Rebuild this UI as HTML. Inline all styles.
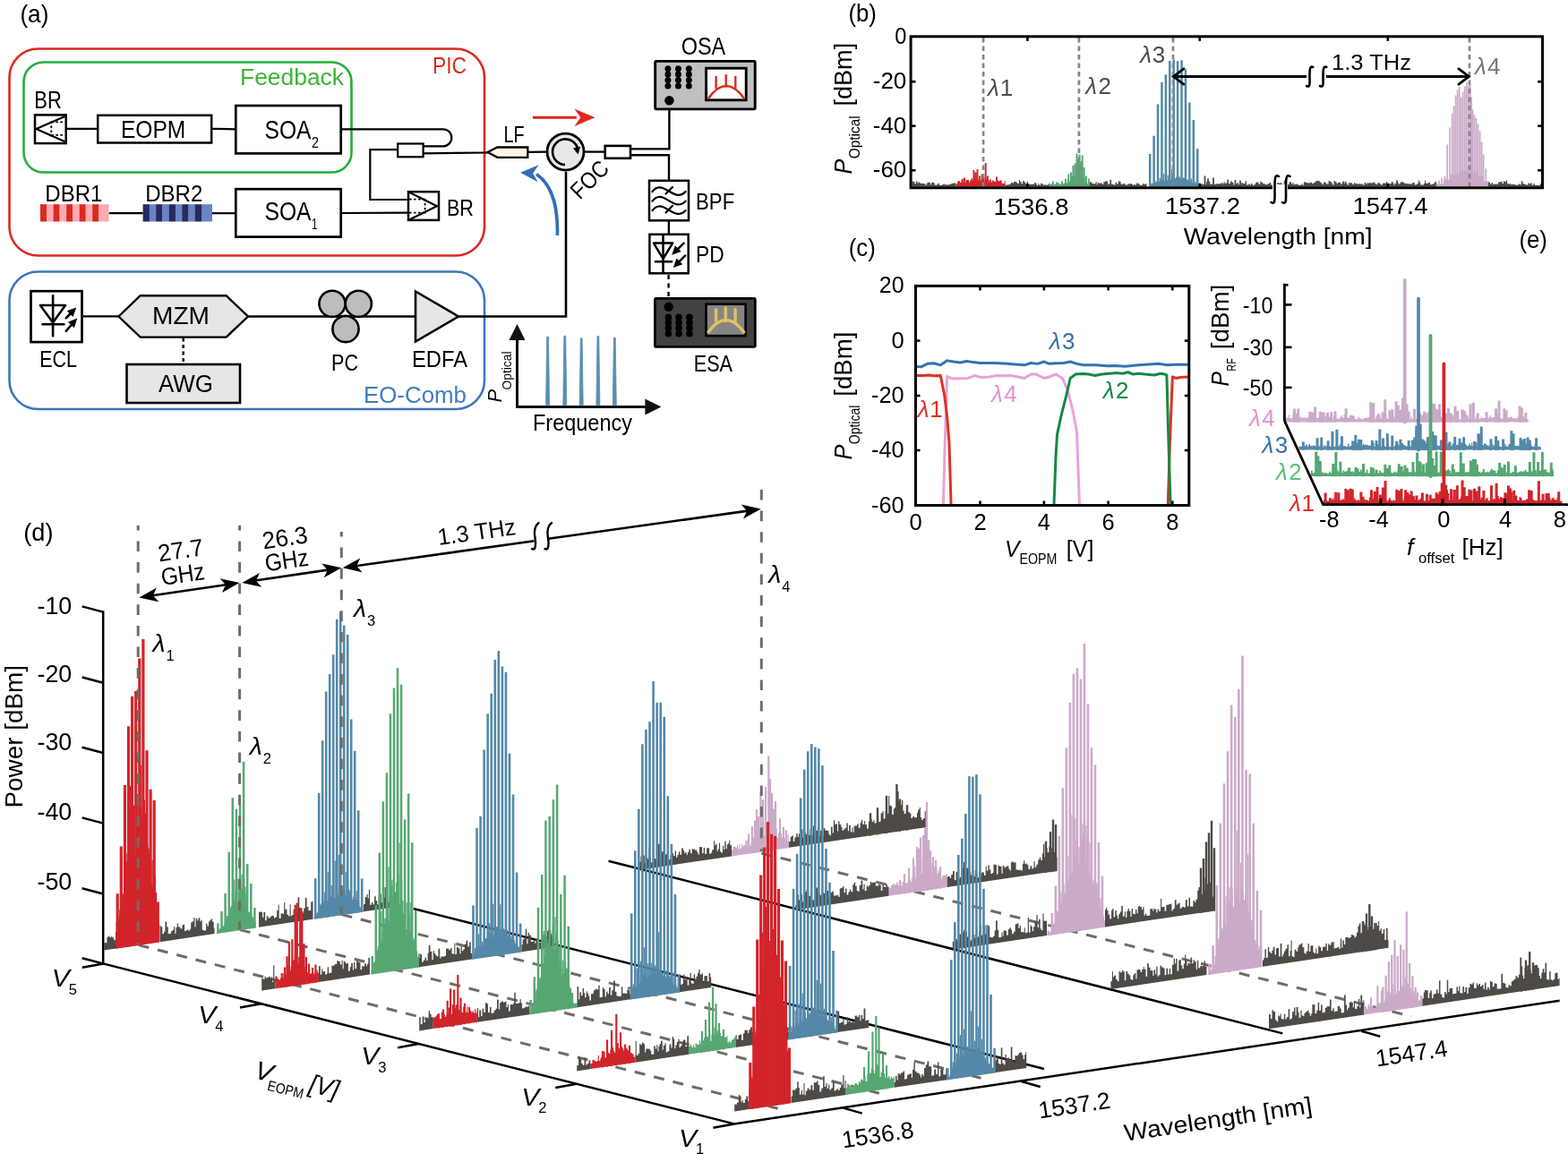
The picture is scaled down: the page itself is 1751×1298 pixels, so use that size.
<!DOCTYPE html>
<html><head><meta charset="utf-8"><title>Figure</title>
<style>
html,body{margin:0;padding:0;background:#fff;overflow:hidden;width:1751px;height:1298px;}
svg{display:block;}
text{font-family:'Liberation Sans',Arial,sans-serif;}
</style></head><body>
<svg width="1751" height="1298" viewBox="0 0 1751 1298">
<rect width="1751" height="1298" fill="#fff"/>
<g id="pd">
<line x1="115.2" y1="1076.4" x2="819.8" y2="1255.4" stroke="#000" stroke-width="2.5" />
<line x1="819.8" y1="1255.4" x2="1741.6" y2="1117.7" stroke="#000" stroke-width="2.5" />
<line x1="461.7" y1="1015" x2="1166" y2="1194" stroke="#000" stroke-width="2.5" />
<line x1="679.5" y1="961.7" x2="1432.3" y2="1154.4" stroke="#000" stroke-width="2.5" />
<line x1="154.6" y1="1055.6" x2="868.6" y2="1238.2" stroke="#6e6d65" stroke-width="3" stroke-dasharray="12,10" stroke-dashoffset="0"/>
<line x1="267.8" y1="1038.6" x2="981.8" y2="1221.2" stroke="#6e6d65" stroke-width="3" stroke-dasharray="12,10" stroke-dashoffset="0"/>
<line x1="381.5" y1="1021.6" x2="1095.5" y2="1204.2" stroke="#6e6d65" stroke-width="3" stroke-dasharray="12,10" stroke-dashoffset="0"/>
<line x1="850.3" y1="953" x2="1576" y2="1135.3" stroke="#6e6d65" stroke-width="3" stroke-dasharray="12,10" stroke-dashoffset="0"/>
<line x1="115.2" y1="682.2" x2="115.2" y2="1077.6" stroke="#000" stroke-width="2.5" />
<line x1="115.2" y1="683.6" x2="91.6" y2="677.4" stroke="#000" stroke-width="2.5" />
<line x1="115.2" y1="762.7" x2="91.6" y2="756.5" stroke="#000" stroke-width="2.5" />
<line x1="115.2" y1="841" x2="91.6" y2="834.8" stroke="#000" stroke-width="2.5" />
<line x1="115.2" y1="919.6" x2="91.6" y2="913.4" stroke="#000" stroke-width="2.5" />
<line x1="115.2" y1="998.5" x2="91.6" y2="992.3" stroke="#000" stroke-width="2.5" />
<line x1="115.2" y1="1076.4" x2="91.6" y2="1070.2" stroke="#000" stroke-width="2.5" />
<line x1="115.2" y1="1076.4" x2="91.8" y2="1080.8" stroke="#000" stroke-width="2.5" />
<line x1="291.35" y1="1121.15" x2="267.95" y2="1125.55" stroke="#000" stroke-width="2.5" />
<line x1="467.5" y1="1165.9" x2="444.1" y2="1170.3" stroke="#000" stroke-width="2.5" />
<line x1="643.65" y1="1210.65" x2="620.25" y2="1215.05" stroke="#000" stroke-width="2.5" />
<line x1="819.8" y1="1255.4" x2="796.4" y2="1259.8" stroke="#000" stroke-width="2.5" />
<line x1="941.7" y1="1237.6" x2="962.7" y2="1243.6" stroke="#000" stroke-width="2.5" />
<line x1="1140.7" y1="1208" x2="1161.7" y2="1214" stroke="#000" stroke-width="2.5" />
<line x1="1520.2" y1="1151.7" x2="1541.2" y2="1157.7" stroke="#000" stroke-width="2.5" />
<path d="M712.6,971.9 L712.6,961.98 L714.17,961.75 L714.17,963.03 L715.48,962.84 L715.48,956.47 L716.66,956.3 L716.66,954.81 L718.23,954.58 L718.23,955.83 L719.8,955.59 L719.8,964.27 L721.28,964.05 L721.28,957.97 L723.22,957.68 L723.22,959.41 L724.29,959.25 L724.29,945.94 L725.46,945.77 L725.46,956.6 L726.91,956.38 L726.91,963.51 L728.74,963.24 L728.74,958.86 L730.65,958.58 L730.65,959.16 L732.14,958.94 L732.14,960.08 L733.52,959.87 L733.52,962.35 L735.03,962.12 L735.03,942.77 L736.79,942.51 L736.79,959.9 L738.2,959.69 L738.2,952.29 L739.43,952.1 L739.43,951.09 L740.57,950.93 L740.57,950.97 L741.76,950.8 L741.76,954.6 L743.57,954.33 L743.57,954.4 L744.71,954.23 L744.71,952.7 L745.79,952.54 L745.79,956.75 L746.86,956.59 L746.86,960.21 L748.54,959.97 L748.54,955.39 L750.07,955.17 L750.07,953.21 L752,952.92 L752,955.91 L753.72,955.65 L753.72,950.45 L755.02,950.26 L755.02,957.76 L756.47,957.54 L756.47,955.07 L757.85,954.86 L757.85,951.39 L759.46,951.15 L759.46,954.87 L761.1,954.63 L761.1,947.54 L762.85,947.27 L762.85,950.01 L764.2,949.81 L764.2,953.26 L765.61,953.05 L765.61,951.82 L766.78,951.64 L766.78,955.01 L767.96,954.83 L767.96,951.96 L769.32,951.76 L769.32,949.02 L770.96,948.78 L770.96,953.26 L772.79,952.98 L772.79,948.22 L774.06,948.03 L774.06,948.73 L775.93,948.45 L775.93,949.64 L777.36,949.42 L777.36,949.65 L778.43,949.49 L778.43,952.2 L779.63,952.02 L779.63,954.81 L780.97,954.61 L780.97,946.29 L782.53,946.06 L782.53,946.25 L784.08,946.02 L784.08,953.32 L785.68,953.08 L785.68,946.9 L787.21,946.68 L787.21,954.03 L789.05,953.75 L789.05,947.61 L790.86,947.35 L790.86,947.37 L792.13,947.18 L792.13,953.83 L793.98,953.55 L793.98,952.6 L795.16,952.43 L795.16,949.4 L797.07,949.12 L797.07,939.27 L798.26,939.09 L798.26,944.19 L799.6,943.99 L799.6,942.65 L800.67,942.49 L800.67,950.94 L801.78,950.78 L801.78,948.45 L802.92,948.28 L802.92,941.56 L804.09,941.39 L804.09,951.31 L805.37,951.12 L805.37,952.68 L807.05,952.43 L807.05,944.78 L808.16,944.62 L808.16,949.08 L809.29,948.92 L809.29,939.79 L810.65,939.59 L810.65,948.15 L811.81,947.98 L811.81,943.47 L812.91,943.3 L812.91,942.27 L814.22,942.07 L814.22,938.79 L815.28,938.63 L815.28,944.24 L817,943.98 L817,956.38 Z" fill="#4e4a45" />
<path d="M817,956.38 L817,949.52 L818.34,949.32 L818.34,946.2 L819.65,946.01 L819.65,945.91 L821.46,945.64 L821.46,946.92 L823.03,946.68 L823.03,944.33 L824.3,944.14 L824.3,948.79 L825.34,948.63 L825.34,943.09 L826.46,942.93 L826.46,947.99 L828.17,947.74 L828.17,943.07 L829.36,942.89 L829.36,945.71 L830.47,945.54 L830.47,944.29 L832.26,944.02 L832.26,939.21 L833.44,939.03 L833.44,939.07 L834.72,938.88 L834.72,946.09 L836.1,945.89 L836.1,941.78 L837.5,941.57 L837.5,944.81 L838.56,944.65 L838.56,941.85 L839.56,941.71 L839.56,941.18 L841.03,940.97 L841.03,935.24 L842.56,935.01 L842.56,930.79 L843.87,930.6 L843.87,930.98 L844.97,930.81 L844.97,929.23 L845.99,929.08 L845.99,924.21 L847.5,923.99 L847.5,923.52 L848.6,923.36 L848.6,927.75 L850.28,927.5 L850.28,918.73 L851.75,918.51 L851.75,918.63 L853.31,918.39 L853.31,933.93 L854.4,933.76 L854.4,931.19 L856.08,930.94 L856.08,919.81 L857.59,919.58 L857.59,921.32 L858.57,921.18 L858.57,916.09 L859.97,915.88 L859.97,920.43 L861.01,920.28 L861.01,926.01 L862.05,925.85 L862.05,923.14 L863.21,922.97 L863.21,917.11 L864.6,916.9 L864.6,928.07 L866.15,927.84 L866.15,924.94 L867.67,924.71 L867.67,936.34 L868.87,936.16 L868.87,930.4 L870.32,930.19 L870.32,938.74 L871.53,938.56 L871.53,930.48 L873.08,930.25 L873.08,935.47 L874.45,935.26 L874.45,936.09 L876.18,935.83 L876.18,936.52 L877.95,936.26 L877.95,939.63 L879.61,939.39 L879.61,932.28 L880.82,932.1 L880.82,938.03 L881,938 L881,946.87 Z" fill="#cbaac9" />
<path d="M857.2,950.71 L857.2,844.25 L859.4,844.25 L859.4,950.38 Z M848.4,952.02 L848.4,885.55 L850.6,885.55 L850.6,951.69 Z M853.9,951.2 L853.9,878.74 L856.1,878.74 L856.1,950.87 Z M860.9,950.16 L860.9,885.7 L863.1,885.7 L863.1,949.83 Z M843.9,952.69 L843.9,904.22 L846.1,904.22 L846.1,952.36 Z M864.9,949.57 L864.9,895.1 L867.1,895.1 L867.1,949.24 Z M838.9,953.43 L838.9,922.97 L841.1,922.97 L841.1,953.1 Z M869.9,948.82 L869.9,914.36 L872.1,914.36 L872.1,948.5 Z M850.9,951.65 L850.9,893.18 L853.1,893.18 L853.1,951.32 Z M834.9,954.02 L834.9,931.56 L837.1,931.56 L837.1,953.7 Z M873.9,948.23 L873.9,923.76 L876.1,923.76 L876.1,947.9 Z M845.9,952.39 L845.9,911.93 L848.1,911.93 L848.1,952.06 Z M858.9,950.46 L858.9,869.99 L861.1,869.99 L861.1,950.13 Z M862.9,949.86 L862.9,903.4 L865.1,903.4 L865.1,949.54 Z M841.9,952.98 L841.9,916.52 L844.1,916.52 L844.1,952.66 Z M876.9,947.78 L876.9,927.32 L879.1,927.32 L879.1,947.46 Z" fill="#cbaac9"/>
<path d="M881,946.87 L881,940.23 L882.73,939.98 L882.73,935.08 L883.89,934.91 L883.89,933.81 L885.82,933.52 L885.82,939.93 L887.37,939.7 L887.37,935.54 L889.24,935.26 L889.24,931.1 L890.69,930.89 L890.69,935.09 L891.82,934.92 L891.82,931.48 L893.55,931.23 L893.55,930.5 L894.9,930.3 L894.9,926.57 L896.41,926.35 L896.41,935.86 L897.7,935.67 L897.7,929.35 L899.51,929.08 L899.51,931.73 L901.37,931.45 L901.37,931.28 L903.25,931 L903.25,933.25 L904.53,933.06 L904.53,926.22 L906.43,925.94 L906.43,932.9 L907.89,932.68 L907.89,922.58 L909.77,922.3 L909.77,927.19 L911.39,926.94 L911.39,927.98 L912.96,927.74 L912.96,923.51 L914.43,923.29 L914.43,933.39 L915.9,933.17 L915.9,927.75 L917.23,927.55 L917.23,929.04 L918.51,928.85 L918.51,933.74 L919.59,933.58 L919.59,925.34 L921.36,925.08 L921.36,927.79 L922.69,927.6 L922.69,927.79 L924.01,927.59 L924.01,928.25 L925.43,928.03 L925.43,932.3 L926.84,932.1 L926.84,933.64 L927.93,933.48 L927.93,923.74 L929.64,923.49 L929.64,930.61 L930.86,930.43 L930.86,916.49 L932.25,916.28 L932.25,920.9 L933.62,920.7 L933.62,920.56 L934.99,920.35 L934.99,928.59 L936.08,928.43 L936.08,917.5 L937.46,917.3 L937.46,921.09 L939.2,920.83 L939.2,924.05 L940.48,923.86 L940.48,927.64 L941.78,927.45 L941.78,926.69 L943.47,926.44 L943.47,924.98 L945.35,924.7 L945.35,919.5 L946.82,919.29 L946.82,928.54 L948.1,928.35 L948.1,922.05 L949.87,921.79 L949.87,929.45 L951.47,929.21 L951.47,924.4 L952.59,924.23 L952.59,929.84 L953.7,929.67 L953.7,922.65 L955.54,922.38 L955.54,922.79 L957.04,922.57 L957.04,920.48 L958.7,920.23 L958.7,924.99 L960.51,924.72 L960.51,919.36 L961.78,919.17 L961.78,916.03 L963.18,915.83 L963.18,920.9 L965.13,920.61 L965.13,917.1 L966.21,916.94 L966.21,921.25 L968.1,920.97 L968.1,925.65 L969.85,925.39 L969.85,917.39 L971.23,917.19 L971.23,917.69 L972.46,917.5 L972.46,915.11 L973.7,914.93 L973.7,918.18 L975.24,917.95 L975.24,916.28 L976.55,916.08 L976.55,919.66 L977.92,919.45 L977.92,919.19 L979.15,919.01 L979.15,913.79 L980.93,913.53 L980.93,918.32 L982,918.17 L982,917.76 L983.61,917.52 L983.61,908.45 L985.49,908.17 L985.49,906.28 L986.66,906.11 L986.66,914.83 L988.54,914.55 L988.54,906.02 L989.73,905.84 L989.73,899.47 L990.95,899.29 L990.95,908.84 L992.22,908.65 L992.22,889.26 L993.3,889.1 L993.3,899.75 L994.63,899.55 L994.63,900.49 L996.07,900.27 L996.07,909.9 L997.81,909.64 L997.81,903.56 L998.98,903.39 L998.98,902.09 L1000.6,901.85 L1000.6,904.05 L1001.7,903.89 L1001.7,884.19 L1003.65,883.9 L1003.65,895.08 L1005.14,894.86 L1005.14,899.16 L1007.03,898.88 L1007.03,894.04 L1008.32,893.84 L1008.32,905.41 L1009.61,905.22 L1009.61,909.35 L1011.5,909.07 L1011.5,906.49 L1012.66,906.32 L1012.66,907.09 L1014.21,906.86 L1014.21,907.3 L1015.82,907.06 L1015.82,908.71 L1017.39,908.47 L1017.39,913.95 L1019.11,913.69 L1019.11,912.13 L1021.05,911.84 L1021.05,913.14 L1022.13,912.98 L1022.13,913.36 L1023.98,913.08 L1023.98,908 L1025.13,907.83 L1025.13,904.55 L1026.74,904.31 L1026.74,902.16 L1027.88,901.99 L1027.88,913.25 L1029.16,913.06 L1029.16,916.01 L1030.8,915.77 L1030.8,914.27 L1032.66,914 L1032.66,906.25 L1033.8,906.08 L1033.8,924.17 Z" fill="#4e4a45" />
<path d="M1000.2,929.46 L1000.2,875.98 L1002.6,875.98 L1002.6,929.1 Z M988.8,931.15 L988.8,888.68 L991.2,888.68 L991.2,930.8 Z M1003.8,928.92 L1003.8,892.45 L1006.2,892.45 L1006.2,928.57 Z M978.8,932.64 L978.8,902.16 L981.2,902.16 L981.2,932.28 Z M1011.8,927.74 L1011.8,899.26 L1014.2,899.26 L1014.2,927.38 Z M970.8,933.83 L970.8,908.35 L973.2,908.35 L973.2,933.47 Z" fill="#4e4a45"/>
<path d="M116.2,1061.4 L116.2,1053.27 L117.89,1053.01 L117.89,1053.36 L119.36,1053.14 L119.36,1047.16 L120.62,1046.97 L120.62,1045.66 L122.43,1045.39 L122.43,1047.33 L124.19,1047.07 L124.19,1045.83 L125.44,1045.64 L125.44,1047.42 L127.16,1047.17 L127.16,1050.15 L129,1049.87 L129,1041.27 L130.67,1041.02 L130.67,1050.14 L131,1050.09 L131,1059.2 Z" fill="#4e4a45" />
<path d="M129.6,1059.41 L129.6,1029.55 L130.8,1029.37 L130.8,1027.42 L132,1027.24 L132,1027.93 L133.2,1027.75 L133.2,1016.13 L134.4,1015.95 L134.4,1011.55 L135.6,1011.37 L135.6,1009.96 L136.8,1009.79 L136.8,1004.24 L138,1004.06 L138,983.29 L139.2,983.11 L139.2,993.03 L140.4,992.85 L140.4,953.05 L141.6,952.87 L141.6,975.83 L142.8,975.65 L142.8,973.97 L144,973.79 L144,964.43 L145.2,964.25 L145.2,917.96 L146.4,917.78 L146.4,944.07 L147.6,943.89 L147.6,951.17 L148.8,950.99 L148.8,956.78 L150,956.6 L150,955.35 L151.2,955.18 L151.2,917.76 L152.4,917.58 L152.4,917.69 L153.6,917.51 L153.6,908.69 L154.8,908.51 L154.8,900.88 L156,900.7 L156,938.9 L157.2,938.73 L157.2,902.16 L158.4,901.98 L158.4,914.24 L159.6,914.06 L159.6,880.63 L160.8,880.45 L160.8,893.63 L162,893.45 L162,908.28 L163.2,908.1 L163.2,967.11 L164.4,966.93 L164.4,943.4 L165.6,943.22 L165.6,948.11 L166.8,947.93 L166.8,953.68 L168,953.5 L168,989.42 L169.2,989.24 L169.2,987.61 L170.4,987.43 L170.4,992.01 L171.6,991.83 L171.6,995.74 L172.8,995.57 L172.8,979.05 L174,978.87 L174,996.98 L175.2,996.81 L175.2,1016.59 L176.4,1016.41 L176.4,1029.28 L177.6,1029.1 L177.6,1030.84 L177.9,1030.8 L177.9,1052.23 Z" fill="#d2242b" />
<path d="M132.6,1059.26 L132.6,1023.11 L133.9,1023.11 L133.9,1059.07 Z M136.7,1058.65 L136.7,998.37 L138,998.37 L138,1058.46 Z M140.8,1058.04 L140.8,961.83 L142.1,961.83 L142.1,1057.85 Z M144.9,1057.44 L144.9,878.15 L146.2,878.15 L146.2,1057.24 Z M149,1056.83 L149,899.77 L150.3,899.77 L150.3,1056.63 Z M153.1,1056.22 L153.1,886.63 L154.4,886.63 L154.4,1056.02 Z M157.2,1055.61 L157.2,854.53 L158.5,854.53 L158.5,1055.41 Z M161.3,1055 L161.3,945.25 L162.6,945.25 L162.6,1054.8 Z M165.4,1054.39 L165.4,954.75 L166.7,954.75 L166.7,1054.2 Z M169.5,1053.78 L169.5,960.4 L170.8,960.4 L170.8,1053.59 Z M173.6,1053.17 L173.6,1020.61 L174.9,1020.61 L174.9,1052.98 Z" fill="#d2242b"/>
<path d="M129.6,1059.71 L129.6,998.17 L132.8,998.17 L132.8,1059.23 Z M133.7,1059.1 L133.7,945.56 L136.9,945.56 L136.9,1058.62 Z M137.8,1058.49 L137.8,876.95 L141,876.95 L141,1058.01 Z M141.9,1057.88 L141.9,811.34 L145.1,811.34 L145.1,1057.41 Z M146,1057.27 L146,777.73 L149.2,777.73 L149.2,1056.8 Z M150.1,1056.66 L150.1,772.12 L153.3,772.12 L153.3,1056.19 Z M154.2,1056.05 L154.2,735.52 L157.4,735.52 L157.4,1055.58 Z M158.3,1055.44 L158.3,713.91 L161.5,713.91 L161.5,1054.97 Z M162.4,1054.83 L162.4,838.3 L165.6,838.3 L165.6,1054.36 Z M166.5,1054.23 L166.5,881.69 L169.7,881.69 L169.7,1053.75 Z M170.6,1053.62 L170.6,894.08 L173.8,894.08 L173.8,1053.14 Z M174.7,1053.01 L174.7,1007.47 L177.9,1007.47 L177.9,1052.53 Z" fill="#d2242b"/>
<path d="M178.5,1052.14 L178.5,1034.31 L179.78,1034.12 L179.78,1035.42 L181.28,1035.2 L181.28,1043.33 L183.04,1043.06 L183.04,1040.73 L184.41,1040.53 L184.41,1029.73 L186.26,1029.45 L186.26,1035.58 L187.76,1035.35 L187.76,1042.92 L189.23,1042.7 L189.23,1043.31 L190.86,1043.06 L190.86,1040.56 L192.51,1040.32 L192.51,1038.91 L194.08,1038.68 L194.08,1035.15 L195.3,1034.96 L195.3,1043 L196.49,1042.82 L196.49,1036.28 L197.68,1036.1 L197.68,1031.32 L198.82,1031.16 L198.82,1035.21 L200.59,1034.94 L200.59,1036.38 L201.74,1036.21 L201.74,1037.42 L203.5,1037.16 L203.5,1033.45 L204.68,1033.27 L204.68,1032.68 L206.11,1032.47 L206.11,1040.26 L207.37,1040.08 L207.37,1039.48 L209.05,1039.23 L209.05,1038.51 L210.51,1038.29 L210.51,1039.89 L211.93,1039.68 L211.93,1037.83 L213.21,1037.64 L213.21,1030.51 L214.87,1030.27 L214.87,1029.27 L216.27,1029.06 L216.27,1025.01 L217.46,1024.83 L217.46,1035.39 L218.6,1035.22 L218.6,1026.02 L220.23,1025.77 L220.23,1028.51 L221.47,1028.32 L221.47,1025.52 L223.4,1025.24 L223.4,1029.71 L224.47,1029.56 L224.47,1027.95 L225.75,1027.76 L225.75,1038.84 L227.28,1038.62 L227.28,1039.62 L228.52,1039.44 L228.52,1039.42 L230.14,1039.18 L230.14,1031.87 L231.51,1031.66 L231.51,1034.71 L232.98,1034.49 L232.98,1029.62 L234.35,1029.41 L234.35,1027.98 L235.78,1027.77 L235.78,1026.45 L237.05,1026.26 L237.05,1029.67 L238.7,1029.42 L238.7,1036.83 L239.5,1036.72 L239.5,1043.08 Z" fill="#4e4a45" />
<path d="M242.15,1042.68 L242.15,1039.28 L243.35,1039.1 L243.35,1039 L244.55,1038.82 L244.55,1037.87 L245.75,1037.7 L245.75,1037.96 L246.95,1037.78 L246.95,1035.08 L248.15,1034.9 L248.15,1034.04 L249.35,1033.87 L249.35,1034.67 L250.55,1034.49 L250.55,1033.3 L251.75,1033.12 L251.75,1026.62 L252.95,1026.44 L252.95,1024.21 L254.15,1024.04 L254.15,1023.7 L255.35,1023.52 L255.35,1021.85 L256.55,1021.67 L256.55,1017.55 L257.75,1017.37 L257.75,1012.09 L258.95,1011.91 L258.95,998.85 L260.15,998.67 L260.15,1002.86 L261.35,1002.68 L261.35,1006.99 L262.55,1006.81 L262.55,995.06 L263.75,994.88 L263.75,997.94 L264.95,997.76 L264.95,1007.78 L266.15,1007.6 L266.15,995.26 L267.35,995.08 L267.35,999.37 L268.55,999.19 L268.55,994.14 L269.75,993.96 L269.75,991.97 L270.95,991.79 L270.95,983.09 L272.15,982.91 L272.15,981.55 L273.35,981.37 L273.35,990.68 L274.55,990.5 L274.55,1010.1 L275.75,1009.92 L275.75,1012.71 L276.95,1012.53 L276.95,1018.77 L278.15,1018.6 L278.15,1018.84 L279.35,1018.66 L279.35,1022.65 L280.55,1022.47 L280.55,1021.71 L281.75,1021.53 L281.75,1025.66 L282.95,1025.48 L282.95,1028.83 L284.15,1028.65 L284.15,1030.69 L285.35,1030.51 L285.35,1031.16 L285.65,1031.12 L285.65,1036.22 Z" fill="#56a772" />
<path d="M244.8,1042.59 L244.8,1037.55 L246.1,1037.55 L246.1,1042.4 Z M248.9,1041.98 L248.9,1035.09 L250.2,1035.09 L250.2,1041.79 Z M253,1041.37 L253,1022.99 L254.3,1022.99 L254.3,1041.18 Z M257.1,1040.76 L257.1,1013.68 L258.4,1013.68 L258.4,1040.57 Z M261.2,1040.15 L261.2,982.49 L262.5,982.49 L262.5,1039.96 Z M265.3,1039.54 L265.3,981.56 L266.6,981.56 L266.6,1039.35 Z M269.4,1038.93 L269.4,976.84 L270.7,976.84 L270.7,1038.74 Z M273.5,1038.33 L273.5,997.85 L274.8,997.85 L274.8,1038.13 Z M277.6,1037.72 L277.6,1024.7 L278.9,1024.7 L278.9,1037.52 Z M281.7,1037.11 L281.7,1024.46 L283,1024.46 L283,1036.91 Z" fill="#56a772"/>
<path d="M242.15,1042.98 L242.15,1031.5 L244.65,1031.5 L244.65,1042.61 Z M246.25,1042.37 L246.25,1017.89 L248.75,1017.89 L248.75,1042 Z M250.35,1041.77 L250.35,997.78 L252.85,997.78 L252.85,1041.39 Z M254.45,1041.16 L254.45,951.87 L256.95,951.87 L256.95,1040.78 Z M258.55,1040.55 L258.55,891.26 L261.05,891.26 L261.05,1040.18 Z M262.65,1039.94 L262.65,903.75 L265.15,903.75 L265.15,1039.57 Z M266.75,1039.33 L266.75,898.24 L269.25,898.24 L269.25,1038.96 Z M270.85,1038.72 L270.85,850.73 L273.35,850.73 L273.35,1038.35 Z M274.95,1038.11 L274.95,965.02 L277.45,965.02 L277.45,1037.74 Z M279.05,1037.5 L279.05,987.01 L281.55,987.01 L281.55,1037.13 Z M283.15,1036.89 L283.15,1013.91 L285.65,1013.91 L285.65,1036.52 Z" fill="#56a772"/>
<path d="M289,1035.72 L289,1018.92 L290.24,1018.74 L290.24,1018.47 L291.55,1018.27 L291.55,1018.93 L293.06,1018.7 L293.06,1024.86 L294.41,1024.66 L294.41,1019.09 L296.16,1018.82 L296.16,1028.37 L297.7,1028.14 L297.7,1023.44 L299.58,1023.16 L299.58,1025.68 L301.45,1025.4 L301.45,1024.19 L303.13,1023.94 L303.13,1023.07 L304.78,1022.82 L304.78,1023.33 L305.99,1023.15 L305.99,1025.39 L307.63,1025.15 L307.63,1024.46 L309.19,1024.23 L309.19,1017.01 L310.63,1016.8 L310.63,1010.7 L311.71,1010.54 L311.71,1025.93 L313.59,1025.65 L313.59,1020.38 L315.48,1020.09 L315.48,1020.94 L317.11,1020.7 L317.11,1008.34 L318.27,1008.17 L318.27,1016.16 L319.34,1016 L319.34,1015.45 L320.43,1015.29 L320.43,1021.75 L322.14,1021.5 L322.14,1023.4 L323.6,1023.18 L323.6,1010.26 L324.66,1010.11 L324.66,1023.41 L325.79,1023.25 L325.79,1022.36 L327.61,1022.09 L327.61,1015.86 L329.06,1015.65 L329.06,1013.43 L330.69,1013.19 L330.69,1016.36 L332.59,1016.08 L332.59,1002.56 L334.27,1002.31 L334.27,1014.08 L336.07,1013.81 L336.07,1014.55 L337.46,1014.34 L337.46,1019.8 L339.23,1019.54 L339.23,1014.62 L340.81,1014.39 L340.81,1003.02 L342.59,1002.76 L342.59,1013.13 L344.37,1012.87 L344.37,1017.24 L345.49,1017.07 L345.49,1017.23 L347.22,1016.97 L347.22,1007.58 L348.69,1007.37 L348.69,1006.84 L349.5,1006.72 L349.5,1026.73 Z" fill="#4e4a45" />
<path d="M350.9,1026.52 L350.9,1023.55 L352.1,1023.37 L352.1,1022.2 L353.3,1022.03 L353.3,1019.71 L354.5,1019.53 L354.5,1018.88 L355.7,1018.7 L355.7,1015.07 L356.9,1014.89 L356.9,1011.32 L358.1,1011.15 L358.1,1009.56 L359.3,1009.38 L359.3,1010.15 L360.5,1009.97 L360.5,1008.9 L361.7,1008.72 L361.7,1006.54 L362.9,1006.36 L362.9,1008.37 L364.1,1008.2 L364.1,1007.04 L365.3,1006.86 L365.3,1006.51 L366.5,1006.33 L366.5,1001.01 L367.7,1000.83 L367.7,1003.6 L368.9,1003.42 L368.9,1000.96 L370.1,1000.78 L370.1,1001.9 L371.3,1001.72 L371.3,1000.04 L372.5,999.87 L372.5,1003.15 L373.7,1002.97 L373.7,1003.33 L374.9,1003.15 L374.9,991.48 L376.1,991.3 L376.1,997.54 L377.3,997.37 L377.3,1000.34 L378.5,1000.16 L378.5,993.63 L379.7,993.46 L379.7,991.37 L380.9,991.19 L380.9,999 L382.1,998.82 L382.1,993.88 L383.3,993.71 L383.3,997.08 L384.5,996.9 L384.5,995.21 L385.7,995.03 L385.7,1001.03 L386.9,1000.85 L386.9,1000.91 L388.1,1000.73 L388.1,990.19 L389.3,990.01 L389.3,993.89 L390.5,993.72 L390.5,999.92 L391.7,999.74 L391.7,1001.37 L392.9,1001.19 L392.9,1005.02 L394.1,1004.85 L394.1,1001.9 L395.3,1001.72 L395.3,1005.11 L396.5,1004.93 L396.5,1002.66 L397.7,1002.49 L397.7,1005.44 L398.9,1005.27 L398.9,1006.83 L400.1,1006.66 L400.1,1007.91 L401.3,1007.73 L401.3,1012.34 L402.5,1012.16 L402.5,1014.37 L403.7,1014.19 L403.7,1015.4 L404.9,1015.22 L404.9,1015.93 L405.5,1015.84 L405.5,1018.41 Z" fill="#5488a8" />
<path d="M353.55,1026.43 L353.55,1023.14 L354.85,1023.14 L354.85,1026.24 Z M357.55,1025.84 L357.55,1017.23 L358.85,1017.23 L358.85,1025.64 Z M361.55,1025.24 L361.55,996.18 L362.85,996.18 L362.85,1025.05 Z M365.55,1024.65 L365.55,974.35 L366.85,974.35 L366.85,1024.45 Z M369.55,1024.05 L369.55,988.99 L370.85,988.99 L370.85,1023.86 Z M373.55,1023.46 L373.55,961.44 L374.85,961.44 L374.85,1023.26 Z M377.55,1022.86 L377.55,954.72 L378.85,954.72 L378.85,1022.67 Z M381.55,1022.27 L381.55,1002.2 L382.85,1002.2 L382.85,1022.08 Z M385.55,1021.67 L385.55,973.96 L386.85,973.96 L386.85,1021.48 Z M389.55,1021.08 L389.55,995.17 L390.85,995.17 L390.85,1020.89 Z M393.55,1020.49 L393.55,1007.35 L394.85,1007.35 L394.85,1020.29 Z M397.55,1019.89 L397.55,995.2 L398.85,995.2 L398.85,1019.7 Z M401.55,1019.3 L401.55,1015.43 L402.85,1015.43 L402.85,1019.1 Z" fill="#5488a8"/>
<path d="M350.9,1026.82 L350.9,981.33 L353.5,981.33 L353.5,1026.44 Z M354.9,1026.23 L354.9,885.74 L357.5,885.74 L357.5,1025.84 Z M358.9,1025.63 L358.9,827.14 L361.5,827.14 L361.5,1025.25 Z M362.9,1025.04 L362.9,772.55 L365.5,772.55 L365.5,1024.65 Z M366.9,1024.45 L366.9,752.95 L369.5,752.95 L369.5,1024.06 Z M370.9,1023.85 L370.9,731.36 L373.5,731.36 L373.5,1023.47 Z M374.9,1023.26 L374.9,691.76 L377.5,691.76 L377.5,1022.87 Z M378.9,1022.66 L378.9,683.17 L381.5,683.17 L381.5,1022.28 Z M382.9,1022.07 L382.9,698.58 L385.5,698.58 L385.5,1021.68 Z M386.9,1021.47 L386.9,708.98 L389.5,708.98 L389.5,1021.09 Z M390.9,1020.88 L390.9,803.39 L393.5,803.39 L393.5,1020.49 Z M394.9,1020.29 L394.9,838.79 L397.5,838.79 L397.5,1019.9 Z M398.9,1019.69 L398.9,905.2 L401.5,905.2 L401.5,1019.3 Z M402.9,1019.1 L402.9,981.6 L405.5,981.6 L405.5,1018.71 Z" fill="#5488a8"/>
<path d="M406,1018.34 L406,1010.14 L407.63,1009.9 L407.63,1002.14 L409.53,1001.86 L409.53,999.05 L410.67,998.88 L410.67,1003.63 L411.87,1003.45 L411.87,993.86 L413.1,993.67 L413.1,1010.87 L414.99,1010.59 L414.99,1008.06 L416.44,1007.85 L416.44,1010.57 L418.06,1010.33 L418.06,1001.37 L419.67,1001.13 L419.67,1006.31 L421.22,1006.08 L421.22,1010.39 L422.64,1010.18 L422.64,1000.6 L423.84,1000.42 L423.84,998.68 L425.77,998.39 L425.77,1008.16 L427.01,1007.98 L427.01,999.27 L428.39,999.06 L428.39,1002.59 L429.53,1002.42 L429.53,991.12 L430.84,990.93 L430.84,993.79 L432.02,993.61 L432.02,1007.79 L433.24,1007.61 L433.24,1007.46 L434.8,1007.23 L434.8,1001.26 L436.03,1001.08 L436.03,1001.51 L437.33,1001.31 L437.33,1007.72 L439.11,1007.46 L439.11,1002.37 L440.52,1002.16 L440.52,997.11 L442.2,996.87 L442.2,1012.96 Z" fill="#4e4a45" />
<line x1="154.2" y1="587" x2="154.2" y2="1055" stroke="#6e6d65" stroke-width="3" stroke-dasharray="11.6,12" stroke-dashoffset="6.1"/>
<line x1="267.6" y1="587" x2="267.6" y2="1038.2" stroke="#6e6d65" stroke-width="3" stroke-dasharray="11.6,12" stroke-dashoffset="6.1"/>
<line x1="381.3" y1="594" x2="381.3" y2="1021.3" stroke="#6e6d65" stroke-width="3" stroke-dasharray="11.6,12" stroke-dashoffset="6.1"/>
<path d="M888.2,1016.3 L888.2,1011.27 L889.27,1011.11 L889.27,1004.78 L890.41,1004.61 L890.41,999.49 L891.9,999.27 L891.9,1005.48 L893.08,1005.31 L893.08,1008.17 L894.64,1007.94 L894.64,998.97 L896.04,998.76 L896.04,1007.39 L897.45,1007.19 L897.45,1005.27 L898.71,1005.08 L898.71,996.49 L900.59,996.21 L900.59,993.25 L902.5,992.96 L902.5,1000.82 L903.88,1000.62 L903.88,1000.89 L904.94,1000.74 L904.94,1007.74 L906.84,1007.46 L906.84,1005.51 L908.68,1005.24 L908.68,1006.1 L910.34,1005.85 L910.34,991.41 L911.62,991.22 L911.62,991.63 L912.94,991.43 L912.94,995.98 L914.46,995.76 L914.46,998.36 L915.62,998.19 L915.62,1000.1 L916.89,999.91 L916.89,997.55 L918.45,997.32 L918.45,996.98 L919.99,996.75 L919.99,997.96 L921.24,997.78 L921.24,992.16 L923.07,991.88 L923.07,995.18 L925.01,994.89 L925.01,1003.17 L926.12,1003.01 L926.12,998.34 L927.56,998.13 L927.56,996.97 L929.28,996.71 L929.28,995.82 L930.88,995.58 L930.88,1000.41 L932.6,1000.16 L932.6,1000.54 L934.35,1000.27 L934.35,1000.03 L936.19,999.76 L936.19,1001.99 L937.69,1001.76 L937.69,992.48 L939.52,992.21 L939.52,991.68 L941.22,991.43 L941.22,990.21 L942.56,990.01 L942.56,997.3 L944.01,997.08 L944.01,992.71 L945.59,992.47 L945.59,999.64 L947.39,999.37 L947.39,996.47 L948.83,996.25 L948.83,993.51 L950.33,993.29 L950.33,996.21 L952.27,995.92 L952.27,988.2 L953.65,987.99 L953.65,985.79 L955.17,985.56 L955.17,989.79 L956.74,989.56 L956.74,995.22 L958.18,995 L958.18,995.86 L959.71,995.63 L959.71,988.98 L961.5,988.72 L961.5,983.67 L963.29,983.4 L963.29,993.5 L964.48,993.32 L964.48,987.63 L965.7,987.45 L965.7,995.33 L967.64,995.04 L967.64,989.45 L968.97,989.25 L968.97,990.38 L970.54,990.14 L970.54,988.83 L971.83,988.64 L971.83,985.05 L973.25,984.84 L973.25,986.42 L974.39,986.25 L974.39,985.71 L976.17,985.45 L976.17,985.75 L977.86,985.5 L977.86,989.65 L979.73,989.37 L979.73,989.71 L980.83,989.55 L980.83,987.65 L982.43,987.41 L982.43,988.74 L983.77,988.54 L983.77,994.99 L985.36,994.76 L985.36,987.93 L986.76,987.73 L986.76,990.8 L988.25,990.58 L988.25,990.96 L989.46,990.78 L989.46,988.25 L990.99,988.02 L990.99,990.71 L992.7,990.46 L992.7,1000.77 Z" fill="#4e4a45" />
<path d="M992.7,1000.77 L992.7,991.95 L993.84,991.78 L993.84,992.32 L994.85,992.17 L994.85,989.12 L995.96,988.95 L995.96,988.62 L997.17,988.44 L997.17,987.39 L998.52,987.19 L998.52,987.11 L999.63,986.95 L999.63,990.78 L1000.93,990.59 L1000.93,985.76 L1002.71,985.49 L1002.71,989.03 L1004.07,988.83 L1004.07,991.52 L1005.27,991.34 L1005.27,985.06 L1006.56,984.87 L1006.56,989.82 L1007.72,989.65 L1007.72,984.87 L1009.13,984.66 L1009.13,986.8 L1010.76,986.56 L1010.76,986.46 L1012.21,986.25 L1012.21,986.74 L1013.26,986.59 L1013.26,985.39 L1014.51,985.21 L1014.51,983.45 L1015.97,983.24 L1015.97,982.61 L1017.2,982.43 L1017.2,984.91 L1018.37,984.73 L1018.37,979.86 L1019.58,979.68 L1019.58,973.86 L1021.21,973.62 L1021.21,967.49 L1022.3,967.33 L1022.3,981.21 L1023.86,980.98 L1023.86,972 L1025.18,971.8 L1025.18,964.71 L1026.37,964.53 L1026.37,967.72 L1027.88,967.49 L1027.88,976.22 L1029.63,975.96 L1029.63,958.65 L1030.64,958.5 L1030.64,975.04 L1031.79,974.87 L1031.79,968.04 L1032.8,967.89 L1032.8,962.49 L1033.93,962.33 L1033.93,959.87 L1035.51,959.63 L1035.51,967.91 L1037.07,967.68 L1037.07,976.13 L1038.75,975.88 L1038.75,968.56 L1039.76,968.41 L1039.76,963.74 L1040.78,963.59 L1040.78,976.94 L1042.43,976.7 L1042.43,968.45 L1044.04,968.21 L1044.04,974.29 L1045.35,974.1 L1045.35,969.52 L1046.56,969.34 L1046.56,975.53 L1047.9,975.33 L1047.9,972.06 L1049.5,971.82 L1049.5,974.57 L1050.86,974.36 L1050.86,981.44 L1052.2,981.24 L1052.2,977.93 L1053.29,977.77 L1053.29,978.49 L1054.86,978.25 L1054.86,977.91 L1056.3,977.7 L1056.3,976.31 L1057.73,976.1 L1057.73,982.68 L1057.8,982.67 L1057.8,991.09 Z" fill="#cbaac9" />
<path d="M1033.9,994.95 L1033.9,895.98 L1036.1,895.98 L1036.1,994.62 Z M1029.9,995.54 L1029.9,933.08 L1032.1,933.08 L1032.1,995.21 Z M1026.9,995.99 L1026.9,935.52 L1029.1,935.52 L1029.1,995.66 Z M1022.9,996.58 L1022.9,946.12 L1025.1,946.12 L1025.1,996.25 Z M1037.9,994.35 L1037.9,949.89 L1040.1,949.89 L1040.1,994.02 Z M1018.9,997.18 L1018.9,958.71 L1021.1,958.71 L1021.1,996.85 Z M1043.9,993.46 L1043.9,961 L1046.1,961 L1046.1,993.13 Z M1013.9,997.92 L1013.9,969.45 L1016.1,969.45 L1016.1,997.59 Z M1048.9,992.72 L1048.9,968.25 L1051.1,968.25 L1051.1,992.39 Z M1008.9,998.66 L1008.9,976.2 L1011.1,976.2 L1011.1,998.33 Z M1031.9,995.24 L1031.9,924.78 L1034.1,924.78 L1034.1,994.92 Z M1024.9,996.28 L1024.9,947.82 L1027.1,947.82 L1027.1,995.96 Z M1035.9,994.65 L1035.9,938.19 L1038.1,938.19 L1038.1,994.32 Z M1040.9,993.91 L1040.9,957.44 L1043.1,957.44 L1043.1,993.58 Z M1003.9,999.4 L1003.9,982.94 L1006.1,982.94 L1006.1,999.08 Z" fill="#cbaac9"/>
<path d="M1057.8,991.09 L1057.8,979.57 L1059.24,979.36 L1059.24,978.94 L1060.87,978.7 L1060.87,981.06 L1062.15,980.87 L1062.15,977.21 L1063.95,976.94 L1063.95,973.17 L1065.84,972.89 L1065.84,983.2 L1067.55,982.94 L1067.55,974.25 L1068.94,974.05 L1068.94,974.38 L1070.02,974.22 L1070.02,981.87 L1071.71,981.62 L1071.71,979.92 L1073.21,979.7 L1073.21,972.99 L1074.88,972.75 L1074.88,969.6 L1075.96,969.44 L1075.96,963.31 L1077.78,963.04 L1077.78,972.19 L1079.3,971.97 L1079.3,969.71 L1081.09,969.44 L1081.09,970.73 L1082.65,970.5 L1082.65,973.68 L1084.11,973.46 L1084.11,977.49 L1086.04,977.21 L1086.04,978.14 L1087.14,977.98 L1087.14,978.91 L1088.71,978.67 L1088.71,972.34 L1090.07,972.14 L1090.07,975.2 L1091.52,974.99 L1091.52,980.5 L1093.09,980.26 L1093.09,973.14 L1094.24,972.97 L1094.24,979.99 L1095.39,979.81 L1095.39,975.48 L1096.67,975.29 L1096.67,974.26 L1097.82,974.09 L1097.82,974.63 L1098.94,974.46 L1098.94,977.94 L1100.63,977.69 L1100.63,967.77 L1101.77,967.6 L1101.77,972.78 L1103.33,972.55 L1103.33,966.49 L1104.72,966.28 L1104.72,971.48 L1106.4,971.23 L1106.4,975.98 L1108.24,975.71 L1108.24,974.98 L1109.44,974.8 L1109.44,965.83 L1111.23,965.57 L1111.23,966.28 L1112.93,966.02 L1112.93,976.72 L1114.48,976.49 L1114.48,966.7 L1115.75,966.51 L1115.75,967.74 L1116.91,967.57 L1116.91,968.09 L1118.46,967.86 L1118.46,975.82 L1119.64,975.64 L1119.64,967.28 L1121.54,967 L1121.54,969.19 L1123.37,968.92 L1123.37,967.79 L1125.04,967.55 L1125.04,967.51 L1126.44,967.3 L1126.44,970.63 L1127.79,970.43 L1127.79,972.72 L1128.88,972.55 L1128.88,963.58 L1130.28,963.37 L1130.28,962.19 L1131.34,962.03 L1131.34,963.42 L1133,963.17 L1133,963.39 L1134.56,963.16 L1134.56,971.47 L1135.64,971.31 L1135.64,971.79 L1137.39,971.53 L1137.39,972.13 L1138.69,971.93 L1138.69,971.77 L1140.35,971.53 L1140.35,972.73 L1141.86,972.51 L1141.86,965.13 L1142.97,964.96 L1142.97,961.6 L1144.35,961.39 L1144.35,965.12 L1145.4,964.96 L1145.4,964.59 L1146.73,964.4 L1146.73,966.1 L1148.43,965.85 L1148.43,971.12 L1150.31,970.84 L1150.31,967.43 L1152.25,967.14 L1152.25,970.56 L1153.36,970.4 L1153.36,969.91 L1154.43,969.75 L1154.43,962.32 L1155.66,962.14 L1155.66,968.74 L1157.37,968.48 L1157.37,965.76 L1159.21,965.48 L1159.21,960.55 L1160.83,960.31 L1160.83,958.01 L1162.25,957.8 L1162.25,960.89 L1163.86,960.65 L1163.86,953.49 L1164.92,953.33 L1164.92,942.96 L1166.27,942.76 L1166.27,957.57 L1168.05,957.31 L1168.05,947.07 L1169.64,946.83 L1169.64,952.17 L1171.38,951.91 L1171.38,945.56 L1172.68,945.37 L1172.68,959.27 L1174.16,959.05 L1174.16,946.89 L1175.42,946.7 L1175.42,956.48 L1176.92,956.26 L1176.92,951.95 L1178.13,951.77 L1178.13,961.27 L1179.88,961.01 L1179.88,957.72 L1180.5,957.63 L1180.5,972.86 Z" fill="#4e4a45" />
<path d="M1174.8,974.01 L1174.8,915.53 L1177.2,915.53 L1177.2,973.65 Z M1171.8,974.45 L1171.8,928.98 L1174.2,928.98 L1174.2,974.1 Z M1177.8,973.56 L1177.8,921.08 L1180.2,921.08 L1180.2,973.21 Z M1166.8,975.2 L1166.8,939.72 L1169.2,939.72 L1169.2,974.84 Z" fill="#4e4a45"/>
<path d="M292.2,1106.4 L292.2,1093.16 L294.1,1092.88 L294.1,1094.06 L295.54,1093.85 L295.54,1091.06 L296.86,1090.87 L296.86,1092.45 L298.69,1092.18 L298.69,1091.71 L299.99,1091.52 L299.99,1091.04 L301.66,1090.79 L301.66,1092.6 L302.89,1092.42 L302.89,1091.37 L304.11,1091.19 L304.11,1097.26 L305.18,1097.11 L305.18,1078.53 L306.37,1078.36 L306.37,1094.4 L307.5,1094.23 L307.5,1098.3 L307.5,1098.3 L307.5,1104.13 Z" fill="#4e4a45" />
<path d="M307.5,1104.13 L307.5,1090.14 L308.68,1089.97 L308.68,1091.12 L309.69,1090.97 L309.69,1093.34 L311.03,1093.14 L311.03,1096.31 L312.84,1096.04 L312.84,1092.75 L313.92,1092.59 L313.92,1092.01 L315.26,1091.81 L315.26,1092.25 L316.37,1092.09 L316.37,1087.33 L317.44,1087.17 L317.44,1089.35 L319.19,1089.09 L319.19,1089.11 L320.99,1088.85 L320.99,1078.73 L322.2,1078.55 L322.2,1086.94 L323.23,1086.79 L323.23,1084.09 L324.56,1083.89 L324.56,1080.01 L325.55,1079.86 L325.55,1073.76 L326.98,1073.54 L326.98,1072.47 L328.79,1072.2 L328.79,1067.74 L330.1,1067.54 L330.1,1076.62 L331.9,1076.35 L331.9,1076.58 L333.22,1076.38 L333.22,1069.12 L334.21,1068.98 L334.21,1067.52 L335.4,1067.34 L335.4,1076.74 L336.59,1076.56 L336.59,1084.37 L338.27,1084.12 L338.27,1072.35 L339.3,1072.2 L339.3,1080.19 L340.82,1079.96 L340.82,1082.75 L342.61,1082.48 L342.61,1086.17 L344.31,1085.92 L344.31,1084.39 L346.13,1084.12 L346.13,1087.66 L347.73,1087.42 L347.73,1087.09 L349.04,1086.9 L349.04,1086.45 L350.59,1086.22 L350.59,1088.33 L352.03,1088.11 L352.03,1089.22 L353.23,1089.04 L353.23,1083.77 L354.82,1083.53 L354.82,1086.76 L355.98,1086.58 L355.98,1089.63 L356,1089.63 L356,1096.92 Z" fill="#d2242b" />
<path d="M321.8,1102.3 L321.8,1051.84 L324,1051.84 L324,1101.97 Z M325.2,1101.8 L325.2,1049.33 L327.4,1049.33 L327.4,1101.47 Z M328.6,1101.29 L328.6,1010.83 L330.8,1010.83 L330.8,1100.96 Z M330.7,1100.98 L330.7,1008.52 L332.9,1008.52 L332.9,1100.65 Z M334.1,1100.47 L334.1,1014.01 L336.3,1014.01 L336.3,1100.15 Z M336.2,1100.16 L336.2,1017.7 L338.4,1017.7 L338.4,1099.83 Z M338.4,1099.83 L338.4,1054.37 L340.6,1054.37 L340.6,1099.51 Z M340.9,1099.46 L340.9,1069 L343.1,1069 L343.1,1099.14 Z M343.9,1099.02 L343.9,1076.55 L346.1,1076.55 L346.1,1098.69 Z M347.9,1098.42 L347.9,1080.96 L350.1,1080.96 L350.1,1098.1 Z M351.3,1097.92 L351.3,1077.45 L353.5,1077.45 L353.5,1097.59 Z M313.6,1103.52 L313.6,1087.06 L315.8,1087.06 L315.8,1103.19 Z M316.9,1103.03 L316.9,1080.57 L319.1,1080.57 L319.1,1102.7 Z M319.4,1102.66 L319.4,1068.19 L321.6,1068.19 L321.6,1102.33 Z" fill="#d2242b"/>
<path d="M356,1096.92 L356,1079.24 L357.73,1078.98 L357.73,1088.74 L359.25,1088.52 L359.25,1082.37 L360.32,1082.21 L360.32,1085.44 L362.01,1085.19 L362.01,1085.01 L363.15,1084.84 L363.15,1088.63 L364.58,1088.42 L364.58,1087.67 L365.67,1087.51 L365.67,1080.52 L367.08,1080.31 L367.08,1087.11 L368.48,1086.91 L368.48,1086.86 L370.4,1086.58 L370.4,1078.66 L371.52,1078.49 L371.52,1079.11 L373.38,1078.83 L373.38,1077.25 L374.85,1077.03 L374.85,1077.03 L376.29,1076.82 L376.29,1073.3 L378.01,1073.04 L378.01,1074.1 L379.75,1073.84 L379.75,1077.61 L381.54,1077.34 L381.54,1072.77 L382.64,1072.61 L382.64,1082.35 L383.73,1082.19 L383.73,1073.75 L385.52,1073.48 L385.52,1075.56 L386.58,1075.4 L386.58,1076.49 L387.85,1076.3 L387.85,1075.97 L388.95,1075.81 L388.95,1084.75 L390.77,1084.48 L390.77,1080.32 L392.16,1080.12 L392.16,1075.96 L393.93,1075.7 L393.93,1083.71 L395.03,1083.55 L395.03,1074.97 L396.37,1074.78 L396.37,1082.37 L398.06,1082.12 L398.06,1073.09 L399.51,1072.87 L399.51,1074.42 L400.6,1074.26 L400.6,1075.04 L402.48,1074.76 L402.48,1083.18 L404.14,1082.94 L404.14,1079.14 L405.32,1078.96 L405.32,1079.7 L407.07,1079.44 L407.07,1076.51 L408.94,1076.23 L408.94,1079.14 L410.03,1078.98 L410.03,1076.81 L411.36,1076.61 L411.36,1069.89 L413,1069.64 L413,1088.45 Z" fill="#4e4a45" />
<path d="M414.49,1088.23 L414.49,1083.66 L415.69,1083.48 L415.69,1081.93 L416.89,1081.75 L416.89,1076.05 L418.09,1075.87 L418.09,1074.11 L419.29,1073.93 L419.29,1072.61 L420.49,1072.43 L420.49,1065.19 L421.69,1065.01 L421.69,1057.37 L422.89,1057.19 L422.89,1058.33 L424.09,1058.15 L424.09,1048.76 L425.29,1048.58 L425.29,1052.36 L426.49,1052.18 L426.49,1040.82 L427.69,1040.64 L427.69,1030.2 L428.89,1030.02 L428.89,1034.04 L430.09,1033.87 L430.09,1025.18 L431.29,1025.01 L431.29,1037.02 L432.49,1036.84 L432.49,1013.75 L433.69,1013.57 L433.69,1028.88 L434.89,1028.7 L434.89,998.29 L436.09,998.11 L436.09,989.8 L437.29,989.62 L437.29,988.91 L438.49,988.73 L438.49,1001.19 L439.69,1001.01 L439.69,1007.61 L440.89,1007.44 L440.89,1003.55 L442.09,1003.37 L442.09,985.94 L443.29,985.76 L443.29,993.99 L444.49,993.81 L444.49,975.92 L445.69,975.74 L445.69,1010.67 L446.89,1010.5 L446.89,996.52 L448.09,996.34 L448.09,983.68 L449.29,983.5 L449.29,1006.3 L450.49,1006.12 L450.49,1020.34 L451.69,1020.16 L451.69,1042.43 L452.89,1042.25 L452.89,1043.35 L454.09,1043.17 L454.09,1038.4 L455.29,1038.22 L455.29,1022.02 L456.49,1021.84 L456.49,1022.56 L457.69,1022.38 L457.69,1040.43 L458.89,1040.26 L458.89,1030.93 L460.09,1030.75 L460.09,1051.18 L461.29,1051 L461.29,1047.62 L462.49,1047.44 L462.49,1049.53 L463.69,1049.36 L463.69,1062.27 L464.89,1062.09 L464.89,1062.62 L466.09,1062.44 L466.09,1068.6 L467.29,1068.42 L467.29,1074.59 L468.49,1074.41 L468.49,1076.45 L469.51,1076.3 L469.51,1080.05 Z" fill="#56a772" />
<path d="M417.11,1088.14 L417.11,1079.59 L418.41,1079.59 L418.41,1087.95 Z M421.15,1087.54 L421.15,1061.39 L422.45,1061.39 L422.45,1087.34 Z M425.19,1086.94 L425.19,1018.07 L426.49,1018.07 L426.49,1086.74 Z M429.23,1086.34 L429.23,1026.27 L430.53,1026.27 L430.53,1086.14 Z M433.27,1085.74 L433.27,968.37 L434.57,968.37 L434.57,1085.54 Z M437.31,1085.14 L437.31,982.71 L438.61,982.71 L438.61,1084.94 Z M441.35,1084.54 L441.35,997.49 L442.65,997.49 L442.65,1084.34 Z M445.39,1083.94 L445.39,941.58 L446.69,941.58 L446.69,1083.74 Z M449.43,1083.34 L449.43,1035.54 L450.73,1035.54 L450.73,1083.14 Z M453.47,1082.74 L453.47,1008.26 L454.77,1008.26 L454.77,1082.54 Z M457.51,1082.13 L457.51,1007.97 L458.81,1007.97 L458.81,1081.94 Z M461.55,1081.53 L461.55,1051.7 L462.85,1051.7 L462.85,1081.34 Z M465.59,1080.93 L465.59,1074.37 L466.89,1074.37 L466.89,1080.74 Z" fill="#56a772"/>
<path d="M414.49,1088.53 L414.49,1068.04 L416.99,1068.04 L416.99,1088.16 Z M418.53,1087.93 L418.53,1010.94 L421.03,1010.94 L421.03,1087.56 Z M422.57,1087.33 L422.57,952.54 L425.07,952.54 L425.07,1086.96 Z M426.61,1086.73 L426.61,895.34 L429.11,895.34 L429.11,1086.36 Z M430.65,1086.13 L430.65,863.14 L433.15,863.14 L433.15,1085.75 Z M434.69,1085.53 L434.69,797.14 L437.19,797.14 L437.19,1085.15 Z M438.73,1084.93 L438.73,768.54 L441.23,768.54 L441.23,1084.55 Z M442.77,1084.33 L442.77,746.24 L445.27,746.24 L445.27,1083.95 Z M446.81,1083.72 L446.81,764.74 L449.31,764.74 L449.31,1083.35 Z M450.85,1083.12 L450.85,915.44 L453.35,915.44 L453.35,1082.75 Z M454.89,1082.52 L454.89,886.44 L457.39,886.44 L457.39,1082.15 Z M458.93,1081.92 L458.93,941.14 L461.43,941.14 L461.43,1081.55 Z M462.97,1081.32 L462.97,1016.64 L465.47,1016.64 L465.47,1080.95 Z M467.01,1080.72 L467.01,1065.24 L469.51,1065.24 L469.51,1080.35 Z" fill="#56a772"/>
<path d="M468,1080.28 L468,1070.07 L469.23,1069.89 L469.23,1066.18 L471.08,1065.9 L471.08,1074.72 L472.85,1074.46 L472.85,1072.87 L474.57,1072.61 L474.57,1069.79 L476.09,1069.56 L476.09,1073.1 L477.66,1072.87 L477.66,1064.7 L478.76,1064.54 L478.76,1056.26 L480.44,1056.01 L480.44,1062.92 L482.32,1062.64 L482.32,1072.18 L483.73,1071.97 L483.73,1062.15 L484.92,1061.97 L484.92,1064.96 L486.27,1064.76 L486.27,1067.34 L487.75,1067.12 L487.75,1068.46 L489.47,1068.2 L489.47,1059.88 L491.23,1059.62 L491.23,1070.5 L492.43,1070.32 L492.43,1068.31 L493.6,1068.13 L493.6,1068.8 L495.32,1068.55 L495.32,1068.43 L496.76,1068.22 L496.76,1068.06 L498.08,1067.87 L498.08,1059.83 L500,1059.54 L500,1059.73 L501.23,1059.55 L501.23,1061.57 L502.9,1061.32 L502.9,1059.28 L504.56,1059.04 L504.56,1065.34 L505.69,1065.17 L505.69,1065.66 L507.28,1065.42 L507.28,1053.57 L508.34,1053.41 L508.34,1066.31 L509.94,1066.07 L509.94,1058.07 L511.75,1057.8 L511.75,1059.49 L513.43,1059.24 L513.43,1065.4 L514.58,1065.22 L514.58,1057.41 L515.88,1057.21 L515.88,1062.18 L517.48,1061.94 L517.48,1060.13 L518.98,1059.9 L518.98,1054.85 L520.51,1054.62 L520.51,1050.65 L522.29,1050.38 L522.29,1057.53 L524.11,1057.25 L524.11,1052.54 L525.76,1052.3 L525.76,1064.98 L527,1064.79 L527,1071.51 Z" fill="#4e4a45" />
<path d="M527.17,1071.48 L527.17,1066.94 L528.38,1066.76 L528.38,1066.11 L529.58,1065.94 L529.58,1063.99 L530.78,1063.81 L530.78,1062.62 L531.98,1062.45 L531.98,1059.78 L533.18,1059.61 L533.18,1057.66 L534.38,1057.49 L534.38,1055.91 L535.58,1055.73 L535.58,1057.67 L536.78,1057.49 L536.78,1057.73 L537.98,1057.56 L537.98,1051.84 L539.18,1051.66 L539.18,1056.32 L540.38,1056.15 L540.38,1048.36 L541.58,1048.18 L541.58,1048.2 L542.78,1048.02 L542.78,1048.14 L543.98,1047.96 L543.98,1048.03 L545.18,1047.85 L545.18,1044.1 L546.38,1043.92 L546.38,1041.93 L547.58,1041.75 L547.58,1042.81 L548.78,1042.63 L548.78,1041.82 L549.98,1041.64 L549.98,1048.5 L551.18,1048.32 L551.18,1044.31 L552.38,1044.13 L552.38,1045.52 L553.58,1045.34 L553.58,1035.2 L554.78,1035.02 L554.78,1035.49 L555.98,1035.31 L555.98,1044.14 L557.18,1043.96 L557.18,1038.53 L558.38,1038.35 L558.38,1038.93 L559.58,1038.76 L559.58,1045.46 L560.78,1045.28 L560.78,1041.62 L561.98,1041.44 L561.98,1037.53 L563.18,1037.35 L563.18,1038.75 L564.38,1038.57 L564.38,1042.86 L565.58,1042.68 L565.58,1038.61 L566.78,1038.44 L566.78,1045.53 L567.98,1045.35 L567.98,1045.1 L569.18,1044.92 L569.18,1047.96 L570.38,1047.78 L570.38,1044.69 L571.58,1044.51 L571.58,1048.15 L572.78,1047.98 L572.78,1048.15 L573.98,1047.97 L573.98,1050.84 L575.18,1050.67 L575.18,1054.33 L576.38,1054.15 L576.38,1053.94 L577.58,1053.76 L577.58,1056.69 L578.78,1056.51 L578.78,1058.07 L579.98,1057.89 L579.98,1060.11 L581.18,1059.93 L581.18,1061.26 L582.38,1061.08 L582.38,1060.61 L582.42,1060.6 L582.42,1063.27 Z" fill="#5488a8" />
<path d="M529.85,1071.39 L529.85,1059.6 L531.15,1059.6 L531.15,1071.19 Z M533.9,1070.78 L533.9,1043.39 L535.2,1043.39 L535.2,1070.59 Z M537.95,1070.18 L537.95,1052.53 L539.25,1052.53 L539.25,1069.99 Z M542,1069.58 L542,1052.07 L543.3,1052.07 L543.3,1069.39 Z M546.05,1068.98 L546.05,1031.16 L547.35,1031.16 L547.35,1068.78 Z M550.1,1068.38 L550.1,1009.53 L551.4,1009.53 L551.4,1068.18 Z M554.15,1067.77 L554.15,1041.73 L555.45,1041.73 L555.45,1067.58 Z M558.2,1067.17 L558.2,1010.26 L559.5,1010.26 L559.5,1066.98 Z M562.25,1066.57 L562.25,1041.28 L563.55,1041.28 L563.55,1066.38 Z M566.3,1065.97 L566.3,1042.55 L567.6,1042.55 L567.6,1065.78 Z M570.35,1065.37 L570.35,1054.5 L571.65,1054.5 L571.65,1065.17 Z M574.4,1064.77 L574.4,1055.35 L575.7,1055.35 L575.7,1064.57 Z M578.45,1064.16 L578.45,1060.09 L579.75,1060.09 L579.75,1063.97 Z" fill="#5488a8"/>
<path d="M527.17,1071.78 L527.17,1011.49 L529.77,1011.49 L529.77,1071.4 Z M531.23,1071.18 L531.23,924.69 L533.82,924.69 L533.82,1070.79 Z M535.27,1070.58 L535.27,911.79 L537.87,911.79 L537.87,1070.19 Z M539.33,1069.98 L539.33,837.48 L541.92,837.48 L541.92,1069.59 Z M543.38,1069.38 L543.38,797.18 L545.97,797.18 L545.97,1068.99 Z M547.42,1068.77 L547.42,774.78 L550.02,774.78 L550.02,1068.39 Z M551.48,1068.17 L551.48,736.98 L554.07,736.98 L554.07,1067.79 Z M555.52,1067.57 L555.52,726.88 L558.12,726.88 L558.12,1067.18 Z M559.58,1066.97 L559.58,744.47 L562.17,744.47 L562.17,1066.58 Z M563.62,1066.37 L563.62,750.87 L566.22,750.87 L566.22,1065.98 Z M567.67,1065.76 L567.67,841.87 L570.27,841.87 L570.27,1065.38 Z M571.73,1065.16 L571.73,887.47 L574.32,887.47 L574.32,1064.78 Z M575.77,1064.56 L575.77,974.47 L578.37,974.47 L578.37,1064.17 Z M579.83,1063.96 L579.83,1031.57 L582.42,1031.57 L582.42,1063.57 Z" fill="#5488a8"/>
<path d="M582.5,1063.26 L582.5,1055.16 L583.69,1054.98 L583.69,1049.51 L585.41,1049.25 L585.41,1047.76 L586.72,1047.56 L586.72,1037.71 L588.28,1037.48 L588.28,1054.24 L589.55,1054.05 L589.55,1041.96 L590.97,1041.75 L590.97,1044.68 L592.89,1044.4 L592.89,1051.98 L594.3,1051.77 L594.3,1051.93 L595.7,1051.72 L595.7,1049.52 L597.23,1049.3 L597.23,1053.72 L598.4,1053.55 L598.4,1048.33 L600.22,1048.06 L600.22,1048.84 L601.52,1048.64 L601.52,1053.02 L602.7,1052.84 L602.7,1053.28 L604.56,1053.01 L604.56,1051.73 L606.19,1051.49 L606.19,1044.32 L607.79,1044.08 L607.79,1044.35 L609.09,1044.16 L609.09,1046.8 L611.02,1046.52 L611.02,1039.76 L612.82,1039.49 L612.82,1038.5 L614.12,1038.31 L614.12,1039.34 L615.21,1039.18 L615.21,1043.34 L616.56,1043.13 L616.56,1045.27 L617.8,1045.08 L617.8,1049.9 L618.2,1049.84 L618.2,1057.96 Z" fill="#4e4a45" />
<path d="M1063.8,1060.7 L1063.8,1052.07 L1065.5,1051.81 L1065.5,1035.08 L1067.2,1034.83 L1067.2,1049.19 L1068.82,1048.95 L1068.82,1050.67 L1070.19,1050.46 L1070.19,1051.69 L1071.33,1051.52 L1071.33,1043.76 L1073.27,1043.47 L1073.27,1049.05 L1075.06,1048.79 L1075.06,1041.36 L1076.3,1041.17 L1076.3,1038.64 L1078.2,1038.36 L1078.2,1040.75 L1079.98,1040.49 L1079.98,1046.62 L1081.56,1046.38 L1081.56,1041.36 L1083.03,1041.15 L1083.03,1051.56 L1084.14,1051.39 L1084.14,1050.32 L1085.63,1050.09 L1085.63,1043.96 L1087.02,1043.75 L1087.02,1044.2 L1088.48,1043.98 L1088.48,1048.09 L1089.93,1047.87 L1089.93,1036.17 L1091.34,1035.96 L1091.34,1046.63 L1092.97,1046.38 L1092.97,1041.17 L1094.56,1040.93 L1094.56,1033.63 L1095.96,1033.42 L1095.96,1044.84 L1097.68,1044.59 L1097.68,1033.5 L1098.77,1033.34 L1098.77,1033.84 L1100.42,1033.59 L1100.42,1043.81 L1101.71,1043.62 L1101.71,1035.08 L1103.63,1034.79 L1103.63,1034.52 L1105.14,1034.29 L1105.14,1046.88 L1107.02,1046.6 L1107.02,1047.51 L1108.81,1047.24 L1108.81,1046.03 L1110.58,1045.77 L1110.58,1039.47 L1111.98,1039.26 L1111.98,1028.58 L1113.76,1028.32 L1113.76,1038.82 L1115.2,1038.61 L1115.2,1047.2 L1116.57,1047 L1116.57,1047.27 L1118.38,1047 L1118.38,1041.7 L1119.56,1041.53 L1119.56,1045.81 L1120.62,1045.65 L1120.62,1039.57 L1122.14,1039.34 L1122.14,1039.69 L1124.01,1039.41 L1124.01,1044.67 L1125.82,1044.4 L1125.82,1038.33 L1127.25,1038.12 L1127.25,1036.56 L1128.94,1036.31 L1128.94,1038.65 L1130.08,1038.48 L1130.08,1043.23 L1131.96,1042.95 L1131.96,1040.78 L1133.69,1040.52 L1133.69,1032.54 L1135.54,1032.27 L1135.54,1031.61 L1137.39,1031.34 L1137.39,1036.93 L1138.72,1036.73 L1138.72,1034.07 L1139.92,1033.89 L1139.92,1041.23 L1141.81,1040.94 L1141.81,1041.51 L1143.73,1041.22 L1143.73,1036.47 L1144.8,1036.31 L1144.8,1042.33 L1146,1042.15 L1146,1041.83 L1147.73,1041.57 L1147.73,1024.93 L1148.96,1024.75 L1148.96,1041.79 L1150.55,1041.55 L1150.55,1033.37 L1151.65,1033.2 L1151.65,1035.1 L1152.8,1034.93 L1152.8,1040.23 L1154.1,1040.04 L1154.1,1035.53 L1155.52,1035.32 L1155.52,1029.39 L1157.41,1029.11 L1157.41,1021.84 L1158.66,1021.66 L1158.66,1036.03 L1159.96,1035.84 L1159.96,1026.89 L1161.6,1026.65 L1161.6,1037.49 L1162.78,1037.32 L1162.78,1039.31 L1164.42,1039.07 L1164.42,1020.51 L1165.59,1020.34 L1165.59,1028.72 L1167.35,1028.46 L1167.35,1028.72 L1168.62,1028.53 L1168.62,1029.1 L1169,1029.04 L1169,1045.06 Z" fill="#4e4a45" />
<path d="M1169.52,1044.99 L1169.52,1043.7 L1170.72,1043.53 L1170.72,1043.51 L1171.92,1043.33 L1171.92,1041.73 L1173.12,1041.55 L1173.12,1039.97 L1174.32,1039.79 L1174.32,1037.38 L1175.52,1037.2 L1175.52,1035.47 L1176.72,1035.29 L1176.72,1030.67 L1177.92,1030.5 L1177.92,1032.52 L1179.12,1032.35 L1179.12,1025.13 L1180.32,1024.95 L1180.32,1017.98 L1181.52,1017.8 L1181.52,1019.37 L1182.72,1019.19 L1182.72,1017.77 L1183.92,1017.6 L1183.92,1007.2 L1185.12,1007.02 L1185.12,1008.37 L1186.32,1008.2 L1186.32,997.25 L1187.52,997.07 L1187.52,987.24 L1188.72,987.06 L1188.72,997.65 L1189.92,997.47 L1189.92,993.61 L1191.12,993.43 L1191.12,980.06 L1192.32,979.88 L1192.32,984.55 L1193.52,984.37 L1193.52,978.78 L1194.72,978.6 L1194.72,967.66 L1195.92,967.48 L1195.92,975.82 L1197.12,975.64 L1197.12,975.17 L1198.32,974.99 L1198.32,961.79 L1199.52,961.62 L1199.52,956 L1200.72,955.82 L1200.72,937.36 L1201.92,937.18 L1201.92,951.25 L1203.12,951.07 L1203.12,969.52 L1204.32,969.34 L1204.32,964.5 L1205.52,964.32 L1205.52,945.66 L1206.72,945.48 L1206.72,953.49 L1207.92,953.31 L1207.92,938.7 L1209.12,938.52 L1209.12,930.82 L1210.32,930.64 L1210.32,930.8 L1211.52,930.63 L1211.52,962.7 L1212.72,962.53 L1212.72,935.69 L1213.92,935.51 L1213.92,957.63 L1215.12,957.45 L1215.12,972.69 L1216.32,972.51 L1216.32,978.53 L1217.52,978.35 L1217.52,961.94 L1218.72,961.76 L1218.72,984.52 L1219.92,984.34 L1219.92,989.68 L1221.12,989.5 L1221.12,986.33 L1222.32,986.15 L1222.32,971.58 L1223.52,971.41 L1223.52,987.29 L1224.72,987.11 L1224.72,989.58 L1225.92,989.41 L1225.92,1008.19 L1227.12,1008.01 L1227.12,1009.13 L1228.32,1008.95 L1228.32,1013.76 L1229.52,1013.58 L1229.52,1017.76 L1230.72,1017.58 L1230.72,1016.95 L1231.92,1016.77 L1231.92,1023.24 L1233.12,1023.06 L1233.12,1028.34 L1234.32,1028.16 L1234.32,1030.46 L1235.52,1030.28 L1235.52,1033.71 L1236.28,1033.59 L1236.28,1035.07 Z" fill="#cbaac9" />
<path d="M1172.18,1044.89 L1172.18,1042.93 L1173.48,1042.93 L1173.48,1044.7 Z M1176.18,1044.3 L1176.18,1037.73 L1177.49,1037.73 L1177.49,1044.1 Z M1180.2,1043.7 L1180.2,1017.46 L1181.5,1017.46 L1181.5,1043.51 Z M1184.2,1043.11 L1184.2,995.7 L1185.51,995.7 L1185.51,1042.91 Z M1188.22,1042.51 L1188.22,1000.17 L1189.52,1000.17 L1189.52,1042.32 Z M1192.22,1041.91 L1192.22,955.86 L1193.53,955.86 L1193.53,1041.72 Z M1196.24,1041.32 L1196.24,910.32 L1197.54,910.32 L1197.54,1041.12 Z M1200.24,1040.72 L1200.24,914.36 L1201.55,914.36 L1201.55,1040.53 Z M1204.26,1040.13 L1204.26,946.46 L1205.56,946.46 L1205.56,1039.93 Z M1208.26,1039.53 L1208.26,919.81 L1209.57,919.81 L1209.57,1039.34 Z M1212.28,1038.93 L1212.28,922.27 L1213.58,922.27 L1213.58,1038.74 Z M1216.28,1038.34 L1216.28,941.17 L1217.59,941.17 L1217.59,1038.14 Z M1220.3,1037.74 L1220.3,982.43 L1221.6,982.43 L1221.6,1037.55 Z M1224.3,1037.15 L1224.3,986.07 L1225.61,986.07 L1225.61,1036.95 Z M1228.32,1036.55 L1228.32,1002.98 L1229.62,1002.98 L1229.62,1036.36 Z M1232.32,1035.95 L1232.32,1033.01 L1233.62,1033.01 L1233.62,1035.76 Z" fill="#cbaac9"/>
<path d="M1169.52,1045.29 L1169.52,1039.79 L1172.12,1039.79 L1172.12,1044.9 Z M1173.53,1044.69 L1173.53,1019.9 L1176.13,1019.9 L1176.13,1044.3 Z M1177.54,1044.1 L1177.54,989.6 L1180.14,989.6 L1180.14,1043.71 Z M1181.55,1043.5 L1181.55,933.71 L1184.15,933.71 L1184.15,1043.11 Z M1185.56,1042.9 L1185.56,880.21 L1188.16,880.21 L1188.16,1042.52 Z M1189.57,1042.31 L1189.57,835.21 L1192.17,835.21 L1192.17,1041.92 Z M1193.58,1041.71 L1193.58,784.72 L1196.18,784.72 L1196.18,1041.33 Z M1197.59,1041.12 L1197.59,753.02 L1200.19,753.02 L1200.19,1040.73 Z M1201.6,1040.52 L1201.6,746.23 L1204.2,746.23 L1204.2,1040.13 Z M1205.61,1039.92 L1205.61,758.43 L1208.21,758.43 L1208.21,1039.54 Z M1209.62,1039.33 L1209.62,718.94 L1212.22,718.94 L1212.22,1038.94 Z M1213.63,1038.73 L1213.63,786.44 L1216.23,786.44 L1216.23,1038.35 Z M1217.64,1038.14 L1217.64,835.14 L1220.24,835.14 L1220.24,1037.75 Z M1221.65,1037.54 L1221.65,854.45 L1224.25,854.45 L1224.25,1037.15 Z M1225.66,1036.94 L1225.66,941.05 L1228.26,941.05 L1228.26,1036.56 Z M1229.67,1036.35 L1229.67,978.76 L1232.27,978.76 L1232.27,1035.96 Z M1233.68,1035.75 L1233.68,1030.26 L1236.28,1030.26 L1236.28,1035.37 Z" fill="#cbaac9"/>
<path d="M1234,1035.41 L1234,1016.21 L1235.17,1016.04 L1235.17,1013.84 L1236.35,1013.67 L1236.35,1017.24 L1237.55,1017.07 L1237.55,1021.64 L1239.19,1021.39 L1239.19,1026.53 L1241.09,1026.25 L1241.09,1017.12 L1242.16,1016.96 L1242.16,1015.09 L1243.59,1014.88 L1243.59,1024.5 L1245.22,1024.26 L1245.22,1017.35 L1246.8,1017.12 L1246.8,1022.67 L1248.02,1022.49 L1248.02,1026.44 L1249.24,1026.26 L1249.24,1021.27 L1250.76,1021.04 L1250.76,1018.48 L1252.23,1018.26 L1252.23,1011.99 L1253.89,1011.75 L1253.89,1023.82 L1255.81,1023.54 L1255.81,1018.35 L1257.04,1018.17 L1257.04,1025.01 L1258.3,1024.82 L1258.3,1018.03 L1259.47,1017.85 L1259.47,1014.99 L1260.88,1014.78 L1260.88,1017.76 L1262.45,1017.53 L1262.45,1024.09 L1263.66,1023.91 L1263.66,1014.99 L1265.04,1014.79 L1265.04,1020.76 L1266.67,1020.51 L1266.67,1021.45 L1267.9,1021.27 L1267.9,1016.25 L1269.49,1016.02 L1269.49,1020.46 L1270.72,1020.28 L1270.72,1013.03 L1271.83,1012.87 L1271.83,1012.02 L1273.12,1011.83 L1273.12,1013.22 L1275.01,1012.94 L1275.01,1015.95 L1276.35,1015.75 L1276.35,1013.11 L1277.54,1012.93 L1277.54,1022.8 L1278.83,1022.61 L1278.83,1020.85 L1280.32,1020.63 L1280.32,1022.9 L1281.42,1022.73 L1281.42,1023.09 L1283.11,1022.84 L1283.11,1022.79 L1284.25,1022.63 L1284.25,1015.57 L1286.01,1015.31 L1286.01,1015.09 L1287.19,1014.91 L1287.19,1017.62 L1288.45,1017.43 L1288.45,1014.66 L1289.53,1014.5 L1289.53,1015.63 L1291.2,1015.38 L1291.2,1019.56 L1292.53,1019.36 L1292.53,1015.63 L1294.28,1015.38 L1294.28,1017.91 L1296.04,1017.65 L1296.04,1003.88 L1297.17,1003.71 L1297.17,1013.21 L1299.01,1012.94 L1299.01,1013.08 L1300.53,1012.85 L1300.53,1017.74 L1302.28,1017.48 L1302.28,1010.76 L1303.56,1010.57 L1303.56,1011.09 L1305.25,1010.84 L1305.25,1009.97 L1307.14,1009.69 L1307.14,1009.63 L1308.44,1009.44 L1308.44,1017.73 L1309.6,1017.56 L1309.6,1015.96 L1310.72,1015.8 L1310.72,1014.67 L1311.84,1014.5 L1311.84,1005.38 L1313.58,1005.12 L1313.58,1010.63 L1315.11,1010.41 L1315.11,1009.52 L1316.55,1009.31 L1316.55,1008.66 L1317.7,1008.48 L1317.7,1014.8 L1319.57,1014.52 L1319.57,1013.2 L1320.87,1013 L1320.87,1012.9 L1322.04,1012.72 L1322.04,1013.75 L1323.82,1013.49 L1323.82,1005.19 L1325.77,1004.9 L1325.77,1012.56 L1327.49,1012.31 L1327.49,1002.86 L1329.05,1002.63 L1329.05,1012.76 L1330.96,1012.48 L1330.96,1012.64 L1332.34,1012.44 L1332.34,1006.36 L1334.21,1006.08 L1334.21,1008.03 L1335.48,1007.84 L1335.48,1004.67 L1337.21,1004.41 L1337.21,994.82 L1338.38,994.64 L1338.38,991.19 L1340.19,990.93 L1340.19,988.37 L1341.83,988.13 L1341.83,999 L1343.18,998.8 L1343.18,998.59 L1344.54,998.39 L1344.54,980.83 L1345.65,980.66 L1345.65,994.01 L1347.06,993.81 L1347.06,987.45 L1348.92,987.17 L1348.92,994.71 L1350.76,994.44 L1350.76,985.63 L1352.24,985.41 L1352.24,999.09 L1353.62,998.89 L1353.62,1001.79 L1355.49,1001.52 L1355.49,994.15 L1356.62,993.99 L1356.62,1001.08 L1357,1001.02 L1357,1017.13 Z" fill="#4e4a45" />
<path d="M1351.8,1018.2 L1351.8,916.72 L1354.2,916.72 L1354.2,1017.84 Z M1348.8,1018.65 L1348.8,930.17 L1351.2,930.17 L1351.2,1018.29 Z M1345.8,1019.09 L1345.8,940.61 L1348.2,940.61 L1348.2,1018.74 Z M1342.8,1019.54 L1342.8,959.06 L1345.2,959.06 L1345.2,1019.18 Z M1339.8,1019.98 L1339.8,969.51 L1342.2,969.51 L1342.2,1019.63 Z M1354.8,1017.75 L1354.8,947.28 L1357.2,947.28 L1357.2,1017.4 Z" fill="#4e4a45"/>
<path d="M468.2,1151.4 L468.2,1136.34 L469.74,1136.11 L469.74,1144.2 L471.65,1143.92 L471.65,1135.65 L473.52,1135.37 L473.52,1142.28 L474.9,1142.07 L474.9,1137.36 L476.76,1137.08 L476.76,1138.39 L478.65,1138.1 L478.65,1129.24 L480.08,1129.02 L480.08,1132.86 L481.59,1132.63 L481.59,1136.29 L483.28,1136.04 L483.28,1135.81 L483.7,1135.75 L483.7,1149.1 Z" fill="#4e4a45" />
<path d="M483.7,1149.1 L483.7,1136.69 L484.85,1136.52 L484.85,1136.57 L486.46,1136.33 L486.46,1135.04 L487.67,1134.86 L487.67,1133.36 L488.69,1133.21 L488.69,1132.63 L489.74,1132.48 L489.74,1138.68 L491.29,1138.45 L491.29,1137.93 L492.81,1137.7 L492.81,1130.65 L494.43,1130.41 L494.43,1136.31 L495.55,1136.15 L495.55,1132.93 L496.78,1132.75 L496.78,1135.79 L497.84,1135.64 L497.84,1134.56 L499.24,1134.35 L499.24,1132.98 L500.59,1132.78 L500.59,1125.81 L502.36,1125.54 L502.36,1130.79 L503.84,1130.57 L503.84,1133.04 L504.88,1132.88 L504.88,1122.16 L506.2,1121.96 L506.2,1128.64 L507.48,1128.45 L507.48,1125.91 L508.58,1125.75 L508.58,1122.92 L509.57,1122.77 L509.57,1121.75 L510.85,1121.56 L510.85,1122.11 L512.16,1121.92 L512.16,1128.55 L513.61,1128.34 L513.61,1123.91 L515.39,1123.64 L515.39,1130.95 L517.08,1130.7 L517.08,1125.04 L518.63,1124.8 L518.63,1127.62 L520.07,1127.4 L520.07,1130.84 L521.15,1130.68 L521.15,1124.97 L522.15,1124.82 L522.15,1130.92 L523.55,1130.71 L523.55,1129.94 L524.82,1129.75 L524.82,1128.95 L526.34,1128.73 L526.34,1130.71 L527.64,1130.51 L527.64,1129.2 L528.84,1129.02 L528.84,1131.62 L530.13,1131.42 L530.13,1127.18 L531.34,1127 L531.34,1131.66 L532.45,1131.5 L532.45,1129.12 L532.9,1129.06 L532.9,1141.79 Z" fill="#d2242b" />
<path d="M510.2,1145.46 L510.2,1089 L512.4,1089 L512.4,1145.13 Z M506.1,1146.07 L506.1,1105.6 L508.3,1105.6 L508.3,1145.74 Z M502,1146.68 L502,1104.21 L504.2,1104.21 L504.2,1146.35 Z M498.6,1147.18 L498.6,1117.72 L500.8,1117.72 L500.8,1146.86 Z M517.8,1144.33 L517.8,1120.87 L520,1120.87 L520,1144 Z M513.4,1144.98 L513.4,1114.52 L515.6,1114.52 L515.6,1144.66 Z M493.9,1147.88 L493.9,1127.42 L496.1,1127.42 L496.1,1147.55 Z M522.9,1143.57 L522.9,1125.11 L525.1,1125.11 L525.1,1143.24 Z M488.9,1148.62 L488.9,1132.16 L491.1,1132.16 L491.1,1148.3 Z" fill="#d2242b"/>
<path d="M532.9,1141.79 L532.9,1126.11 L534.06,1125.94 L534.06,1136.36 L535.21,1136.19 L535.21,1128.54 L537.14,1128.25 L537.14,1135.08 L538.54,1134.88 L538.54,1126.69 L540.22,1126.44 L540.22,1131 L541.94,1130.75 L541.94,1120.17 L543.7,1119.91 L543.7,1121.5 L545.05,1121.3 L545.05,1131.14 L546.92,1130.86 L546.92,1124.91 L548.6,1124.66 L548.6,1131.89 L550.11,1131.67 L550.11,1131.48 L551.76,1131.23 L551.76,1128.65 L553.68,1128.36 L553.68,1126.67 L555.01,1126.47 L555.01,1116.76 L556.77,1116.49 L556.77,1127.5 L558.11,1127.3 L558.11,1120.34 L559.93,1120.07 L559.93,1118.6 L561.82,1118.32 L561.82,1119.89 L563.68,1119.62 L563.68,1118.98 L565.43,1118.72 L565.43,1125.32 L566.88,1125.1 L566.88,1122.15 L568.02,1121.98 L568.02,1129.85 L569.66,1129.61 L569.66,1122.15 L571.6,1121.86 L571.6,1122.35 L573.06,1122.13 L573.06,1120.72 L574.22,1120.55 L574.22,1108.79 L575.76,1108.56 L575.76,1120.73 L577.03,1120.54 L577.03,1121.03 L578.85,1120.76 L578.85,1120.48 L580.55,1120.23 L580.55,1116.28 L581.72,1116.11 L581.72,1120.62 L583.07,1120.42 L583.07,1126.42 L584.83,1126.16 L584.83,1125.77 L586.69,1125.49 L586.69,1124.44 L588.31,1124.2 L588.31,1124.97 L589.45,1124.81 L589.45,1123.81 L591,1123.58 L591,1133.15 Z" fill="#4e4a45" />
<path d="M591.33,1133.1 L591.33,1128.28 L592.53,1128.1 L592.53,1127.54 L593.73,1127.36 L593.73,1123.82 L594.93,1123.65 L594.93,1120.23 L596.13,1120.06 L596.13,1117.34 L597.33,1117.16 L597.33,1117.5 L598.53,1117.32 L598.53,1105.19 L599.73,1105.01 L599.73,1098.77 L600.93,1098.59 L600.93,1093.56 L602.13,1093.38 L602.13,1094.34 L603.33,1094.16 L603.33,1091.82 L604.53,1091.64 L604.53,1081.21 L605.73,1081.03 L605.73,1076.08 L606.93,1075.9 L606.93,1076.18 L608.13,1076 L608.13,1067.81 L609.33,1067.63 L609.33,1056.13 L610.53,1055.95 L610.53,1048.16 L611.73,1047.98 L611.73,1053.21 L612.93,1053.03 L612.93,1066.74 L614.13,1066.56 L614.13,1041.6 L615.33,1041.42 L615.33,1057.1 L616.53,1056.92 L616.53,1034.56 L617.73,1034.38 L617.73,1031.49 L618.93,1031.31 L618.93,1060.07 L620.13,1059.89 L620.13,1042.16 L621.33,1041.98 L621.33,1025.82 L622.53,1025.64 L622.53,1050.56 L623.73,1050.39 L623.73,1056.67 L624.93,1056.49 L624.93,1074.75 L626.13,1074.57 L626.13,1091.4 L627.33,1091.22 L627.33,1088 L628.53,1087.82 L628.53,1087.8 L629.73,1087.62 L629.73,1082.42 L630.93,1082.24 L630.93,1074.97 L632.13,1074.79 L632.13,1082 L633.33,1081.82 L633.33,1081.03 L634.53,1080.85 L634.53,1091.36 L635.73,1091.19 L635.73,1102.39 L636.93,1102.21 L636.93,1104.26 L638.13,1104.08 L638.13,1114.39 L639.33,1114.21 L639.33,1120.37 L640.53,1120.19 L640.53,1120.77 L641.73,1120.59 L641.73,1122.22 L642.93,1122.04 L642.93,1123.57 L644.13,1123.39 L644.13,1123.47 L644.47,1123.42 L644.47,1125.21 Z" fill="#56a772" />
<path d="M594.04,1133 L594.04,1126.92 L595.34,1126.92 L595.34,1132.81 Z M598.26,1132.37 L598.26,1107.82 L599.56,1107.82 L599.56,1132.18 Z M602.48,1131.75 L602.48,1091.76 L603.78,1091.76 L603.78,1131.55 Z M606.7,1131.12 L606.7,1039.78 L608,1039.78 L608,1130.93 Z M610.92,1130.49 L610.92,1071.77 L612.22,1071.77 L612.22,1130.3 Z M615.14,1129.86 L615.14,1074.22 L616.44,1074.22 L616.44,1129.67 Z M619.36,1129.24 L619.36,1024.15 L620.66,1024.15 L620.66,1129.04 Z M623.58,1128.61 L623.58,1086.67 L624.88,1086.67 L624.88,1128.42 Z M627.8,1127.98 L627.8,1072.42 L629.1,1072.42 L629.1,1127.79 Z M632.02,1127.36 L632.02,1100.15 L633.32,1100.15 L633.32,1127.16 Z M636.24,1126.73 L636.24,1117.1 L637.54,1117.1 L637.54,1126.54 Z M640.46,1126.1 L640.46,1123.28 L641.76,1123.28 L641.76,1125.91 Z" fill="#56a772"/>
<path d="M591.33,1133.4 L591.33,1116.92 L593.83,1116.92 L593.83,1133.03 Z M595.55,1132.78 L595.55,1091.29 L598.05,1091.29 L598.05,1132.4 Z M599.77,1132.15 L599.77,1013.66 L602.27,1013.66 L602.27,1131.78 Z M603.99,1131.52 L603.99,977.04 L606.49,977.04 L606.49,1131.15 Z M608.21,1130.89 L608.21,916.41 L610.71,916.41 L610.71,1130.52 Z M612.43,1130.27 L612.43,911.78 L614.93,911.78 L614.93,1129.9 Z M616.65,1129.64 L616.65,893.15 L619.15,893.15 L619.15,1129.27 Z M620.87,1129.01 L620.87,876.53 L623.37,876.53 L623.37,1128.64 Z M625.09,1128.39 L625.09,998.9 L627.59,998.9 L627.59,1128.01 Z M629.31,1127.76 L629.31,977.77 L631.81,977.77 L631.81,1127.39 Z M633.53,1127.13 L633.53,1034.65 L636.03,1034.65 L636.03,1126.76 Z M637.75,1126.5 L637.75,1109.02 L640.25,1109.02 L640.25,1126.13 Z M641.97,1125.88 L641.97,1120.39 L644.47,1120.39 L644.47,1125.51 Z" fill="#56a772"/>
<path d="M644.5,1125.2 L644.5,1102.29 L646.18,1102.04 L646.18,1116.47 L647.33,1116.3 L647.33,1108.51 L648.97,1108.27 L648.97,1112.27 L650.58,1112.03 L650.58,1104.01 L651.96,1103.8 L651.96,1109.29 L653.14,1109.12 L653.14,1114.25 L654.64,1114.03 L654.64,1107.32 L655.71,1107.16 L655.71,1109.57 L656.98,1109.38 L656.98,1112.51 L658.37,1112.3 L658.37,1117.39 L660.03,1117.14 L660.03,1110.25 L661.62,1110.02 L661.62,1110.23 L662.75,1110.07 L662.75,1106.59 L664.64,1106.31 L664.64,1104.7 L666.51,1104.42 L666.51,1105.46 L668.33,1105.19 L668.33,1100.58 L669.68,1100.38 L669.68,1114.34 L671.19,1114.11 L671.19,1114 L672.83,1113.75 L672.83,1103.32 L674.24,1103.11 L674.24,1104.96 L675.59,1104.76 L675.59,1113.48 L677,1113.27 L677,1107.82 L678.54,1107.6 L678.54,1110.17 L680.04,1109.95 L680.04,1103.02 L681.82,1102.76 L681.82,1111.82 L683.3,1111.6 L683.3,1106.21 L684.97,1105.96 L684.97,1095.6 L686.75,1095.34 L686.75,1108.05 L688.45,1107.8 L688.45,1112.51 L690.14,1112.26 L690.14,1112.92 L691.19,1112.77 L691.19,1113.3 L692.81,1113.06 L692.81,1112.69 L693.97,1112.52 L693.97,1102.34 L695.34,1102.14 L695.34,1109.83 L697.2,1109.55 L697.2,1109.8 L699.13,1109.52 L699.13,1110.03 L700.35,1109.85 L700.35,1105.62 L701.86,1105.4 L701.86,1105.89 L703.37,1105.66 L703.37,1110.26 L704,1110.16 L704,1116.36 Z" fill="#4e4a45" />
<path d="M703.91,1116.37 L703.91,1109.37 L705.11,1109.19 L705.11,1107.49 L706.31,1107.31 L706.31,1105.88 L707.51,1105.7 L707.51,1103.51 L708.71,1103.34 L708.71,1102.95 L709.91,1102.77 L709.91,1103.06 L711.11,1102.89 L711.11,1097.37 L712.31,1097.2 L712.31,1098.87 L713.51,1098.69 L713.51,1098.54 L714.71,1098.36 L714.71,1097.46 L715.91,1097.28 L715.91,1094.69 L717.11,1094.51 L717.11,1089.8 L718.31,1089.62 L718.31,1087.73 L719.51,1087.55 L719.51,1090.64 L720.71,1090.46 L720.71,1087.43 L721.91,1087.25 L721.91,1092.51 L723.11,1092.33 L723.11,1089.56 L724.31,1089.39 L724.31,1090.24 L725.51,1090.06 L725.51,1090.45 L726.71,1090.27 L726.71,1088.68 L727.91,1088.51 L727.91,1082.76 L729.11,1082.58 L729.11,1081.66 L730.31,1081.48 L730.31,1087.99 L731.51,1087.81 L731.51,1087.99 L732.71,1087.82 L732.71,1081.73 L733.91,1081.55 L733.91,1083.59 L735.11,1083.41 L735.11,1083.17 L736.31,1082.99 L736.31,1083.49 L737.51,1083.31 L737.51,1082.64 L738.71,1082.46 L738.71,1087.72 L739.91,1087.54 L739.91,1090.32 L741.11,1090.14 L741.11,1087.09 L742.31,1086.91 L742.31,1091.56 L743.51,1091.39 L743.51,1083.99 L744.71,1083.81 L744.71,1090.24 L745.91,1090.06 L745.91,1090.99 L747.11,1090.82 L747.11,1090.04 L748.31,1089.87 L748.31,1092.53 L749.51,1092.35 L749.51,1097.38 L750.71,1097.2 L750.71,1097.78 L751.91,1097.6 L751.91,1100 L753.11,1099.82 L753.11,1097.93 L754.31,1097.76 L754.31,1099.79 L755.51,1099.61 L755.51,1102.67 L756.71,1102.49 L756.71,1104.84 L757.91,1104.66 L757.91,1106.77 L759.11,1106.59 L759.11,1106.56 L759.29,1106.53 L759.29,1108.14 Z" fill="#5488a8" />
<path d="M706.59,1116.28 L706.59,1099.46 L707.89,1099.46 L707.89,1116.08 Z M710.65,1115.67 L710.65,1081.85 L711.95,1081.85 L711.95,1115.48 Z M714.71,1115.07 L714.71,1073.62 L716.01,1073.62 L716.01,1114.88 Z M718.77,1114.47 L718.77,1058.18 L720.07,1058.18 L720.07,1114.27 Z M722.83,1113.86 L722.83,1076.19 L724.13,1076.19 L724.13,1113.67 Z M726.89,1113.26 L726.89,1075.55 L728.19,1075.55 L728.19,1113.07 Z M730.95,1112.66 L730.95,1078.42 L732.25,1078.42 L732.25,1112.46 Z M735.01,1112.05 L735.01,1041.21 L736.31,1041.21 L736.31,1111.86 Z M739.07,1111.45 L739.07,1085.89 L740.37,1085.89 L740.37,1111.26 Z M743.13,1110.85 L743.13,1093.47 L744.43,1093.47 L744.43,1110.65 Z M747.19,1110.24 L747.19,1093.56 L748.49,1093.56 L748.49,1110.05 Z M751.25,1109.64 L751.25,1086.5 L752.55,1086.5 L752.55,1109.45 Z M755.31,1109.04 L755.31,1104.74 L756.61,1104.74 L756.61,1108.84 Z" fill="#5488a8"/>
<path d="M703.91,1116.67 L703.91,1020.18 L706.51,1020.18 L706.51,1116.29 Z M707.97,1116.07 L707.97,950.28 L710.57,950.28 L710.57,1115.68 Z M712.03,1115.47 L712.03,903.67 L714.63,903.67 L714.63,1115.08 Z M716.09,1114.86 L716.09,831.37 L718.69,831.37 L718.69,1114.48 Z M720.15,1114.26 L720.15,814.77 L722.75,814.77 L722.75,1113.87 Z M724.21,1113.66 L724.21,806.36 L726.81,806.36 L726.81,1113.27 Z M728.27,1113.05 L728.27,761.06 L730.87,761.06 L730.87,1112.67 Z M732.33,1112.45 L732.33,784.66 L734.93,784.66 L734.93,1112.06 Z M736.39,1111.85 L736.39,784.65 L738.99,784.65 L738.99,1111.46 Z M740.45,1111.24 L740.45,800.75 L743.05,800.75 L743.05,1110.86 Z M744.51,1110.64 L744.51,889.15 L747.11,889.15 L747.11,1110.25 Z M748.57,1110.04 L748.57,942.94 L751.17,942.94 L751.17,1109.65 Z M752.63,1109.43 L752.63,998.94 L755.23,998.94 L755.23,1109.05 Z M756.69,1108.83 L756.69,1088.34 L759.29,1088.34 L759.29,1108.44 Z" fill="#5488a8"/>
<path d="M759,1108.19 L759,1089.01 L760.22,1088.83 L760.22,1100.15 L761.53,1099.95 L761.53,1099.11 L762.79,1098.92 L762.79,1088.72 L764.42,1088.48 L764.42,1094.6 L765.75,1094.4 L765.75,1090.92 L767.69,1090.63 L767.69,1100.83 L769.27,1100.59 L769.27,1092 L770.56,1091.81 L770.56,1086.91 L771.82,1086.72 L771.82,1098.57 L773.36,1098.34 L773.36,1098.88 L774.65,1098.69 L774.65,1088.44 L776.11,1088.23 L776.11,1093.77 L777.49,1093.56 L777.49,1090.67 L779.01,1090.45 L779.01,1086.85 L780.39,1086.64 L780.39,1083.18 L781.74,1082.98 L781.74,1088.84 L783.65,1088.56 L783.65,1087.55 L785,1087.35 L785,1096.97 L786.42,1096.76 L786.42,1090.36 L788.07,1090.12 L788.07,1090.32 L789.83,1090.06 L789.83,1096.35 L791.54,1096.09 L791.54,1087.17 L793.2,1086.92 L793.2,1091.74 L794.2,1091.59 L794.2,1102.96 Z" fill="#4e4a45" />
<path d="M1240.4,1104.95 L1240.4,1096.3 L1241.93,1096.08 L1241.93,1085.34 L1243,1085.18 L1243,1091.49 L1244.16,1091.32 L1244.16,1089.82 L1246.03,1089.54 L1246.03,1094.13 L1247.79,1093.87 L1247.79,1096.27 L1249.5,1096.01 L1249.5,1085.23 L1251.1,1084.99 L1251.1,1086.49 L1252.86,1086.23 L1252.86,1084.2 L1254.58,1083.95 L1254.58,1085.73 L1255.83,1085.54 L1255.83,1095.26 L1257.34,1095.03 L1257.34,1085.25 L1259.18,1084.98 L1259.18,1088.08 L1260.82,1087.84 L1260.82,1089.43 L1262.3,1089.21 L1262.3,1094.08 L1264,1093.83 L1264,1094.85 L1265.29,1094.66 L1265.29,1089.52 L1266.54,1089.34 L1266.54,1087.2 L1268.34,1086.93 L1268.34,1093.47 L1269.5,1093.3 L1269.5,1083.46 L1271.16,1083.21 L1271.16,1082.63 L1272.38,1082.45 L1272.38,1083.34 L1273.63,1083.15 L1273.63,1086 L1275.2,1085.77 L1275.2,1082.94 L1276.7,1082.71 L1276.7,1079.92 L1277.79,1079.76 L1277.79,1082.81 L1279.54,1082.55 L1279.54,1091.11 L1281.11,1090.87 L1281.11,1076.18 L1282.78,1075.93 L1282.78,1080.85 L1284.58,1080.58 L1284.58,1084.29 L1285.86,1084.1 L1285.86,1084.13 L1287.33,1083.91 L1287.33,1089.92 L1288.48,1089.75 L1288.48,1083.45 L1290.16,1083.2 L1290.16,1088.47 L1291.24,1088.31 L1291.24,1079.61 L1292.57,1079.41 L1292.57,1090.68 L1294.02,1090.47 L1294.02,1089.14 L1295.5,1088.92 L1295.5,1078.78 L1297.14,1078.53 L1297.14,1080.44 L1298.69,1080.21 L1298.69,1081.47 L1300.62,1081.19 L1300.62,1089.26 L1302.43,1088.99 L1302.43,1081.72 L1304.14,1081.46 L1304.14,1088.47 L1305.78,1088.23 L1305.78,1081.99 L1307.13,1081.79 L1307.13,1088.62 L1308.89,1088.36 L1308.89,1078.12 L1310.6,1077.87 L1310.6,1070.83 L1311.98,1070.62 L1311.98,1076.31 L1313.14,1076.14 L1313.14,1071.06 L1314.59,1070.85 L1314.59,1084.79 L1316.22,1084.55 L1316.22,1072.72 L1317.37,1072.55 L1317.37,1072.12 L1318.81,1071.9 L1318.81,1078.57 L1320.25,1078.36 L1320.25,1082.26 L1321.8,1082.03 L1321.8,1076.7 L1323.12,1076.5 L1323.12,1066.57 L1324.27,1066.4 L1324.27,1072.98 L1325.43,1072.81 L1325.43,1078.65 L1326.56,1078.49 L1326.56,1075.79 L1328.35,1075.53 L1328.35,1076.72 L1329.44,1076.56 L1329.44,1069.72 L1331.03,1069.48 L1331.03,1076.35 L1332.61,1076.12 L1332.61,1072.52 L1334.05,1072.3 L1334.05,1074.33 L1335.68,1074.08 L1335.68,1082.84 L1336.93,1082.66 L1336.93,1072.97 L1338.32,1072.77 L1338.32,1081.43 L1340.25,1081.14 L1340.25,1079.27 L1341.53,1079.08 L1341.53,1079.24 L1343.48,1078.95 L1343.48,1079.32 L1344.6,1079.16 L1344.6,1073.3 L1345.83,1073.12 L1345.83,1079.65 L1347.4,1079.41 L1347.4,1089.05 Z" fill="#4e4a45" />
<path d="M1349.25,1088.77 L1349.25,1086.1 L1350.45,1085.92 L1350.45,1085.39 L1351.65,1085.21 L1351.65,1083.45 L1352.85,1083.27 L1352.85,1081.51 L1354.05,1081.33 L1354.05,1081.88 L1355.25,1081.7 L1355.25,1078.24 L1356.45,1078.07 L1356.45,1067.89 L1357.65,1067.71 L1357.65,1066.85 L1358.85,1066.67 L1358.85,1061.23 L1360.05,1061.05 L1360.05,1056.51 L1361.25,1056.33 L1361.25,1045.77 L1362.45,1045.6 L1362.45,1038.82 L1363.65,1038.64 L1363.65,1035.99 L1364.85,1035.81 L1364.85,1037.74 L1366.05,1037.56 L1366.05,1030.22 L1367.25,1030.04 L1367.25,1028.04 L1368.45,1027.86 L1368.45,1033.85 L1369.65,1033.67 L1369.65,1009.86 L1370.85,1009.68 L1370.85,1005.88 L1372.05,1005.71 L1372.05,1006.9 L1373.25,1006.72 L1373.25,995.11 L1374.45,994.93 L1374.45,1008.26 L1375.65,1008.08 L1375.65,992.96 L1376.85,992.78 L1376.85,1015.02 L1378.05,1014.84 L1378.05,998.53 L1379.25,998.35 L1379.25,1000.55 L1380.45,1000.37 L1380.45,989.87 L1381.65,989.69 L1381.65,990.59 L1382.85,990.42 L1382.85,985.92 L1384.05,985.74 L1384.05,1006.09 L1385.25,1005.91 L1385.25,982.68 L1386.45,982.5 L1386.45,992.03 L1387.65,991.85 L1387.65,997.86 L1388.85,997.68 L1388.85,1004.88 L1390.05,1004.7 L1390.05,1000.29 L1391.25,1000.11 L1391.25,1010.33 L1392.45,1010.16 L1392.45,1013.36 L1393.65,1013.18 L1393.65,1018.26 L1394.85,1018.08 L1394.85,1031.61 L1396.05,1031.43 L1396.05,1033.29 L1397.25,1033.11 L1397.25,1027.2 L1398.45,1027.02 L1398.45,1039.26 L1399.65,1039.08 L1399.65,1040.53 L1400.85,1040.35 L1400.85,1049.72 L1402.05,1049.55 L1402.05,1053.7 L1403.25,1053.53 L1403.25,1052.02 L1404.45,1051.84 L1404.45,1060.99 L1405.65,1060.81 L1405.65,1056.7 L1406.85,1056.52 L1406.85,1062.92 L1408.05,1062.74 L1408.05,1060.33 L1409.25,1060.15 L1409.25,1079.86 Z" fill="#cbaac9" />
<path d="M1351.95,1088.67 L1351.95,1084 L1353.25,1084 L1353.25,1088.48 Z M1356.05,1088.06 L1356.05,1076.81 L1357.35,1076.81 L1357.35,1087.87 Z M1360.15,1087.45 L1360.15,1048.86 L1361.45,1048.86 L1361.45,1087.26 Z M1364.25,1086.84 L1364.25,1043.92 L1365.55,1043.92 L1365.55,1086.65 Z M1368.35,1086.24 L1368.35,1000.92 L1369.65,1000.92 L1369.65,1086.04 Z M1372.45,1085.63 L1372.45,990.9 L1373.75,990.9 L1373.75,1085.43 Z M1376.55,1085.02 L1376.55,1012.57 L1377.85,1012.57 L1377.85,1084.82 Z M1380.65,1084.41 L1380.65,927.82 L1381.95,927.82 L1381.95,1084.21 Z M1384.75,1083.8 L1384.75,963.71 L1386.05,963.71 L1386.05,1083.61 Z M1388.85,1083.19 L1388.85,1027.08 L1390.15,1027.08 L1390.15,1083 Z M1392.95,1082.58 L1392.95,954.58 L1394.25,954.58 L1394.25,1082.39 Z M1397.05,1081.97 L1397.05,1028.32 L1398.35,1028.32 L1398.35,1081.78 Z M1401.15,1081.36 L1401.15,1051.85 L1402.45,1051.85 L1402.45,1081.17 Z M1405.25,1080.75 L1405.25,1064.02 L1406.55,1064.02 L1406.55,1080.56 Z" fill="#cbaac9"/>
<path d="M1349.25,1089.07 L1349.25,1076.58 L1351.85,1076.58 L1351.85,1088.69 Z M1353.35,1088.46 L1353.35,1056.37 L1355.95,1056.37 L1355.95,1088.08 Z M1357.45,1087.85 L1357.45,988.96 L1360.05,988.96 L1360.05,1087.47 Z M1361.55,1087.25 L1361.55,919.45 L1364.15,919.45 L1364.15,1086.86 Z M1365.65,1086.64 L1365.65,875.14 L1368.25,875.14 L1368.25,1086.25 Z M1369.75,1086.03 L1369.75,839.23 L1372.35,839.23 L1372.35,1085.64 Z M1373.85,1085.42 L1373.85,787.42 L1376.45,787.42 L1376.45,1085.03 Z M1377.95,1084.81 L1377.95,801.12 L1380.55,801.12 L1380.55,1084.42 Z M1382.05,1084.2 L1382.05,769.81 L1384.65,769.81 L1384.65,1083.81 Z M1386.15,1083.59 L1386.15,732.6 L1388.75,732.6 L1388.75,1083.2 Z M1390.25,1082.98 L1390.25,859.79 L1392.85,859.79 L1392.85,1082.59 Z M1394.35,1082.37 L1394.35,864.18 L1396.95,864.18 L1396.95,1081.99 Z M1398.45,1081.76 L1398.45,919.87 L1401.05,919.87 L1401.05,1081.38 Z M1402.55,1081.15 L1402.55,994.66 L1405.15,994.66 L1405.15,1080.77 Z M1406.65,1080.54 L1406.65,1016.85 L1409.25,1016.85 L1409.25,1080.16 Z" fill="#cbaac9"/>
<path d="M1410,1079.75 L1410,1072.79 L1411.27,1072.6 L1411.27,1070.29 L1412.45,1070.12 L1412.45,1060.28 L1413.9,1060.06 L1413.9,1070 L1415.82,1069.71 L1415.82,1058.11 L1417.24,1057.9 L1417.24,1063.27 L1418.82,1063.04 L1418.82,1065.04 L1420.45,1064.8 L1420.45,1061.8 L1421.68,1061.61 L1421.68,1057.94 L1423.49,1057.67 L1423.49,1066.5 L1425.06,1066.27 L1425.06,1059.27 L1426.67,1059.03 L1426.67,1059.04 L1428.09,1058.83 L1428.09,1068.4 L1429.67,1068.16 L1429.67,1054.12 L1431.41,1053.86 L1431.41,1068.62 L1432.71,1068.42 L1432.71,1065.65 L1433.98,1065.46 L1433.98,1062.38 L1435.58,1062.14 L1435.58,1059.96 L1437.46,1059.68 L1437.46,1055.15 L1439,1054.92 L1439,1068.32 L1440.48,1068.1 L1440.48,1062.21 L1441.55,1062.05 L1441.55,1050.57 L1442.62,1050.41 L1442.62,1068.28 L1444.02,1068.07 L1444.02,1069.29 L1445.61,1069.05 L1445.61,1060.86 L1447.52,1060.58 L1447.52,1062.9 L1449.29,1062.64 L1449.29,1058.28 L1450.36,1058.12 L1450.36,1055.4 L1452.16,1055.13 L1452.16,1054.53 L1453.35,1054.35 L1453.35,1053.78 L1454.51,1053.6 L1454.51,1058.26 L1456.3,1058 L1456.3,1064.71 L1457.56,1064.52 L1457.56,1065.61 L1458.7,1065.44 L1458.7,1062.78 L1460.5,1062.51 L1460.5,1054.09 L1461.83,1053.89 L1461.83,1062.98 L1463.39,1062.74 L1463.39,1056.49 L1465.21,1056.22 L1465.21,1056.31 L1466.37,1056.14 L1466.37,1063.38 L1467.51,1063.21 L1467.51,1065 L1469.29,1064.73 L1469.29,1059.44 L1470.49,1059.26 L1470.49,1065.28 L1472.14,1065.03 L1472.14,1056.8 L1473.56,1056.59 L1473.56,1058.22 L1475.32,1057.95 L1475.32,1062.23 L1477,1061.98 L1477,1057.82 L1478.71,1057.57 L1478.71,1057.84 L1480.34,1057.6 L1480.34,1054.05 L1481.79,1053.83 L1481.79,1062.06 L1483.08,1061.87 L1483.08,1054.39 L1484.51,1054.17 L1484.51,1055.81 L1486.37,1055.53 L1486.37,1052.7 L1488.25,1052.42 L1488.25,1052.31 L1489.7,1052.09 L1489.7,1059.46 L1491.58,1059.18 L1491.58,1059.1 L1493.46,1058.82 L1493.46,1058.13 L1495.4,1057.84 L1495.4,1060.07 L1496.79,1059.86 L1496.79,1048.59 L1498.21,1048.38 L1498.21,1058.92 L1499.34,1058.75 L1499.34,1050.56 L1500.91,1050.33 L1500.91,1055.13 L1502.29,1054.92 L1502.29,1047.24 L1504.22,1046.96 L1504.22,1046.88 L1505.81,1046.65 L1505.81,1048.3 L1507.26,1048.08 L1507.26,1047.37 L1509.01,1047.11 L1509.01,1044.01 L1510.54,1043.78 L1510.54,1045.06 L1512.42,1044.78 L1512.42,1047.52 L1513.67,1047.34 L1513.67,1046.24 L1514.97,1046.04 L1514.97,1041.7 L1516.43,1041.48 L1516.43,1034.52 L1517.83,1034.31 L1517.83,1031.51 L1519.46,1031.27 L1519.46,1042.23 L1520.91,1042.01 L1520.91,1043.68 L1522.17,1043.49 L1522.17,1031.35 L1523.73,1031.11 L1523.73,1033.42 L1524.79,1033.26 L1524.79,1030.16 L1526.12,1029.96 L1526.12,1035.42 L1527.62,1035.2 L1527.62,1039.08 L1528.67,1038.92 L1528.67,1034.99 L1530.11,1034.78 L1530.11,1034.85 L1531.7,1034.62 L1531.7,1036.73 L1533.07,1036.53 L1533.07,1038.08 L1534.79,1037.83 L1534.79,1036.55 L1536.64,1036.28 L1536.64,1031.2 L1537.92,1031.01 L1537.92,1034.17 L1539.15,1033.98 L1539.15,1029.13 L1540.21,1028.97 L1540.21,1039.8 L1541.37,1039.63 L1541.37,1037.52 L1542.89,1037.29 L1542.89,1042.98 L1544.65,1042.72 L1544.65,1038.15 L1546.25,1037.92 L1546.25,1049.91 L1547.93,1049.66 L1547.93,1037.03 L1549.58,1036.78 L1549.58,1049.78 L1550.5,1049.64 L1550.5,1058.87 Z" fill="#4e4a45" />
<path d="M1528.1,1062.5 L1528.1,1010.02 L1530.5,1010.02 L1530.5,1062.14 Z M1524.8,1062.99 L1524.8,1020.51 L1527.2,1020.51 L1527.2,1062.63 Z M1530.8,1062.1 L1530.8,1023.62 L1533.2,1023.62 L1533.2,1061.74 Z M1520.8,1063.58 L1520.8,1029.1 L1523.2,1029.1 L1523.2,1063.22 Z M1534.3,1061.58 L1534.3,1031.1 L1536.7,1031.1 L1536.7,1061.22 Z" fill="#4e4a45"/>
<path d="M644.2,1196.4 L644.2,1190.24 L646.09,1189.96 L646.09,1181.08 L648.01,1180.8 L648.01,1183.25 L649.16,1183.08 L649.16,1188.01 L650.75,1187.77 L650.75,1189.88 L652.51,1189.62 L652.51,1181.59 L654.24,1181.34 L654.24,1189.49 L656.01,1189.23 L656.01,1188.06 L657.55,1187.83 L657.55,1184.58 L659.21,1184.34 L659.21,1187.91 L659.8,1187.82 L659.8,1194.08 Z" fill="#4e4a45" />
<path d="M659.8,1194.08 L659.8,1188.33 L661.39,1188.1 L661.39,1183.93 L663.15,1183.67 L663.15,1184.83 L664.81,1184.59 L664.81,1185.94 L666.57,1185.68 L666.57,1185.59 L667.66,1185.43 L667.66,1178.97 L668.82,1178.8 L668.82,1185.09 L670.36,1184.86 L670.36,1181.9 L671.68,1181.7 L671.68,1178.74 L673.02,1178.54 L673.02,1182.77 L674.08,1182.61 L674.08,1175.09 L675.68,1174.86 L675.68,1181.47 L677.07,1181.26 L677.07,1179.33 L678.48,1179.12 L678.48,1176.06 L680.2,1175.8 L680.2,1177.07 L681.38,1176.9 L681.38,1172.81 L682.84,1172.59 L682.84,1169.28 L684.25,1169.07 L684.25,1170.43 L685.24,1170.28 L685.24,1174.23 L686.33,1174.07 L686.33,1176.05 L688.08,1175.79 L688.08,1165.84 L689.65,1165.61 L689.65,1165.12 L690.88,1164.93 L690.88,1171.18 L692.33,1170.96 L692.33,1166.79 L693.45,1166.62 L693.45,1168.96 L695.1,1168.71 L695.1,1170.9 L696.26,1170.73 L696.26,1173.71 L697.87,1173.47 L697.87,1170.24 L699.28,1170.03 L699.28,1171.29 L700.8,1171.06 L700.8,1173.18 L702.2,1172.97 L702.2,1173.15 L703.29,1172.98 L703.29,1176.68 L704.63,1176.48 L704.63,1176.1 L705.94,1175.91 L705.94,1177.41 L707.73,1177.14 L707.73,1180.68 L709.32,1180.45 L709.32,1177.88 L709.6,1177.84 L709.6,1186.68 Z" fill="#d2242b" />
<path d="M687.2,1190.31 L687.2,1132.85 L689.4,1132.85 L689.4,1189.98 Z M681.9,1191.1 L681.9,1150.63 L684.1,1150.63 L684.1,1190.77 Z M691.9,1189.61 L691.9,1153.15 L694.1,1153.15 L694.1,1189.28 Z M676.9,1191.84 L676.9,1161.38 L679.1,1161.38 L679.1,1191.51 Z M696.9,1188.87 L696.9,1166.41 L699.1,1166.41 L699.1,1188.54 Z M671.9,1192.58 L671.9,1174.12 L674.1,1174.12 L674.1,1192.26 Z M701.9,1188.13 L701.9,1167.66 L704.1,1167.66 L704.1,1187.8 Z" fill="#d2242b"/>
<path d="M709.6,1186.68 L709.6,1162.9 L710.71,1162.73 L710.71,1179.07 L712.56,1178.79 L712.56,1176.98 L714.14,1176.75 L714.14,1166.04 L715.3,1165.87 L715.3,1167.23 L716.75,1167.02 L716.75,1164.77 L718.65,1164.49 L718.65,1166.19 L720.07,1165.98 L720.07,1175.62 L721.15,1175.46 L721.15,1171.66 L722.76,1171.43 L722.76,1171.45 L724.05,1171.26 L724.05,1171.71 L725.92,1171.43 L725.92,1173.64 L727.27,1173.44 L727.27,1177.99 L728.75,1177.77 L728.75,1177.86 L730.18,1177.64 L730.18,1168.44 L731.84,1168.19 L731.84,1171.62 L733.22,1171.42 L733.22,1167.26 L734.43,1167.08 L734.43,1174.5 L735.48,1174.34 L735.48,1168.61 L736.72,1168.42 L736.72,1165.98 L738.03,1165.79 L738.03,1162.84 L739.71,1162.59 L739.71,1172.76 L740.8,1172.6 L740.8,1168.11 L742.38,1167.88 L742.38,1165.6 L743.73,1165.4 L743.73,1175.58 L745.55,1175.31 L745.55,1174.4 L747.4,1174.12 L747.4,1166.43 L749.33,1166.15 L749.33,1170.62 L750.62,1170.42 L750.62,1158.24 L751.99,1158.03 L751.99,1160.6 L753.19,1160.42 L753.19,1171.37 L754.4,1171.19 L754.4,1167.53 L755.91,1167.3 L755.91,1163.96 L757.38,1163.74 L757.38,1160.77 L758.56,1160.59 L758.56,1170.24 L759.88,1170.04 L759.88,1168.4 L761.54,1168.15 L761.54,1163.99 L762.88,1163.79 L762.88,1161.7 L764.28,1161.49 L764.28,1161.38 L765.41,1161.21 L765.41,1169.36 L767.29,1169.08 L767.29,1157.46 L768.44,1157.29 L768.44,1156.48 L769,1156.4 L769,1177.85 Z" fill="#4e4a45" />
<path d="M769,1177.85 L769,1169.06 L770.57,1168.83 L770.57,1166.95 L772.29,1166.7 L772.29,1170.05 L773.91,1169.81 L773.91,1167.04 L775.18,1166.85 L775.18,1170.32 L776.55,1170.12 L776.55,1165.52 L777.8,1165.34 L777.8,1166.83 L779.52,1166.58 L779.52,1167.1 L780.84,1166.91 L780.84,1162.56 L782.28,1162.34 L782.28,1166.21 L784.01,1165.95 L784.01,1161.88 L785.06,1161.72 L785.06,1162.21 L786.07,1162.06 L786.07,1158.93 L787.52,1158.72 L787.52,1160.1 L788.97,1159.89 L788.97,1157.68 L790.03,1157.52 L790.03,1158.11 L791.55,1157.88 L791.55,1151.6 L793.31,1151.33 L793.31,1163.09 L794.49,1162.91 L794.49,1155.92 L795.92,1155.71 L795.92,1155.59 L797.34,1155.38 L797.34,1147.58 L798.65,1147.38 L798.65,1156.26 L800.44,1156 L800.44,1150.56 L801.68,1150.38 L801.68,1153.67 L803.33,1153.43 L803.33,1154.31 L804.88,1154.08 L804.88,1157.48 L806.54,1157.24 L806.54,1156.21 L807.53,1156.07 L807.53,1155.69 L808.92,1155.48 L808.92,1158.86 L810.18,1158.67 L810.18,1158.44 L811.47,1158.24 L811.47,1157.46 L812.49,1157.31 L812.49,1164.7 L813.95,1164.49 L813.95,1163.18 L815.31,1162.98 L815.31,1164.51 L816.99,1164.26 L816.99,1161.45 L818.23,1161.27 L818.23,1161.11 L820.03,1160.84 L820.03,1158.42 L821.5,1158.2 L821.5,1170.05 Z" fill="#56a772" />
<path d="M794.9,1174.31 L794.9,1102.84 L797.1,1102.84 L797.1,1173.98 Z M790.9,1174.9 L790.9,1119.44 L793.1,1119.44 L793.1,1174.57 Z M798.4,1173.79 L798.4,1121.32 L800.6,1121.32 L800.6,1173.46 Z M786.9,1175.49 L786.9,1139.03 L789.1,1139.03 L789.1,1175.17 Z M801.9,1173.27 L801.9,1142.8 L804.1,1142.8 L804.1,1172.94 Z M782.9,1176.09 L782.9,1151.63 L785.1,1151.63 L785.1,1175.76 Z M806.9,1172.52 L806.9,1150.06 L809.1,1150.06 L809.1,1172.2 Z" fill="#56a772"/>
<path d="M821.5,1170.05 L821.5,1156.17 L822.72,1155.98 L822.72,1160.95 L824.5,1160.69 L824.5,1156.54 L826.44,1156.25 L826.44,1155.38 L828.03,1155.15 L828.03,1162.04 L829.89,1161.76 L829.89,1154.56 L831.47,1154.32 L831.47,1150.65 L833.41,1150.37 L833.41,1151.25 L834.94,1151.02 L834.94,1154.14 L836.23,1153.95 L836.23,1150.21 L838.13,1149.92 L838.13,1147.59 L840.03,1147.3 L840.03,1152.88 L841.72,1152.62 L841.72,1151.49 L843.39,1151.24 L843.39,1156.51 L845.16,1156.25 L845.16,1160.18 L847.05,1159.9 L847.05,1154.86 L848.76,1154.61 L848.76,1159.49 L850.31,1159.26 L850.31,1144.33 L851.88,1144.09 L851.88,1160.29 L853.09,1160.11 L853.09,1149.25 L854.78,1149 L854.78,1151.5 L856.63,1151.23 L856.63,1150.62 L858.01,1150.41 L858.01,1152.95 L859.94,1152.66 L859.94,1149.52 L861.19,1149.33 L861.19,1156.89 L862.52,1156.69 L862.52,1150.25 L863.87,1150.05 L863.87,1151.56 L865.32,1151.34 L865.32,1146.26 L866.71,1146.06 L866.71,1156.19 L868.18,1155.97 L868.18,1154.81 L869.61,1154.6 L869.61,1147.48 L871.56,1147.19 L871.56,1150.25 L873.27,1149.99 L873.27,1155.81 L874.67,1155.6 L874.67,1147.52 L875.91,1147.34 L875.91,1143.29 L877.39,1143.07 L877.39,1152.84 L879.04,1152.59 L879.04,1148.92 L880.11,1148.76 L880.11,1152.34 L880.8,1152.23 L880.8,1161.24 Z" fill="#4e4a45" />
<path d="M880.74,1161.25 L880.74,1154.86 L881.94,1154.68 L881.94,1153.07 L883.14,1152.89 L883.14,1152.9 L884.34,1152.72 L884.34,1149.56 L885.54,1149.38 L885.54,1147.65 L886.74,1147.47 L886.74,1147.75 L887.94,1147.57 L887.94,1143.3 L889.14,1143.12 L889.14,1147.58 L890.34,1147.4 L890.34,1144.75 L891.54,1144.57 L891.54,1142.67 L892.74,1142.49 L892.74,1136.16 L893.94,1135.98 L893.94,1137.87 L895.14,1137.69 L895.14,1141.4 L896.34,1141.22 L896.34,1137.93 L897.54,1137.75 L897.54,1133.78 L898.74,1133.6 L898.74,1130.77 L899.94,1130.59 L899.94,1137.81 L901.14,1137.63 L901.14,1129.68 L902.34,1129.5 L902.34,1133.46 L903.54,1133.28 L903.54,1131.56 L904.74,1131.38 L904.74,1132.4 L905.94,1132.22 L905.94,1131.84 L907.14,1131.66 L907.14,1125.21 L908.34,1125.03 L908.34,1125.98 L909.54,1125.8 L909.54,1125.93 L910.74,1125.75 L910.74,1127.96 L911.94,1127.79 L911.94,1128.26 L913.14,1128.08 L913.14,1134.6 L914.34,1134.42 L914.34,1135.69 L915.54,1135.51 L915.54,1126.87 L916.74,1126.7 L916.74,1128.98 L917.94,1128.81 L917.94,1129.77 L919.14,1129.59 L919.14,1134.5 L920.34,1134.32 L920.34,1136.8 L921.54,1136.62 L921.54,1133.28 L922.74,1133.1 L922.74,1138.24 L923.94,1138.06 L923.94,1142.55 L925.14,1142.37 L925.14,1141.01 L926.34,1140.83 L926.34,1141.63 L927.54,1141.46 L927.54,1144.58 L928.74,1144.4 L928.74,1141.78 L929.94,1141.6 L929.94,1144.12 L931.14,1143.94 L931.14,1146.24 L932.34,1146.06 L932.34,1149.7 L933.54,1149.52 L933.54,1150.17 L934.74,1149.99 L934.74,1151.59 L935.86,1151.42 L935.86,1153.06 Z" fill="#5488a8" />
<path d="M883.41,1161.15 L883.41,1146.54 L884.71,1146.54 L884.71,1160.96 Z M887.45,1160.55 L887.45,1128.7 L888.75,1128.7 L888.75,1160.36 Z M891.49,1159.95 L891.49,1121.61 L892.79,1121.61 L892.79,1159.76 Z M895.53,1159.35 L895.53,1109.54 L896.83,1109.54 L896.83,1159.16 Z M899.57,1158.75 L899.57,1137.25 L900.87,1137.25 L900.87,1158.56 Z M903.61,1158.15 L903.61,1141.09 L904.91,1141.09 L904.91,1157.96 Z M907.65,1157.55 L907.65,1135.95 L908.95,1135.95 L908.95,1157.36 Z M911.69,1156.95 L911.69,1094.73 L912.99,1094.73 L912.99,1156.76 Z M915.73,1156.35 L915.73,1098.55 L917.03,1098.55 L917.03,1156.16 Z M919.77,1155.75 L919.77,1126.84 L921.07,1126.84 L921.07,1155.56 Z M923.81,1155.15 L923.81,1139.6 L925.11,1139.6 L925.11,1154.96 Z M927.85,1154.55 L927.85,1136.19 L929.15,1136.19 L929.15,1154.36 Z M931.89,1153.95 L931.89,1151.83 L933.19,1151.83 L933.19,1153.76 Z" fill="#5488a8"/>
<path d="M880.74,1161.55 L880.74,1079.06 L883.34,1079.06 L883.34,1161.16 Z M884.78,1160.95 L884.78,992.76 L887.38,992.76 L887.38,1160.56 Z M888.82,1160.35 L888.82,953.86 L891.42,953.86 L891.42,1159.96 Z M892.86,1159.75 L892.86,891.56 L895.46,891.56 L895.46,1159.36 Z M896.9,1159.15 L896.9,859.46 L899.5,859.46 L899.5,1158.76 Z M900.94,1158.55 L900.94,839.26 L903.54,839.26 L903.54,1158.16 Z M904.98,1157.95 L904.98,831.05 L907.58,831.05 L907.58,1157.56 Z M909.02,1157.35 L909.02,834.45 L911.62,834.45 L911.62,1156.96 Z M913.06,1156.75 L913.06,836.25 L915.66,836.25 L915.66,1156.36 Z M917.1,1156.15 L917.1,855.05 L919.7,855.05 L919.7,1155.76 Z M921.14,1155.55 L921.14,948.05 L923.74,948.05 L923.74,1155.16 Z M925.18,1154.95 L925.18,985.85 L927.78,985.85 L927.78,1154.56 Z M929.22,1154.35 L929.22,1062.05 L931.82,1062.05 L931.82,1153.96 Z M933.26,1153.75 L933.26,1128.85 L935.86,1128.85 L935.86,1153.36 Z" fill="#5488a8"/>
<path d="M935.5,1153.11 L935.5,1129.87 L937.18,1129.62 L937.18,1142.99 L938.6,1142.78 L938.6,1142.13 L939.93,1141.93 L939.93,1141.59 L941.35,1141.38 L941.35,1138.11 L942.51,1137.93 L942.51,1144.65 L944.11,1144.41 L944.11,1144.02 L945.72,1143.78 L945.72,1136.2 L946.91,1136.02 L946.91,1141.46 L948.11,1141.28 L948.11,1138.51 L949.65,1138.29 L949.65,1142.37 L951.27,1142.13 L951.27,1141.53 L952.32,1141.37 L952.32,1139.67 L953.47,1139.5 L953.47,1142.31 L954.54,1142.15 L954.54,1134.83 L955.77,1134.65 L955.77,1134.62 L957.2,1134.4 L957.2,1136.18 L958.91,1135.92 L958.91,1133.94 L960.37,1133.73 L960.37,1140.82 L961.53,1140.65 L961.53,1133.94 L963.14,1133.71 L963.14,1138.03 L964.53,1137.83 L964.53,1126.65 L966.39,1126.37 L966.39,1140.22 L967.76,1140.01 L967.76,1139.85 L969.56,1139.58 L969.56,1139.16 L970.2,1139.07 L970.2,1147.96 Z" fill="#4e4a45" />
<line x1="850.3" y1="547" x2="850.3" y2="951" stroke="#6e6d65" stroke-width="3" stroke-dasharray="11.6,12" stroke-dashoffset="0"/>
<path d="M1417,1149.2 L1417,1133.15 L1418.91,1132.86 L1418.91,1138.18 L1420.48,1137.94 L1420.48,1128.61 L1422.16,1128.36 L1422.16,1130.3 L1424.1,1130.02 L1424.1,1139.37 L1425.76,1139.13 L1425.76,1141.34 L1427.13,1141.13 L1427.13,1134.46 L1428.27,1134.29 L1428.27,1135.38 L1429.64,1135.18 L1429.64,1132.34 L1430.7,1132.18 L1430.7,1138.09 L1432.07,1137.89 L1432.07,1138.81 L1433.84,1138.55 L1433.84,1132.76 L1435.25,1132.55 L1435.25,1138.38 L1436.81,1138.15 L1436.81,1136.2 L1438.61,1135.94 L1438.61,1127.22 L1440.18,1126.98 L1440.18,1138.84 L1441.81,1138.6 L1441.81,1137.56 L1443.11,1137.37 L1443.11,1130.36 L1445.04,1130.08 L1445.04,1125.41 L1446.47,1125.2 L1446.47,1134.31 L1447.62,1134.14 L1447.62,1125.01 L1449.47,1124.74 L1449.47,1130.78 L1450.57,1130.61 L1450.57,1136.96 L1452.39,1136.69 L1452.39,1128.82 L1453.68,1128.63 L1453.68,1134.53 L1455.28,1134.29 L1455.28,1135.19 L1456.38,1135.02 L1456.38,1131.83 L1457.89,1131.6 L1457.89,1130.56 L1459.58,1130.31 L1459.58,1129 L1461.46,1128.72 L1461.46,1131.4 L1462.74,1131.21 L1462.74,1134.61 L1464.25,1134.38 L1464.25,1132.05 L1465.39,1131.88 L1465.39,1122.21 L1466.7,1122.02 L1466.7,1122.33 L1468.42,1122.08 L1468.42,1132.34 L1470.26,1132.07 L1470.26,1128.8 L1471.66,1128.59 L1471.66,1119.89 L1473.2,1119.66 L1473.2,1129.07 L1474.99,1128.81 L1474.99,1122.42 L1476.62,1122.18 L1476.62,1131.36 L1477.78,1131.19 L1477.78,1130.93 L1479.72,1130.64 L1479.72,1126.01 L1481.32,1125.77 L1481.32,1124.52 L1483.25,1124.24 L1483.25,1124.29 L1485.01,1124.03 L1485.01,1116.81 L1486.61,1116.58 L1486.61,1129.29 L1488.25,1129.05 L1488.25,1126.38 L1489.79,1126.15 L1489.79,1130.47 L1491.06,1130.28 L1491.06,1129.5 L1492.5,1129.29 L1492.5,1129.7 L1493.71,1129.52 L1493.71,1124.1 L1494.78,1123.94 L1494.78,1124.1 L1496.25,1123.88 L1496.25,1126.79 L1497.78,1126.56 L1497.78,1131.62 L1499.15,1131.42 L1499.15,1131.25 L1501.05,1130.97 L1501.05,1111.44 L1502.71,1111.19 L1502.71,1122.62 L1504.09,1122.42 L1504.09,1128.39 L1505.23,1128.22 L1505.23,1125.84 L1506.79,1125.6 L1506.79,1119.85 L1508.31,1119.63 L1508.31,1118.66 L1509.36,1118.51 L1509.36,1119.97 L1510.84,1119.75 L1510.84,1125.51 L1511.92,1125.35 L1511.92,1118.48 L1513,1118.32 L1513,1126.63 L1514.09,1126.47 L1514.09,1127.32 L1515.29,1127.14 L1515.29,1124.29 L1516.92,1124.05 L1516.92,1115.86 L1518.28,1115.66 L1518.28,1125.49 L1519.33,1125.34 L1519.33,1111.8 L1521.17,1111.53 L1521.17,1119.69 L1522.35,1119.52 L1522.35,1117.16 L1523.3,1117.02 L1523.3,1133.4 Z" fill="#4e4a45" />
<path d="M1523.3,1133.4 L1523.3,1123.76 L1525.01,1123.5 L1525.01,1124.75 L1526.4,1124.54 L1526.4,1127.29 L1527.53,1127.12 L1527.53,1121.68 L1529.27,1121.43 L1529.27,1124.34 L1530.8,1124.12 L1530.8,1122.68 L1532.01,1122.5 L1532.01,1124.03 L1533.19,1123.85 L1533.19,1125.42 L1534.72,1125.19 L1534.72,1125.72 L1536.52,1125.45 L1536.52,1123.53 L1537.75,1123.34 L1537.75,1124.5 L1539.46,1124.25 L1539.46,1120.45 L1541.03,1120.22 L1541.03,1120.07 L1542.57,1119.84 L1542.57,1120.74 L1544.14,1120.51 L1544.14,1122.17 L1545.83,1121.92 L1545.83,1118.12 L1547.41,1117.89 L1547.41,1118.3 L1548.85,1118.08 L1548.85,1120.6 L1549.86,1120.45 L1549.86,1111.58 L1551.39,1111.36 L1551.39,1115.95 L1552.61,1115.76 L1552.61,1112.55 L1554.1,1112.33 L1554.1,1114.62 L1555.78,1114.37 L1555.78,1112.05 L1557.47,1111.8 L1557.47,1115.57 L1558.75,1115.37 L1558.75,1113.1 L1560.31,1112.87 L1560.31,1112.65 L1562.02,1112.4 L1562.02,1116.31 L1563.58,1116.08 L1563.58,1112.53 L1564.78,1112.35 L1564.78,1113.33 L1566.04,1113.15 L1566.04,1107.78 L1567.84,1107.52 L1567.84,1114.39 L1568.91,1114.23 L1568.91,1116.42 L1570.31,1116.21 L1570.31,1109.57 L1571.59,1109.38 L1571.59,1113.29 L1572.62,1113.13 L1572.62,1110.54 L1573.66,1110.39 L1573.66,1111.02 L1574.96,1110.82 L1574.96,1114.61 L1576.39,1114.4 L1576.39,1111.46 L1577.64,1111.28 L1577.64,1117.24 L1579.16,1117.01 L1579.16,1115.05 L1580.21,1114.89 L1580.21,1113.09 L1581.58,1112.89 L1581.58,1112.94 L1583.1,1112.71 L1583.1,1117.98 L1584.7,1117.75 L1584.7,1117.27 L1586.49,1117.01 L1586.49,1113.27 L1588.27,1113 L1588.27,1113.99 L1588.4,1113.97 L1588.4,1123.73 Z" fill="#cbaac9" />
<path d="M1537.3,1131.62 L1537.3,1101.16 L1539.5,1101.16 L1539.5,1131.3 Z M1529.9,1132.72 L1529.9,1114.26 L1532.1,1114.26 L1532.1,1132.4 Z M1541.9,1130.94 L1541.9,1106.48 L1544.1,1106.48 L1544.1,1130.61 Z M1573.7,1126.21 L1573.7,1103.75 L1575.9,1103.75 L1575.9,1125.89 Z M1577.4,1125.66 L1577.4,1107.2 L1579.6,1107.2 L1579.6,1125.34 Z M1581.9,1125 L1581.9,1108.53 L1584.1,1108.53 L1584.1,1124.67 Z M1585.9,1124.4 L1585.9,1111.94 L1588.1,1111.94 L1588.1,1124.07 Z" fill="#cbaac9"/>
<path d="M1543.2,1130.45 L1543.2,1120.43 L1544.4,1120.25 L1544.4,1120.88 L1545.6,1120.7 L1545.6,1119.07 L1546.8,1118.89 L1546.8,1119.95 L1548,1119.77 L1548,1117.57 L1549.2,1117.4 L1549.2,1115.89 L1550.4,1115.71 L1550.4,1110.2 L1551.6,1110.02 L1551.6,1109.22 L1552.8,1109.04 L1552.8,1112.19 L1554,1112.01 L1554,1105.23 L1555.2,1105.05 L1555.2,1111.79 L1556.4,1111.62 L1556.4,1110.12 L1557.6,1109.94 L1557.6,1105.7 L1558.8,1105.52 L1558.8,1109.92 L1560,1109.74 L1560,1103.52 L1561.2,1103.34 L1561.2,1109.68 L1562.4,1109.5 L1562.4,1107.94 L1563.6,1107.77 L1563.6,1101.89 L1564.8,1101.71 L1564.8,1104.6 L1566,1104.42 L1566,1104.18 L1567.2,1104.01 L1567.2,1106.51 L1568.4,1106.33 L1568.4,1102.54 L1569.6,1102.36 L1569.6,1091.14 L1570.8,1090.96 L1570.8,1095.94 L1572,1095.76 L1572,1098.76 L1573.2,1098.58 L1573.2,1105.73 L1574.4,1105.55 L1574.4,1112.99 L1575.6,1112.82 L1575.6,1114.23 L1576.8,1114.05 L1576.8,1113.61 L1578,1113.43 L1578,1113.7 L1579.2,1113.52 L1579.2,1116.63 L1580.4,1116.45 L1580.4,1119.1 L1581.6,1118.92 L1581.6,1116.47 L1581.8,1116.44 L1581.8,1124.71 Z" fill="#cbaac9" />
<path d="M1545.35,1130.43 L1545.35,1121.68 L1546.65,1121.68 L1546.65,1130.23 Z M1548.65,1129.94 L1548.65,1107.16 L1549.95,1107.16 L1549.95,1129.74 Z M1551.95,1129.45 L1551.95,1114.43 L1553.25,1114.43 L1553.25,1129.25 Z M1555.25,1128.96 L1555.25,1098.96 L1556.55,1098.96 L1556.55,1128.76 Z M1558.55,1128.47 L1558.55,1110 L1559.85,1110 L1559.85,1128.27 Z M1561.85,1127.98 L1561.85,1107.11 L1563.15,1107.11 L1563.15,1127.78 Z M1565.15,1127.48 L1565.15,1100.85 L1566.45,1100.85 L1566.45,1127.29 Z M1568.45,1126.99 L1568.45,1092.65 L1569.75,1092.65 L1569.75,1126.8 Z M1571.75,1126.5 L1571.75,1105.99 L1573.05,1105.99 L1573.05,1126.31 Z M1575.05,1126.01 L1575.05,1111.74 L1576.35,1111.74 L1576.35,1125.82 Z M1578.35,1125.52 L1578.35,1116.53 L1579.65,1116.53 L1579.65,1125.33 Z" fill="#cbaac9"/>
<path d="M1543.2,1130.75 L1543.2,1102.28 L1545.5,1102.28 L1545.5,1130.4 Z M1546.5,1130.26 L1546.5,1089.79 L1548.8,1089.79 L1548.8,1129.91 Z M1549.8,1129.77 L1549.8,1074.3 L1552.1,1074.3 L1552.1,1129.42 Z M1553.1,1129.28 L1553.1,1066.8 L1555.4,1066.8 L1555.4,1128.93 Z M1556.4,1128.79 L1556.4,1050.31 L1558.7,1050.31 L1558.7,1128.44 Z M1559.7,1128.29 L1559.7,1067.82 L1562,1067.82 L1562,1127.95 Z M1563,1127.8 L1563,1055.33 L1565.3,1055.33 L1565.3,1127.46 Z M1566.3,1127.31 L1566.3,1060.84 L1568.6,1060.84 L1568.6,1126.97 Z M1569.6,1126.82 L1569.6,1018.35 L1571.9,1018.35 L1571.9,1126.48 Z M1572.9,1126.33 L1572.9,1075.86 L1575.2,1075.86 L1575.2,1125.99 Z M1576.2,1125.84 L1576.2,1090.37 L1578.5,1090.37 L1578.5,1125.5 Z M1579.5,1125.35 L1579.5,1102.88 L1581.8,1102.88 L1581.8,1125.01 Z" fill="#cbaac9"/>
<path d="M1588.4,1123.73 L1588.4,1115.38 L1589.79,1115.18 L1589.79,1108.77 L1590.95,1108.6 L1590.95,1106.09 L1592.79,1105.81 L1592.79,1106.52 L1594.72,1106.24 L1594.72,1114.95 L1596.16,1114.74 L1596.16,1109.18 L1597.32,1109.01 L1597.32,1106.49 L1598.89,1106.25 L1598.89,1115.37 L1600.52,1115.12 L1600.52,1110.73 L1602.04,1110.51 L1602.04,1110.31 L1603.81,1110.04 L1603.81,1105.45 L1605.5,1105.2 L1605.5,1109.65 L1606.9,1109.44 L1606.9,1095.39 L1608.48,1095.15 L1608.48,1110.79 L1610.28,1110.53 L1610.28,1114.11 L1611.51,1113.93 L1611.51,1114.63 L1613.07,1114.4 L1613.07,1108.35 L1614.67,1108.11 L1614.67,1110.62 L1615.73,1110.46 L1615.73,1094.65 L1617.21,1094.43 L1617.21,1108.19 L1618.46,1108.01 L1618.46,1104.16 L1620.15,1103.9 L1620.15,1104.12 L1622,1103.84 L1622,1110.39 L1623.29,1110.19 L1623.29,1109.95 L1624.64,1109.75 L1624.64,1110.01 L1626.42,1109.74 L1626.42,1102.55 L1627.95,1102.32 L1627.95,1107.22 L1629.09,1107.05 L1629.09,1101.53 L1630.26,1101.36 L1630.26,1109.32 L1631.85,1109.09 L1631.85,1109.77 L1633.38,1109.54 L1633.38,1102.33 L1635.06,1102.08 L1635.06,1108.23 L1636.42,1108.03 L1636.42,1102.91 L1638.25,1102.64 L1638.25,1109.96 L1639.74,1109.73 L1639.74,1103.16 L1641.44,1102.91 L1641.44,1099.07 L1642.87,1098.85 L1642.87,1099.74 L1644.51,1099.49 L1644.51,1097.85 L1646.05,1097.62 L1646.05,1103.8 L1647.24,1103.63 L1647.24,1103.96 L1648.75,1103.73 L1648.75,1098.5 L1650.01,1098.31 L1650.01,1100.9 L1651.14,1100.73 L1651.14,1099.35 L1653.01,1099.07 L1653.01,1102.05 L1654.79,1101.79 L1654.79,1100.32 L1656.62,1100.04 L1656.62,1104.91 L1657.92,1104.72 L1657.92,1097.8 L1659.57,1097.56 L1659.57,1105.78 L1660.91,1105.59 L1660.91,1102.95 L1662.81,1102.67 L1662.81,1105.58 L1663.89,1105.42 L1663.89,1096.02 L1665.27,1095.82 L1665.27,1097.02 L1666.76,1096.8 L1666.76,1102.18 L1668.64,1101.91 L1668.64,1098.43 L1669.97,1098.23 L1669.97,1098.92 L1671.72,1098.67 L1671.72,1104.78 L1673.53,1104.51 L1673.53,1104.54 L1675.2,1104.3 L1675.2,1104.48 L1676.38,1104.31 L1676.38,1087.88 L1678.07,1087.63 L1678.07,1097.9 L1679.58,1097.67 L1679.58,1098.66 L1681.44,1098.39 L1681.44,1102.91 L1682.99,1102.68 L1682.99,1103.49 L1684.5,1103.27 L1684.5,1100.19 L1686.11,1099.95 L1686.11,1101.48 L1687.8,1101.23 L1687.8,1096.54 L1689.08,1096.35 L1689.08,1095.42 L1690.85,1095.15 L1690.85,1093.82 L1692.5,1093.58 L1692.5,1090.23 L1694.31,1089.96 L1694.31,1092.29 L1695.88,1092.06 L1695.88,1088.69 L1697.35,1088.47 L1697.35,1069.81 L1699.18,1069.53 L1699.18,1089.9 L1701.09,1089.62 L1701.09,1093.18 L1702.38,1092.99 L1702.38,1080.92 L1704.04,1080.68 L1704.04,1084.57 L1705.15,1084.41 L1705.15,1078.82 L1706.51,1078.62 L1706.51,1077.92 L1707.78,1077.73 L1707.78,1083.65 L1709.63,1083.38 L1709.63,1087.51 L1711.17,1087.28 L1711.17,1077.52 L1712.45,1077.32 L1712.45,1078.7 L1714.29,1078.43 L1714.29,1077.99 L1716.11,1077.72 L1716.11,1078.13 L1717.21,1077.96 L1717.21,1081.19 L1718.75,1080.96 L1718.75,1090.24 L1719.96,1090.06 L1719.96,1093.16 L1721.34,1092.95 L1721.34,1086.64 L1722.66,1086.44 L1722.66,1082.13 L1724.33,1081.88 L1724.33,1086.61 L1725.47,1086.44 L1725.47,1075.74 L1727.1,1075.49 L1727.1,1094.25 L1729.01,1093.96 L1729.01,1094.67 L1730.15,1094.5 L1730.15,1085.18 L1731.63,1084.96 L1731.63,1094.58 L1733.24,1094.34 L1733.24,1095.33 L1734.82,1095.09 L1734.82,1093.86 L1736.33,1093.64 L1736.33,1087.07 L1738.03,1086.81 L1738.03,1086.74 L1739.49,1086.53 L1739.49,1093.64 L1741.01,1093.41 L1741.01,1092.51 L1741.6,1092.42 L1741.6,1100.96 Z" fill="#4e4a45" />
<path d="M1707,1106.41 L1707,1062.93 L1709.4,1062.93 L1709.4,1106.05 Z M1702.8,1107.03 L1702.8,1072.55 L1705.2,1072.55 L1705.2,1106.67 Z M1710.8,1105.84 L1710.8,1075.36 L1713.2,1075.36 L1713.2,1105.48 Z M1697.8,1107.77 L1697.8,1079.29 L1700.2,1079.29 L1700.2,1107.42 Z" fill="#4e4a45"/>
<path d="M820.2,1241.4 L820.2,1233.64 L821.54,1233.44 L821.54,1233.87 L822.9,1233.67 L822.9,1231.68 L824.78,1231.41 L824.78,1223.31 L826.13,1223.11 L826.13,1224.45 L827.55,1224.24 L827.55,1231.43 L828.63,1231.27 L828.63,1229.36 L829.94,1229.16 L829.94,1232.13 L831.86,1231.85 L831.86,1228.12 L833.29,1227.9 L833.29,1224.66 L835.22,1224.37 L835.22,1230.19 L836.3,1230.03 L836.3,1239.01 Z" fill="#4e4a45" />
<path d="M836.22,1239.02 L836.22,1216.37 L837.42,1216.19 L837.42,1218.49 L838.62,1218.31 L838.62,1206.16 L839.82,1205.98 L839.82,1205.06 L841.02,1204.88 L841.02,1194.93 L842.22,1194.75 L842.22,1186.53 L843.42,1186.35 L843.42,1153.07 L844.62,1152.89 L844.62,1144.41 L845.82,1144.23 L845.82,1152.66 L847.02,1152.48 L847.02,1110.98 L848.22,1110.81 L848.22,1139.45 L849.42,1139.27 L849.42,1131.26 L850.62,1131.09 L850.62,1111.92 L851.82,1111.74 L851.82,1081.65 L853.02,1081.47 L853.02,1120.59 L854.22,1120.41 L854.22,1072.17 L855.42,1071.99 L855.42,1083.57 L856.62,1083.39 L856.62,1061.75 L857.82,1061.57 L857.82,1090.26 L859.02,1090.08 L859.02,1112.34 L860.22,1112.16 L860.22,1110.03 L861.42,1109.85 L861.42,1069.88 L862.62,1069.7 L862.62,1084.78 L863.82,1084.61 L863.82,1067.94 L865.02,1067.76 L865.02,1105.63 L866.22,1105.45 L866.22,1104.86 L867.42,1104.68 L867.42,1116.83 L868.62,1116.65 L868.62,1088.71 L869.82,1088.53 L869.82,1106.49 L871.02,1106.31 L871.02,1142.17 L872.22,1141.99 L872.22,1124.07 L873.42,1123.89 L873.42,1161.21 L874.62,1161.03 L874.62,1147.41 L875.82,1147.24 L875.82,1158.52 L877.02,1158.34 L877.02,1143.45 L878.22,1143.27 L878.22,1156.93 L879.42,1156.75 L879.42,1173.67 L880.62,1173.49 L880.62,1197.96 L881.82,1197.78 L881.82,1207.91 L882.98,1207.73 L882.98,1232.07 Z" fill="#d2242b" />
<path d="M839.15,1238.88 L839.15,1202.71 L840.45,1202.71 L840.45,1238.69 Z M843.11,1238.3 L843.11,1157.43 L844.41,1157.43 L844.41,1238.1 Z M847.07,1237.71 L847.07,1142.69 L848.37,1142.69 L848.37,1237.51 Z M851.03,1237.12 L851.03,1041.78 L852.33,1041.78 L852.33,1236.93 Z M854.99,1236.53 L854.99,1013.06 L856.29,1013.06 L856.29,1236.34 Z M858.95,1235.94 L858.95,1050.96 L860.25,1050.96 L860.25,1235.75 Z M862.91,1235.35 L862.91,1037.72 L864.21,1037.72 L864.21,1235.16 Z M866.87,1234.76 L866.87,1066.8 L868.17,1066.8 L868.17,1234.57 Z M870.83,1234.18 L870.83,1091.38 L872.13,1091.38 L872.13,1233.98 Z M874.79,1233.59 L874.79,1122.43 L876.09,1122.43 L876.09,1233.39 Z M878.75,1233 L878.75,1192.21 L880.05,1192.21 L880.05,1232.81 Z" fill="#d2242b"/>
<path d="M836.22,1239.32 L836.22,1187.08 L839.42,1187.08 L839.42,1238.84 Z M840.18,1238.73 L840.18,1124.59 L843.38,1124.59 L843.38,1238.26 Z M844.14,1238.14 L844.14,1049.4 L847.34,1049.4 L847.34,1237.67 Z M848.1,1237.55 L848.1,977.62 L851.3,977.62 L851.3,1237.08 Z M852.06,1236.97 L852.06,946.43 L855.26,946.43 L855.26,1236.49 Z M856.02,1236.38 L856.02,918.04 L859.22,918.04 L859.22,1235.9 Z M859.98,1235.79 L859.98,931.85 L863.18,931.85 L863.18,1235.31 Z M863.94,1235.2 L863.94,933.86 L867.14,933.86 L867.14,1234.72 Z M867.9,1234.61 L867.9,993.07 L871.1,993.07 L871.1,1234.14 Z M871.86,1234.02 L871.86,1050.39 L875.06,1050.39 L875.06,1233.55 Z M875.82,1233.43 L875.82,1073.5 L879.02,1073.5 L879.02,1232.96 Z M879.78,1232.85 L879.78,1170.61 L882.98,1170.61 L882.98,1232.37 Z" fill="#d2242b"/>
<path d="M883.5,1231.99 L883.5,1224.82 L885.06,1224.59 L885.06,1217.55 L886.65,1217.31 L886.65,1217.88 L888.3,1217.63 L888.3,1215.97 L890.17,1215.7 L890.17,1208.5 L891.7,1208.27 L891.7,1215.12 L892.82,1214.95 L892.82,1222.77 L894.67,1222.5 L894.67,1217.85 L895.92,1217.67 L895.92,1222.67 L897.47,1222.44 L897.47,1209.89 L898.54,1209.73 L898.54,1223.36 L899.86,1223.16 L899.86,1218.71 L901.52,1218.47 L901.52,1215.76 L903.47,1215.47 L903.47,1217.38 L905.39,1217.09 L905.39,1212.29 L907.32,1212 L907.32,1218.02 L908.76,1217.8 L908.76,1209.21 L910.19,1208.99 L910.19,1209.47 L911.97,1209.2 L911.97,1207.57 L913.57,1207.33 L913.57,1211.99 L915.29,1211.74 L915.29,1219.48 L917.19,1219.2 L917.19,1215.86 L919.09,1215.57 L919.09,1202.33 L920.72,1202.09 L920.72,1213.98 L922.32,1213.75 L922.32,1209.88 L923.6,1209.69 L923.6,1216.02 L925.04,1215.8 L925.04,1211.78 L926.35,1211.59 L926.35,1217.55 L928.18,1217.28 L928.18,1215.62 L929.87,1215.37 L929.87,1208.38 L931.67,1208.12 L931.67,1218.79 L933.1,1218.58 L933.1,1217.69 L934.47,1217.48 L934.47,1216.35 L936.03,1216.12 L936.03,1218.06 L937.76,1217.8 L937.76,1214.98 L939.31,1214.75 L939.31,1211.7 L941.24,1211.41 L941.24,1201.13 L942.49,1200.94 L942.49,1215.56 L943.56,1215.4 L943.56,1207.08 L944.6,1206.92 L944.6,1222.91 Z" fill="#4e4a45" />
<path d="M944.6,1222.91 L944.6,1215.42 L945.86,1215.23 L945.86,1210.73 L947.55,1210.47 L947.55,1211.68 L948.95,1211.47 L948.95,1213.57 L950.02,1213.41 L950.02,1215.42 L951.42,1215.22 L951.42,1213.24 L953.18,1212.98 L953.18,1213.24 L954.25,1213.08 L954.25,1210.44 L955.37,1210.27 L955.37,1209.63 L956.51,1209.46 L956.51,1210.79 L957.61,1210.63 L957.61,1211.88 L958.87,1211.69 L958.87,1208.1 L960.05,1207.93 L960.05,1209.53 L961.11,1209.37 L961.11,1205.8 L962.91,1205.53 L962.91,1206.87 L964.3,1206.67 L964.3,1209.72 L965.48,1209.54 L965.48,1202.06 L966.57,1201.9 L966.57,1208.07 L968.33,1207.81 L968.33,1199.64 L970.12,1199.38 L970.12,1199.29 L971.31,1199.11 L971.31,1198.82 L972.79,1198.6 L972.79,1193.36 L974.22,1193.15 L974.22,1195.27 L975.99,1195 L975.99,1199.09 L977.09,1198.93 L977.09,1194.91 L978.78,1194.66 L978.78,1188.67 L980.24,1188.45 L980.24,1189.98 L981.9,1189.73 L981.9,1203.19 L983.65,1202.93 L983.65,1197.78 L985.41,1197.52 L985.41,1195.48 L986.9,1195.26 L986.9,1199.04 L988.07,1198.87 L988.07,1203.82 L989.43,1203.62 L989.43,1205.51 L990.63,1205.33 L990.63,1204.1 L992.13,1203.88 L992.13,1201.92 L993.48,1201.72 L993.48,1205.51 L994.76,1205.32 L994.76,1202.8 L995.99,1202.62 L995.99,1204.45 L996.98,1204.3 L996.98,1204.15 L998.23,1203.97 L998.23,1202.17 L998.8,1202.09 L998.8,1214.86 Z" fill="#56a772" />
<path d="M977.2,1218.37 L977.2,1134.91 L979.4,1134.91 L979.4,1218.04 Z M973.4,1218.93 L973.4,1152.47 L975.6,1152.47 L975.6,1218.61 Z M980.4,1217.89 L980.4,1147.43 L982.6,1147.43 L982.6,1217.57 Z M968.9,1219.6 L968.9,1174.14 L971.1,1174.14 L971.1,1219.28 Z M984.9,1217.23 L984.9,1176.76 L987.1,1176.76 L987.1,1216.9 Z M963.9,1220.35 L963.9,1191.88 L966.1,1191.88 L966.1,1220.02 Z M988.9,1216.63 L988.9,1190.17 L991.1,1190.17 L991.1,1216.3 Z" fill="#56a772"/>
<path d="M998.8,1214.86 L998.8,1209.18 L999.91,1209.01 L999.91,1201.98 L1001.54,1201.74 L1001.54,1206.6 L1002.69,1206.43 L1002.69,1199.37 L1004.61,1199.09 L1004.61,1200.67 L1005.72,1200.51 L1005.72,1198.8 L1007.31,1198.56 L1007.31,1198.11 L1008.69,1197.9 L1008.69,1196.45 L1010,1196.26 L1010,1205.64 L1011.93,1205.35 L1011.93,1205.08 L1013.01,1204.92 L1013.01,1201.08 L1014.59,1200.85 L1014.59,1199.93 L1016.22,1199.69 L1016.22,1199.43 L1017.89,1199.18 L1017.89,1204.01 L1019.01,1203.84 L1019.01,1194.97 L1020.38,1194.77 L1020.38,1186.75 L1021.83,1186.54 L1021.83,1196.87 L1023.51,1196.62 L1023.51,1198.32 L1024.81,1198.13 L1024.81,1198.74 L1026.74,1198.46 L1026.74,1200.87 L1028.05,1200.68 L1028.05,1203.66 L1029.12,1203.5 L1029.12,1199.82 L1030.5,1199.62 L1030.5,1201.77 L1031.93,1201.56 L1031.93,1193.36 L1033.78,1193.09 L1033.78,1189.45 L1035.51,1189.19 L1035.51,1185.56 L1037.28,1185.3 L1037.28,1191.29 L1038.89,1191.05 L1038.89,1191.44 L1040.26,1191.24 L1040.26,1201.75 L1041.71,1201.53 L1041.71,1201.36 L1043.18,1201.14 L1043.18,1194.65 L1045.11,1194.36 L1045.11,1200.08 L1046.99,1199.8 L1046.99,1186.38 L1048.36,1186.17 L1048.36,1202.62 L1050.24,1202.34 L1050.24,1194.55 L1051.9,1194.31 L1051.9,1194.06 L1053.38,1193.84 L1053.38,1200.56 L1054.86,1200.34 L1054.86,1200.53 L1056.21,1200.33 L1056.21,1193.59 L1057.3,1193.43 L1057.3,1206.17 Z" fill="#4e4a45" />
<path d="M1056.97,1206.22 L1056.97,1204.96 L1058.17,1204.78 L1058.17,1204.85 L1059.37,1204.68 L1059.37,1202.34 L1060.57,1202.16 L1060.57,1199.49 L1061.77,1199.31 L1061.77,1196.25 L1062.97,1196.07 L1062.97,1193.43 L1064.17,1193.25 L1064.17,1195.34 L1065.37,1195.16 L1065.37,1191.33 L1066.57,1191.15 L1066.57,1187.47 L1067.77,1187.29 L1067.77,1191.43 L1068.97,1191.25 L1068.97,1183.12 L1070.17,1182.95 L1070.17,1183.66 L1071.37,1183.48 L1071.37,1178.97 L1072.57,1178.79 L1072.57,1180.83 L1073.77,1180.65 L1073.77,1180.22 L1074.97,1180.05 L1074.97,1179.11 L1076.17,1178.94 L1076.17,1181.54 L1077.37,1181.36 L1077.37,1183.87 L1078.57,1183.69 L1078.57,1175.25 L1079.77,1175.07 L1079.77,1173.66 L1080.97,1173.49 L1080.97,1174.12 L1082.17,1173.94 L1082.17,1178.89 L1083.37,1178.71 L1083.37,1175.17 L1084.57,1174.99 L1084.57,1174.84 L1085.77,1174.66 L1085.77,1176.5 L1086.97,1176.32 L1086.97,1174.81 L1088.17,1174.63 L1088.17,1174.97 L1089.37,1174.79 L1089.37,1168.42 L1090.57,1168.25 L1090.57,1172.54 L1091.77,1172.36 L1091.77,1168.81 L1092.97,1168.63 L1092.97,1170.08 L1094.17,1169.9 L1094.17,1178.83 L1095.37,1178.65 L1095.37,1174.27 L1096.57,1174.09 L1096.57,1180.58 L1097.77,1180.4 L1097.77,1181.07 L1098.97,1180.89 L1098.97,1183.13 L1100.17,1182.95 L1100.17,1182.76 L1101.37,1182.59 L1101.37,1186.5 L1102.57,1186.32 L1102.57,1185.04 L1103.77,1184.86 L1103.77,1188.48 L1104.97,1188.3 L1104.97,1188.34 L1106.17,1188.16 L1106.17,1191.28 L1107.37,1191.1 L1107.37,1192.27 L1108.57,1192.09 L1108.57,1192.92 L1109.77,1192.74 L1109.77,1195.52 L1110.97,1195.34 L1110.97,1196.45 L1111.83,1196.32 L1111.83,1198.06 Z" fill="#5488a8" />
<path d="M1059.63,1206.12 L1059.63,1203.09 L1060.93,1203.09 L1060.93,1205.93 Z M1063.65,1205.52 L1063.65,1186.57 L1064.95,1186.57 L1064.95,1205.33 Z M1067.67,1204.93 L1067.67,1176.59 L1068.97,1176.59 L1068.97,1204.73 Z M1071.69,1204.33 L1071.69,1156.27 L1072.99,1156.27 L1072.99,1204.14 Z M1075.71,1203.73 L1075.71,1149.59 L1077.01,1149.59 L1077.01,1203.54 Z M1079.73,1203.13 L1079.73,1168.75 L1081.03,1168.75 L1081.03,1202.94 Z M1083.75,1202.54 L1083.75,1129.38 L1085.05,1129.38 L1085.05,1202.34 Z M1087.77,1201.94 L1087.77,1162.67 L1089.07,1162.67 L1089.07,1201.75 Z M1091.79,1201.34 L1091.79,1146.56 L1093.09,1146.56 L1093.09,1201.15 Z M1095.81,1200.74 L1095.81,1160.65 L1097.11,1160.65 L1097.11,1200.55 Z M1099.83,1200.15 L1099.83,1181.18 L1101.13,1181.18 L1101.13,1199.95 Z M1103.85,1199.55 L1103.85,1188.5 L1105.15,1188.5 L1105.15,1199.36 Z M1107.87,1198.95 L1107.87,1195.46 L1109.17,1195.46 L1109.17,1198.76 Z" fill="#5488a8"/>
<path d="M1056.97,1206.52 L1056.97,1193.02 L1059.57,1193.02 L1059.57,1206.13 Z M1060.99,1205.92 L1060.99,1072.13 L1063.59,1072.13 L1063.59,1205.53 Z M1065.01,1205.32 L1065.01,1030.03 L1067.61,1030.03 L1067.61,1204.93 Z M1069.03,1204.72 L1069.03,954.93 L1071.63,954.93 L1071.63,1204.34 Z M1073.05,1204.13 L1073.05,936.73 L1075.65,936.73 L1075.65,1203.74 Z M1077.07,1203.53 L1077.07,909.04 L1079.67,909.04 L1079.67,1203.14 Z M1081.09,1202.93 L1081.09,867.24 L1083.69,867.24 L1083.69,1202.55 Z M1085.11,1202.33 L1085.11,867.84 L1087.71,867.84 L1087.71,1201.95 Z M1089.13,1201.74 L1089.13,865.24 L1091.73,865.24 L1091.73,1201.35 Z M1093.15,1201.14 L1093.15,887.25 L1095.75,887.25 L1095.75,1200.75 Z M1097.17,1200.54 L1097.17,992.65 L1099.77,992.65 L1099.77,1200.16 Z M1101.19,1199.94 L1101.19,1033.15 L1103.79,1033.15 L1103.79,1199.56 Z M1105.21,1199.35 L1105.21,1111.05 L1107.81,1111.05 L1107.81,1198.96 Z M1109.23,1198.75 L1109.23,1170.66 L1111.83,1170.66 L1111.83,1198.36 Z" fill="#5488a8"/>
<path d="M1111.5,1198.11 L1111.5,1184.07 L1113.07,1183.84 L1113.07,1180.83 L1114.78,1180.57 L1114.78,1187.89 L1116.17,1187.69 L1116.17,1189.07 L1117.74,1188.84 L1117.74,1170.56 L1119.35,1170.32 L1119.35,1187.68 L1120.94,1187.44 L1120.94,1189.54 L1122.5,1189.31 L1122.5,1177.89 L1123.78,1177.7 L1123.78,1182.2 L1125.67,1181.92 L1125.67,1181.49 L1127.04,1181.29 L1127.04,1184.08 L1128.74,1183.83 L1128.74,1169.44 L1130.42,1169.19 L1130.42,1184.47 L1131.78,1184.27 L1131.78,1186.52 L1133.41,1186.28 L1133.41,1179.15 L1134.81,1178.94 L1134.81,1179.45 L1136.73,1179.16 L1136.73,1177.6 L1138.1,1177.39 L1138.1,1176.04 L1139.67,1175.81 L1139.67,1175.77 L1141.3,1175.53 L1141.3,1178.58 L1142.65,1178.38 L1142.65,1183.3 L1144.05,1183.09 L1144.05,1178.16 L1145.18,1178 L1145.18,1175.46 L1146.2,1175.3 L1146.2,1192.96 Z" fill="#4e4a45" />
<line x1="170" y1="665.3" x2="252" y2="653.2" stroke="#000" stroke-width="2.6" />
<polygon points="155.3,667.5 174.91,656.53 170.88,665.21 177.24,672.36" fill="#000" stroke="none" stroke-width="0" />
<polygon points="267.6,651 247.99,661.97 252.02,653.29 245.66,646.14" fill="#000" stroke="none" stroke-width="0" />
<line x1="285" y1="648.5" x2="366" y2="636.6" stroke="#000" stroke-width="2.6" />
<polygon points="270.3,651 289.91,640.03 285.88,648.71 292.24,655.86" fill="#000" stroke="none" stroke-width="0" />
<polygon points="381.3,634.3 361.73,645.35 365.73,636.65 359.34,629.53" fill="#000" stroke="none" stroke-width="0" />
<line x1="397" y1="632.3" x2="596.5" y2="604.2" stroke="#000" stroke-width="2.6" />
<line x1="612.5" y1="601.8" x2="835" y2="570.6" stroke="#000" stroke-width="2.6" />
<polygon points="382.6,634.3 402.28,623.45 398.2,632.11 404.51,639.3" fill="#000" stroke="none" stroke-width="0" />
<polygon points="849.7,568.6 830.02,579.45 834.1,570.79 827.79,563.6" fill="#000" stroke="none" stroke-width="0" />
<path d="M594,613 C598.5,616 598.5,606 597.5,601 S596.5,588 601.5,584" fill="none" stroke="#000" stroke-width="2.4" stroke-linecap="round"/>
<path d="M608.5,613 C613,616 613,606 612,601 S611,588 616,584" fill="none" stroke="#000" stroke-width="2.4" stroke-linecap="round"/>
<text x="26.3" y="604.1" font-size="27.5" textLength="33.3" lengthAdjust="spacingAndGlyphs">(d)</text>
<text x="203" y="623.8" font-size="27" text-anchor="middle" textLength="51" lengthAdjust="spacingAndGlyphs" transform="rotate(-8.3 203 623.8)">27.7</text>
<text x="205.5" y="650.5" font-size="27" text-anchor="middle" textLength="49" lengthAdjust="spacingAndGlyphs" transform="rotate(-8.3 205.5 650.5)">GHz</text>
<text x="319.5" y="609.8" font-size="27" text-anchor="middle" textLength="51" lengthAdjust="spacingAndGlyphs" transform="rotate(-8.3 319.5 609.8)">26.3</text>
<text x="321.5" y="635" font-size="27" text-anchor="middle" textLength="49" lengthAdjust="spacingAndGlyphs" transform="rotate(-8.3 321.5 635)">GHz</text>
<text x="533.5" y="603" font-size="26" text-anchor="middle" textLength="88" lengthAdjust="spacingAndGlyphs" transform="rotate(-8 533.5 603)">1.3 THz</text>
<text x="170.5" y="727.5" font-size="28.5" font-style="italic">λ</text>
<text x="185.5" y="738" font-size="16.5">1</text>
<text x="278.7" y="842.5" font-size="28.5" font-style="italic">λ</text>
<text x="293.7" y="853" font-size="16.5">2</text>
<text x="395" y="688.5" font-size="28.5" font-style="italic">λ</text>
<text x="410" y="699" font-size="16.5">3</text>
<text x="858.2" y="650.5" font-size="28.5" font-style="italic">λ</text>
<text x="873.2" y="661" font-size="16.5">4</text>
<text x="80.3" y="685.5" font-size="28" text-anchor="end" textLength="38.8" lengthAdjust="spacingAndGlyphs">-10</text>
<text x="80.3" y="761.6" font-size="28" text-anchor="end" textLength="38.8" lengthAdjust="spacingAndGlyphs">-20</text>
<text x="80.3" y="837.6" font-size="28" text-anchor="end" textLength="38.8" lengthAdjust="spacingAndGlyphs">-30</text>
<text x="80.3" y="915.7" font-size="28" text-anchor="end" textLength="38.8" lengthAdjust="spacingAndGlyphs">-40</text>
<text x="80.3" y="994.2" font-size="28" text-anchor="end" textLength="38.8" lengthAdjust="spacingAndGlyphs">-50</text>
<text x="24.7" y="902.5" font-size="28" textLength="159.5" lengthAdjust="spacingAndGlyphs" transform="rotate(-90 24.7 902.5)">Power [dBm]</text>
<text x="57.7" y="1102" font-size="28.5" font-style="italic" textLength="20" lengthAdjust="spacingAndGlyphs">V</text>
<text x="76.7" y="1110.5" font-size="16.5">5</text>
<text x="221.3" y="1143.4" font-size="28.5" font-style="italic" textLength="20" lengthAdjust="spacingAndGlyphs">V</text>
<text x="240.3" y="1151.9" font-size="16.5">4</text>
<text x="403.2" y="1189" font-size="28.5" font-style="italic" textLength="20" lengthAdjust="spacingAndGlyphs">V</text>
<text x="422.2" y="1197.5" font-size="16.5">3</text>
<text x="582.2" y="1234.8" font-size="28.5" font-style="italic" textLength="20" lengthAdjust="spacingAndGlyphs">V</text>
<text x="601.2" y="1243.3" font-size="16.5">2</text>
<text x="758.1" y="1280.5" font-size="28.5" font-style="italic" textLength="20" lengthAdjust="spacingAndGlyphs">V</text>
<text x="777.1" y="1289" font-size="16.5">1</text>
<g transform="rotate(14 287 1205)">
<text x="282.5" y="1205" font-size="28.5" font-style="italic" textLength="20" lengthAdjust="spacingAndGlyphs">V</text>
<text x="300.5" y="1214.5" font-size="16" textLength="41" lengthAdjust="spacingAndGlyphs">EOPM</text>
<text x="345.5" y="1205" font-size="28.5" font-style="italic" textLength="33" lengthAdjust="spacingAndGlyphs">[V]</text>
</g>
<text x="981.5" y="1276.5" font-size="26.3" text-anchor="middle" textLength="81" lengthAdjust="spacingAndGlyphs" transform="rotate(-8.6 981.5 1276.5)">1536.8</text>
<text x="1201" y="1243.5" font-size="26.3" text-anchor="middle" textLength="81" lengthAdjust="spacingAndGlyphs" transform="rotate(-8.6 1201 1243.5)">1537.2</text>
<text x="1577.5" y="1185.5" font-size="26.3" text-anchor="middle" textLength="81" lengthAdjust="spacingAndGlyphs" transform="rotate(-8.6 1577.5 1185.5)">1547.4</text>
<text x="1361.5" y="1259" font-size="26.5" text-anchor="middle" textLength="212" lengthAdjust="spacingAndGlyphs" transform="rotate(-8.6 1361.5 1259)">Wavelength [nm]</text>
</g>
<g id="pa">
<text x="22.4" y="25.2" font-size="27.5" textLength="32" lengthAdjust="spacingAndGlyphs">(a)</text>
<rect x="10.5" y="54.5" width="530.5" height="231" fill="none" stroke="#da2a1f" stroke-width="2.6" rx="32"/>
<text x="521" y="82" font-size="26.5" text-anchor="end" fill="#da2a1f" textLength="38" lengthAdjust="spacingAndGlyphs">PIC</text>
<rect x="26.5" y="69.5" width="366" height="123" fill="none" stroke="#21b03a" stroke-width="2.6" rx="22"/>
<text x="384" y="95" font-size="26.5" text-anchor="end" fill="#3fb337" textLength="116" lengthAdjust="spacingAndGlyphs">Feedback</text>
<text x="38.3" y="121.1" font-size="28" textLength="30.5" lengthAdjust="spacingAndGlyphs">BR</text>
<rect x="39" y="128.4" width="34.7" height="31.7" fill="none" stroke="#000" stroke-width="2.5" />
<polyline points="72.6,130 40.4,143.9 72.6,158.2" fill="none" stroke="#000" stroke-width="2.2" stroke-linejoin="miter"/>
<line x1="57.3" y1="135.5" x2="57.3" y2="152.5" stroke="#000" stroke-width="1.8" stroke-dasharray="2.6,2.4"/>
<line x1="57.3" y1="136.4" x2="72" y2="136.4" stroke="#000" stroke-width="1.8" stroke-dasharray="2.6,2.4"/>
<line x1="57.3" y1="150.9" x2="72" y2="150.9" stroke="#000" stroke-width="1.8" stroke-dasharray="2.6,2.4"/>
<line x1="73.7" y1="143.9" x2="108.2" y2="143.9" stroke="#000" stroke-width="2.2" />
<rect x="109.2" y="128.8" width="127" height="30.7" fill="none" stroke="#000" stroke-width="2.5" />
<text x="134.9" y="154.2" font-size="28" textLength="72.4" lengthAdjust="spacingAndGlyphs">EOPM</text>
<line x1="237.2" y1="143.9" x2="263" y2="144.3" stroke="#000" stroke-width="2.2" />
<rect x="263.3" y="118" width="117.4" height="53.4" fill="none" stroke="#000" stroke-width="2.7" />
<text x="295.5" y="154.6" font-size="28.6" textLength="52" lengthAdjust="spacingAndGlyphs">SOA</text>
<text x="348" y="164.7" font-size="16.5" textLength="8" lengthAdjust="spacingAndGlyphs">2</text>
<path d="M380.4,144.3 L494.8,144.3 A9.55,9.55 0 0 1 494.8,163.4 L472.9,163.4" fill="none" stroke="#000" stroke-width="2.2" />
<rect x="444.2" y="160.5" width="28.4" height="14.8" fill="none" stroke="#000" stroke-width="2.2" />
<line x1="472.6" y1="171.3" x2="545" y2="170.5" stroke="#000" stroke-width="2.2" />
<polyline points="444,167.2 413.3,167.2 413.3,223 455,223" fill="none" stroke="#000" stroke-width="2.2" stroke-linejoin="miter"/>
<rect x="45" y="228.2" width="7.2" height="19.3" fill="#d92b1d"/>
<rect x="52" y="228.2" width="7.6" height="19.3" fill="#fcaab3"/>
<rect x="59.55" y="228.2" width="7.2" height="19.3" fill="#d92b1d"/>
<rect x="66.55" y="228.2" width="7.6" height="19.3" fill="#fcaab3"/>
<rect x="74.1" y="228.2" width="7.2" height="19.3" fill="#d92b1d"/>
<rect x="81.1" y="228.2" width="7.6" height="19.3" fill="#fcaab3"/>
<rect x="88.65" y="228.2" width="7.2" height="19.3" fill="#d92b1d"/>
<rect x="95.65" y="228.2" width="7.6" height="19.3" fill="#fcaab3"/>
<rect x="103.2" y="228.2" width="7.2" height="19.3" fill="#d92b1d"/>
<rect x="110.2" y="228.2" width="11.3" height="19.3" fill="#fcaab3"/>
<text x="50.3" y="225.3" font-size="26" textLength="64.2" lengthAdjust="spacingAndGlyphs">DBR1</text>
<line x1="121.8" y1="238.2" x2="159.6" y2="238.2" stroke="#000" stroke-width="2.2" />
<rect x="159.6" y="228.2" width="7.4" height="19.3" fill="#262a5e"/>
<rect x="166.8" y="228.2" width="7.5" height="19.3" fill="#6983c5"/>
<rect x="174.15" y="228.2" width="7.4" height="19.3" fill="#262a5e"/>
<rect x="181.35" y="228.2" width="7.5" height="19.3" fill="#6983c5"/>
<rect x="188.7" y="228.2" width="7.4" height="19.3" fill="#262a5e"/>
<rect x="195.9" y="228.2" width="7.5" height="19.3" fill="#6983c5"/>
<rect x="203.25" y="228.2" width="7.4" height="19.3" fill="#262a5e"/>
<rect x="210.45" y="228.2" width="7.5" height="19.3" fill="#6983c5"/>
<rect x="217.8" y="228.2" width="7.4" height="19.3" fill="#262a5e"/>
<rect x="225" y="228.2" width="12" height="19.3" fill="#6983c5"/>
<text x="162.2" y="225.3" font-size="26" textLength="64.2" lengthAdjust="spacingAndGlyphs">DBR2</text>
<line x1="236.9" y1="238.2" x2="263" y2="238.2" stroke="#000" stroke-width="2.2" />
<rect x="263.3" y="211.2" width="117.4" height="53.4" fill="none" stroke="#000" stroke-width="2.7" />
<text x="295.5" y="245.7" font-size="28.6" textLength="52" lengthAdjust="spacingAndGlyphs">SOA</text>
<text x="348" y="255.8" font-size="16.5" textLength="6.5" lengthAdjust="spacingAndGlyphs">1</text>
<line x1="380.4" y1="238" x2="455" y2="237.7" stroke="#000" stroke-width="2.2" />
<rect x="456" y="214.2" width="34" height="31.7" fill="none" stroke="#000" stroke-width="2.5" />
<polyline points="456.9,214.8 488,230.2 456.9,245.4" fill="none" stroke="#000" stroke-width="2.2" stroke-linejoin="miter"/>
<line x1="474.6" y1="222" x2="474.6" y2="238.5" stroke="#000" stroke-width="1.8" stroke-dasharray="2.6,2.4"/>
<line x1="457" y1="222.7" x2="474.6" y2="222.7" stroke="#000" stroke-width="1.8" stroke-dasharray="2.6,2.4"/>
<line x1="457" y1="237.7" x2="474.6" y2="237.7" stroke="#000" stroke-width="1.8" stroke-dasharray="2.6,2.4"/>
<text x="498.9" y="241.2" font-size="26" textLength="30" lengthAdjust="spacingAndGlyphs">BR</text>
<rect x="10.5" y="303.5" width="530.5" height="153.5" fill="none" stroke="#3d76be" stroke-width="2.6" rx="32"/>
<text x="521" y="449.5" font-size="26.5" text-anchor="end" fill="#3f7ec3" textLength="115" lengthAdjust="spacingAndGlyphs">EO-Comb</text>
<rect x="34.5" y="325.2" width="57" height="56.9" fill="none" stroke="#000" stroke-width="2.7" />
<line x1="59.1" y1="330.4" x2="59.1" y2="375.3" stroke="#000" stroke-width="2.6" stroke-linecap="round"/>
<polygon points="44.9,341 73,341 59.1,360.2" fill="none" stroke="#000" stroke-width="2.6" stroke-linejoin="round"/>
<line x1="47.6" y1="362.3" x2="71.3" y2="362.3" stroke="#000" stroke-width="2.6" stroke-linecap="round"/>
<line x1="73.7" y1="355.4" x2="79.5" y2="349.5" stroke="#000" stroke-width="2.6" stroke-linecap="round"/>
<polygon points="85.2,343.6 81.52,354.07 74.73,347.28" fill="#000" stroke="none" stroke-width="0" />
<line x1="73.7" y1="369.8" x2="80.5" y2="362" stroke="#000" stroke-width="2.6" stroke-linecap="round"/>
<polygon points="86.2,355.6 83.02,366.23 75.92,359.77" fill="#000" stroke="none" stroke-width="0" />
<text x="44.2" y="409.5" font-size="26.5" textLength="41.8" lengthAdjust="spacingAndGlyphs">ECL</text>
<line x1="92.8" y1="353.4" x2="133" y2="353.4" stroke="#000" stroke-width="2.4" />
<polygon points="132.5,353.5 156.7,330.2 252.6,330.2 277,353.5 252.6,376.6 156.7,376.6" fill="#e6e6e6" stroke="#000" stroke-width="2.4" />
<text x="170" y="361.5" font-size="27" textLength="64" lengthAdjust="spacingAndGlyphs">MZM</text>
<line x1="204.7" y1="377.5" x2="204.7" y2="406.5" stroke="#000" stroke-width="2.4" stroke-dasharray="4,3.5"/>
<rect x="141.5" y="407" width="126.5" height="43" fill="#e6e6e6" stroke="#000" stroke-width="2.6" />
<text x="177" y="437.7" font-size="27" textLength="61" lengthAdjust="spacingAndGlyphs">AWG</text>
<line x1="277" y1="353.5" x2="464" y2="353.5" stroke="#000" stroke-width="2.4" />
<circle cx="371" cy="339.3" r="14.6" fill="#bdbdbd" stroke="#000" stroke-width="2.6" />
<circle cx="400.3" cy="339.3" r="14.6" fill="#bdbdbd" stroke="#000" stroke-width="2.6" />
<circle cx="386" cy="367.5" r="14.6" fill="#bdbdbd" stroke="#000" stroke-width="2.6" />
<text x="370" y="414" font-size="26.5" textLength="30" lengthAdjust="spacingAndGlyphs">PC</text>
<polygon points="464,325.5 512,353.5 464,381.5" fill="#e6e6e6" stroke="#000" stroke-width="2.6" />
<text x="460" y="409.5" font-size="26.5" textLength="62" lengthAdjust="spacingAndGlyphs">EDFA</text>
<polyline points="512,353.5 632,353.5 632,192" fill="none" stroke="#000" stroke-width="2.6" stroke-linejoin="miter"/>
<polygon points="544.6,170.1 555.4,164.5 589.3,164.5 589.3,175.8 555.4,175.8" fill="#fdf8e6" stroke="#000" stroke-width="2.3" />
<text x="562.6" y="158.8" font-size="26" textLength="23.1" lengthAdjust="spacingAndGlyphs">LF</text>
<line x1="589.3" y1="169.8" x2="611" y2="169.6" stroke="#000" stroke-width="2.3" />
<circle cx="631.5" cy="169.6" r="20.5" fill="#e8e8e8" stroke="#000" stroke-width="2.8" />
<path d="M631,184 A14.3,14.3 0 1 1 645.3,166.5" fill="none" stroke="#000" stroke-width="2.6" />
<polygon points="645.6,172.5 639.91,165.48 648.15,163.83" fill="#000" stroke="none" stroke-width="0" />
<line x1="652" y1="169.6" x2="675" y2="169.6" stroke="#000" stroke-width="2.3" />
<text x="664.6" y="206.9" font-size="26" text-anchor="middle" textLength="48" lengthAdjust="spacingAndGlyphs" transform="rotate(-45 664.6 206.9)">FOC</text>
<line x1="595" y1="131.3" x2="644" y2="131.3" stroke="#dc2a1c" stroke-width="3" />
<polygon points="664.4,131.3 641.4,141.1 648.3,131.3 641.4,121.5" fill="#dc2a1c" stroke="none" stroke-width="0" />
<path d="M622.4,263 C623,235 619,208 599,194.5" fill="none" stroke="#3270b8" stroke-width="3.6" />
<polygon points="581.1,192.8 601.55,184.31 595.08,193.5 600.6,203.29" fill="#3270b8" stroke="none" stroke-width="0" />
<rect x="675.7" y="162.9" width="28.3" height="13.9" fill="none" stroke="#000" stroke-width="2.6" />
<polyline points="704,166.4 747.4,166.4 747.4,112" fill="none" stroke="#000" stroke-width="2.4" stroke-linejoin="miter"/>
<polyline points="704,173.3 747,173.3 747,201.8" fill="none" stroke="#000" stroke-width="2.4" stroke-linejoin="miter"/>
<text x="760.7" y="61.2" font-size="26.9" textLength="49.6" lengthAdjust="spacingAndGlyphs">OSA</text>
<rect x="731.7" y="68.4" width="111.5" height="53.5" fill="#c0c0c0" stroke="#000" stroke-width="2.9" rx="1"/>
<circle cx="745.9" cy="76.8" r="3.5" fill="#000" stroke="none" stroke-width="0" />
<circle cx="745.9" cy="83.1" r="3.5" fill="#000" stroke="none" stroke-width="0" />
<circle cx="745.9" cy="89.5" r="3.5" fill="#000" stroke="none" stroke-width="0" />
<circle cx="745.9" cy="95.9" r="3.5" fill="#000" stroke="none" stroke-width="0" />
<circle cx="757.4" cy="76.8" r="3.5" fill="#000" stroke="none" stroke-width="0" />
<circle cx="757.4" cy="83.1" r="3.5" fill="#000" stroke="none" stroke-width="0" />
<circle cx="757.4" cy="89.5" r="3.5" fill="#000" stroke="none" stroke-width="0" />
<circle cx="757.4" cy="95.9" r="3.5" fill="#000" stroke="none" stroke-width="0" />
<circle cx="769.3" cy="76.8" r="3.5" fill="#000" stroke="none" stroke-width="0" />
<circle cx="769.3" cy="83.1" r="3.5" fill="#000" stroke="none" stroke-width="0" />
<circle cx="769.3" cy="89.5" r="3.5" fill="#000" stroke="none" stroke-width="0" />
<circle cx="769.3" cy="95.9" r="3.5" fill="#000" stroke="none" stroke-width="0" />
<circle cx="747.4" cy="112.3" r="5.2" fill="#000" stroke="none" stroke-width="0" />
<rect x="788.6" y="76.2" width="44.6" height="35.6" fill="#fff" stroke="#000" stroke-width="2.9" />
<path d="M791,110 Q811,82 831,110" fill="none" stroke="#dc2a1c" stroke-width="2.6" />
<line x1="799.6" y1="86" x2="799.6" y2="98.5" stroke="#dc2a1c" stroke-width="2.4" stroke-linecap="round"/>
<line x1="810.7" y1="84.3" x2="810.7" y2="96.6" stroke="#dc2a1c" stroke-width="2.4" stroke-linecap="round"/>
<line x1="821.3" y1="86" x2="821.3" y2="98.5" stroke="#dc2a1c" stroke-width="2.4" stroke-linecap="round"/>
<rect x="725" y="201.8" width="44" height="44.5" fill="none" stroke="#000" stroke-width="2.5" />
<path d="M728.5,214 C733,208 738,208 746,213 S760,220.5 765.6,214" fill="none" stroke="#000" stroke-width="2.2" stroke-linecap="round"/>
<path d="M728.5,224.6 C733,218.6 738,218.6 746,223.6 S760,231.1 765.6,224.6" fill="none" stroke="#000" stroke-width="2.2" stroke-linecap="round"/>
<path d="M728.5,235.1 C733,229.1 738,229.1 746,234.1 S760,241.6 765.6,235.1" fill="none" stroke="#000" stroke-width="2.2" stroke-linecap="round"/>
<line x1="743.5" y1="216.5" x2="751" y2="209" stroke="#000" stroke-width="2.2" stroke-linecap="round"/>
<line x1="743.5" y1="237.4" x2="751" y2="229.8" stroke="#000" stroke-width="2.2" stroke-linecap="round"/>
<text x="777.1" y="233.6" font-size="26.5" textLength="43.1" lengthAdjust="spacingAndGlyphs">BPF</text>
<line x1="746.9" y1="246.3" x2="746.9" y2="261.8" stroke="#000" stroke-width="2.4" />
<rect x="725.4" y="261.8" width="43.3" height="43.5" fill="none" stroke="#000" stroke-width="2.5" />
<line x1="740.5" y1="261.8" x2="740.5" y2="305.3" stroke="#000" stroke-width="2.5" />
<polygon points="730,271.6 751.1,271.6 740.5,289.2" fill="none" stroke="#000" stroke-width="2.5" stroke-linejoin="round"/>
<line x1="732" y1="292.2" x2="750" y2="292.2" stroke="#000" stroke-width="2.5" stroke-linecap="round"/>
<line x1="763.6" y1="271.6" x2="756.5" y2="278.7" stroke="#000" stroke-width="2.5" stroke-linecap="round"/>
<polygon points="750.2,284.8 753.88,274.33 760.67,281.12" fill="#000" stroke="none" stroke-width="0" />
<line x1="765.1" y1="285.7" x2="758.1" y2="292.7" stroke="#000" stroke-width="2.5" stroke-linecap="round"/>
<polygon points="751.8,299 755.48,288.53 762.27,295.32" fill="#000" stroke="none" stroke-width="0" />
<text x="777.1" y="292.7" font-size="26.5" textLength="31.6" lengthAdjust="spacingAndGlyphs">PD</text>
<line x1="746.6" y1="307" x2="746.6" y2="332" stroke="#000" stroke-width="2.4" stroke-dasharray="5,4.5"/>
<rect x="731.4" y="333.4" width="111.9" height="54" fill="#424242" stroke="#000" stroke-width="2.8" rx="1"/>
<circle cx="746.6" cy="342.8" r="5.2" fill="#000" stroke="none" stroke-width="0" />
<circle cx="746.4" cy="354.4" r="3.8" fill="#000" stroke="none" stroke-width="0" />
<circle cx="746.4" cy="360.4" r="3.8" fill="#000" stroke="none" stroke-width="0" />
<circle cx="746.4" cy="366.4" r="3.8" fill="#000" stroke="none" stroke-width="0" />
<circle cx="746.4" cy="372.8" r="3.8" fill="#000" stroke="none" stroke-width="0" />
<circle cx="758" cy="354.4" r="3.8" fill="#000" stroke="none" stroke-width="0" />
<circle cx="758" cy="360.4" r="3.8" fill="#000" stroke="none" stroke-width="0" />
<circle cx="758" cy="366.4" r="3.8" fill="#000" stroke="none" stroke-width="0" />
<circle cx="758" cy="372.8" r="3.8" fill="#000" stroke="none" stroke-width="0" />
<circle cx="770" cy="354.4" r="3.8" fill="#000" stroke="none" stroke-width="0" />
<circle cx="770" cy="360.4" r="3.8" fill="#000" stroke="none" stroke-width="0" />
<circle cx="770" cy="366.4" r="3.8" fill="#000" stroke="none" stroke-width="0" />
<circle cx="770" cy="372.8" r="3.8" fill="#000" stroke="none" stroke-width="0" />
<rect x="788.5" y="339.7" width="44.1" height="35.4" fill="#858585" stroke="#000" stroke-width="2.6" />
<path d="M790.3,372 Q810.5,343 831.5,372" fill="none" stroke="#e1c25f" stroke-width="3.4" />
<line x1="799.6" y1="345.6" x2="799.6" y2="358.5" stroke="#e1c25f" stroke-width="3.4" stroke-linecap="round"/>
<line x1="810.3" y1="344" x2="810.3" y2="358.5" stroke="#e1c25f" stroke-width="3.4" stroke-linecap="round"/>
<line x1="821.1" y1="345.6" x2="821.1" y2="358.5" stroke="#e1c25f" stroke-width="3.4" stroke-linecap="round"/>
<text x="774.8" y="414.7" font-size="26.5" textLength="43.2" lengthAdjust="spacingAndGlyphs">ESA</text>
<line x1="577.5" y1="455.5" x2="577.5" y2="376" stroke="#111" stroke-width="3" />
<polygon points="577.5,362 586.5,380 568.5,380" fill="#111" stroke="none" stroke-width="0" />
<line x1="576" y1="454.4" x2="723" y2="454.4" stroke="#111" stroke-width="3" />
<polygon points="738.4,454.4 720.4,463.4 720.4,445.4" fill="#111" stroke="none" stroke-width="0" />
<path d="M610.7,376.3 L609.6,452.6 L613.6,452.6 L612.5,376.3 Z" fill="#5b8db0" stroke="#5b8db0" stroke-width="0.8" stroke-linejoin="round"/>
<path d="M629.9,375.3 L628.8,452.6 L632.8,452.6 L631.7,375.3 Z" fill="#5b8db0" stroke="#5b8db0" stroke-width="0.8" stroke-linejoin="round"/>
<path d="M648.3,377.8 L647.2,452.6 L651.2,452.6 L650.1,377.8 Z" fill="#5b8db0" stroke="#5b8db0" stroke-width="0.8" stroke-linejoin="round"/>
<path d="M667,375.6 L665.9,452.6 L669.9,452.6 L668.8,375.6 Z" fill="#5b8db0" stroke="#5b8db0" stroke-width="0.8" stroke-linejoin="round"/>
<path d="M685.4,377.2 L684.3,452.6 L688.3,452.6 L687.2,377.2 Z" fill="#5b8db0" stroke="#5b8db0" stroke-width="0.8" stroke-linejoin="round"/>
<text x="595" y="480.5" font-size="26" textLength="111" lengthAdjust="spacingAndGlyphs">Frequency</text>
<text x="559.5" y="449.5" font-size="22" font-style="italic" transform="rotate(-90 559.5 449.5)">P</text>
<text x="570.5" y="435.5" font-size="15" textLength="43" lengthAdjust="spacingAndGlyphs" transform="rotate(-90 570.5 435.5)">Optical</text>
</g>
<g id="pb">
<text x="947.4" y="23.6" font-size="27.5" textLength="31.5" lengthAdjust="spacingAndGlyphs">(b)</text>
<path d="M1018.5,208.4 L1018.5,202.64 L1019.64,202.64 L1019.64,202.74 L1021.33,202.74 L1021.33,205.34 L1022.86,205.34 L1022.86,202.47 L1024.55,202.47 L1024.55,204.38 L1025.59,204.38 L1025.59,203.39 L1027.37,203.39 L1027.37,204.66 L1028.75,204.66 L1028.75,205.12 L1030.38,205.12 L1030.38,205.04 L1032,205.04 L1032,205.57 L1033.65,205.57 L1033.65,206.73 L1034.79,206.73 L1034.79,204.45 L1036.12,204.45 L1036.12,203.45 L1037.36,203.45 L1037.36,204.05 L1038.88,204.05 L1038.88,206.18 L1040.07,206.18 L1040.07,204.06 L1041.13,204.06 L1041.13,203.7 L1042.49,203.7 L1042.49,204.15 L1043.62,204.15 L1043.62,206.61 L1044.81,206.61 L1044.81,206.75 L1045.96,206.75 L1045.96,206.29 L1047.29,206.29 L1047.29,204.78 L1048.86,204.78 L1048.86,206.87 L1050.09,206.87 L1050.09,206.93 L1051.26,206.93 L1051.26,206.65 L1052.48,206.65 L1052.48,205.94 L1053.83,205.94 L1053.83,205.4 L1054.92,205.4 L1054.92,206.59 L1056.45,206.59 L1056.45,206 L1057.46,206 L1057.46,206.48 L1059.25,206.48 L1059.25,206.24 L1060.85,206.24 L1060.85,205.81 L1062.29,205.81 L1062.29,205.12 L1063.86,205.12 L1063.86,204.74 L1065.41,204.74 L1065.41,204.51 L1067.06,204.51 L1067.06,204.66 L1067.5,204.66 L1067.5,208.4 Z" fill="#4e4a45" />
<path d="M1122.7,208.4 L1122.7,206.57 L1123.69,206.57 L1123.69,206.86 L1124.81,206.86 L1124.81,206.3 L1126.54,206.3 L1126.54,206.32 L1127.88,206.32 L1127.88,205.34 L1129.19,205.34 L1129.19,203.67 L1130.87,203.67 L1130.87,204.55 L1132.08,204.55 L1132.08,203 L1133.41,203 L1133.41,203.03 L1135.21,203.03 L1135.21,203.9 L1136.23,203.9 L1136.23,205.12 L1137.87,205.12 L1137.87,200.91 L1139.05,200.91 L1139.05,203.02 L1140.56,203.02 L1140.56,205.34 L1142.12,205.34 L1142.12,201.98 L1143.7,201.98 L1143.7,203.58 L1145.11,203.58 L1145.11,205.38 L1146.76,205.38 L1146.76,202.5 L1147.85,202.5 L1147.85,205.74 L1149.15,205.74 L1149.15,205.76 L1150.92,205.76 L1150.92,206.05 L1152.51,206.05 L1152.51,205.74 L1153.66,205.74 L1153.66,205.72 L1155.1,205.72 L1155.1,203.92 L1156.37,203.92 L1156.37,204.74 L1157.76,204.74 L1157.76,206.92 L1159.41,206.92 L1159.41,204.98 L1160.51,204.98 L1160.51,206.7 L1162.07,206.7 L1162.07,204.86 L1163.24,204.86 L1163.24,205.16 L1164.66,205.16 L1164.66,206.52 L1165.96,206.52 L1165.96,206.55 L1167.65,206.55 L1167.65,206.48 L1168.8,206.48 L1168.8,206.76 L1169.81,206.76 L1169.81,206.34 L1171.46,206.34 L1171.46,204.61 L1172.5,204.61 L1172.5,208.4 Z" fill="#4e4a45" />
<path d="M1216.5,208.4 L1216.5,203.69 L1217.85,203.69 L1217.85,202.7 L1219,202.7 L1219,205 L1220.69,205 L1220.69,205.17 L1222.3,205.17 L1222.3,205.3 L1223.54,205.3 L1223.54,203.07 L1224.63,203.07 L1224.63,206.27 L1225.69,206.27 L1225.69,203.63 L1227.01,203.63 L1227.01,204.68 L1228.76,204.68 L1228.76,204.23 L1230.16,204.23 L1230.16,204.91 L1231.17,204.91 L1231.17,205.9 L1232.28,205.9 L1232.28,203.13 L1234.03,203.13 L1234.03,202.35 L1235.66,202.35 L1235.66,202.86 L1237.14,202.86 L1237.14,205.89 L1238.27,205.89 L1238.27,205.34 L1239.42,205.34 L1239.42,200.72 L1241.07,200.72 L1241.07,205.66 L1242.39,205.66 L1242.39,206.07 L1244.05,206.07 L1244.05,206.5 L1245.68,206.5 L1245.68,203.63 L1247.24,203.63 L1247.24,205.55 L1248.83,205.55 L1248.83,202.33 L1250.35,202.33 L1250.35,202.98 L1251.61,202.98 L1251.61,205.81 L1252.92,205.81 L1252.92,205.69 L1254.54,205.69 L1254.54,204.68 L1255.73,204.68 L1255.73,205.49 L1256.8,205.49 L1256.8,206.81 L1258.2,206.81 L1258.2,206.28 L1259.72,206.28 L1259.72,205.19 L1260.74,205.19 L1260.74,205.4 L1262.13,205.4 L1262.13,204.94 L1263.56,204.94 L1263.56,205.78 L1265.01,205.78 L1265.01,206.96 L1266,206.96 L1266,205.92 L1267.31,205.92 L1267.31,206.38 L1269.12,206.38 L1269.12,204.44 L1270.5,204.44 L1270.5,204.88 L1272.08,204.88 L1272.08,206.45 L1273.57,206.45 L1273.57,206.71 L1274.72,206.71 L1274.72,206.73 L1276.07,206.73 L1276.07,205 L1277.41,205 L1277.41,206.02 L1279.19,206.02 L1279.19,205.04 L1280.5,205.04 L1280.5,208.4 Z" fill="#4e4a45" />
<path d="M1338.8,208.4 L1338.8,204.67 L1340.23,204.67 L1340.23,206 L1341.85,206 L1341.85,205.15 L1343.29,205.15 L1343.29,205.93 L1344.94,205.93 L1344.94,206.34 L1345.99,206.34 L1345.99,206.29 L1347.05,206.29 L1347.05,203.35 L1348.23,203.35 L1348.23,206.11 L1349.85,206.11 L1349.85,202.8 L1351.25,202.8 L1351.25,205.68 L1353,205.68 L1353,205.81 L1354.69,205.81 L1354.69,205.47 L1356.48,205.47 L1356.48,205.91 L1358.13,205.91 L1358.13,205.18 L1359.95,205.18 L1359.95,205.39 L1361.17,205.39 L1361.17,205.25 L1362.7,205.25 L1362.7,204.96 L1364.17,204.96 L1364.17,204 L1365.33,204 L1365.33,205.51 L1366.5,205.51 L1366.5,203.25 L1367.74,203.25 L1367.74,205.03 L1368.94,205.03 L1368.94,204.58 L1370.38,204.58 L1370.38,200.56 L1372.03,200.56 L1372.03,205.38 L1373.24,205.38 L1373.24,204.59 L1374.23,204.59 L1374.23,202.13 L1375.72,202.13 L1375.72,203.65 L1377.43,203.65 L1377.43,206.38 L1378.63,206.38 L1378.63,200.94 L1380.32,200.94 L1380.32,205.5 L1381.39,205.5 L1381.39,204.24 L1383.09,204.24 L1383.09,206.34 L1384.84,206.34 L1384.84,206.51 L1386.27,206.51 L1386.27,203.98 L1387.51,203.98 L1387.51,204.8 L1388.8,204.8 L1388.8,205.17 L1390.59,205.17 L1390.59,202.27 L1392.16,202.27 L1392.16,206.87 L1393.15,206.87 L1393.15,206.32 L1394.65,206.32 L1394.65,205.32 L1395.91,205.32 L1395.91,206.79 L1397.06,206.79 L1397.06,204.88 L1398.65,204.88 L1398.65,206.78 L1399.75,206.78 L1399.75,206.69 L1400.88,206.69 L1400.88,206.03 L1401.93,206.03 L1401.93,204.24 L1402.98,204.24 L1402.98,203.43 L1404.6,203.43 L1404.6,203.82 L1405.59,203.82 L1405.59,205.78 L1407.24,205.78 L1407.24,202.41 L1408.5,202.41 L1408.5,203.83 L1410.15,203.83 L1410.15,205.36 L1411.77,205.36 L1411.77,205.39 L1413.17,205.39 L1413.17,206.3 L1414.58,206.3 L1414.58,205.76 L1416.36,205.76 L1416.36,204.88 L1417.82,204.88 L1417.82,203.66 L1419.19,203.66 L1419.19,206.57 L1420.93,206.57 L1420.93,206.16 L1422.13,206.16 L1422.13,205.67 L1423.62,205.67 L1423.62,206.25 L1425.35,206.25 L1425.35,205.86 L1426.49,205.86 L1426.49,204.05 L1428.3,204.05 L1428.3,204.82 L1429.84,204.82 L1429.84,203.83 L1430.83,203.83 L1430.83,205.28 L1432.29,205.28 L1432.29,206.89 L1433.75,206.89 L1433.75,201.39 L1434.85,201.39 L1434.85,206.01 L1436.18,206.01 L1436.18,206.06 L1437.79,206.06 L1437.79,205.94 L1439.49,205.94 L1439.49,203.53 L1440.91,203.53 L1440.91,202.89 L1441.93,202.89 L1441.93,205.57 L1443.42,205.57 L1443.42,203.95 L1444.5,203.95 L1444.5,206.2 L1445.52,206.2 L1445.52,206.11 L1446.76,206.11 L1446.76,205.47 L1448.55,205.47 L1448.55,206.33 L1450.21,206.33 L1450.21,206.68 L1451.95,206.68 L1451.95,206.76 L1453.38,206.76 L1453.38,205.18 L1454.63,205.18 L1454.63,206.77 L1455.95,206.77 L1455.95,203.31 L1457.68,203.31 L1457.68,204.02 L1459.06,204.02 L1459.06,203.93 L1460.2,203.93 L1460.2,204.55 L1461.92,204.55 L1461.92,204.24 L1463.64,204.24 L1463.64,203.87 L1465.38,203.87 L1465.38,205.31 L1466.94,205.31 L1466.94,203.91 L1468.18,203.91 L1468.18,203.34 L1469.72,203.34 L1469.72,202.06 L1471.19,202.06 L1471.19,201.79 L1472.41,201.79 L1472.41,202.19 L1473.83,202.19 L1473.83,203.49 L1475.02,203.49 L1475.02,204.26 L1476.21,204.26 L1476.21,206.07 L1477.94,206.07 L1477.94,203.57 L1479.24,203.57 L1479.24,203.86 L1480.77,203.86 L1480.77,205.49 L1482.18,205.49 L1482.18,205.19 L1483.6,205.19 L1483.6,202.1 L1485.09,202.1 L1485.09,202.64 L1486.73,202.64 L1486.73,204.41 L1488.13,204.41 L1488.13,206.59 L1489.59,206.59 L1489.59,201.91 L1490.94,201.91 L1490.94,203.23 L1492.68,203.23 L1492.68,205.25 L1493.86,205.25 L1493.86,203.88 L1495.36,203.88 L1495.36,203.68 L1497.03,203.68 L1497.03,205.59 L1498.71,205.59 L1498.71,205.43 L1499.87,205.43 L1499.87,205.12 L1501.68,205.12 L1501.68,202.68 L1503.41,202.68 L1503.41,204.53 L1504.45,204.53 L1504.45,206.46 L1506.05,206.46 L1506.05,204.04 L1507.41,204.04 L1507.41,204.53 L1508.91,204.53 L1508.91,204.2 L1510.18,204.2 L1510.18,206.08 L1511.9,206.08 L1511.9,204.17 L1513.54,204.17 L1513.54,205.21 L1514.65,205.21 L1514.65,204.9 L1516.01,204.9 L1516.01,206.12 L1517.16,206.12 L1517.16,204.95 L1518.37,204.95 L1518.37,205.62 L1520.13,205.62 L1520.13,205.56 L1521.9,205.56 L1521.9,206.5 L1523.64,206.5 L1523.64,204.07 L1525.36,204.07 L1525.36,205.87 L1526.38,205.87 L1526.38,204.61 L1527.86,204.61 L1527.86,204.44 L1528.96,204.44 L1528.96,204.28 L1530.06,204.28 L1530.06,204.32 L1531.37,204.32 L1531.37,204.79 L1532.53,204.79 L1532.53,203.99 L1534.19,203.99 L1534.19,203.49 L1535.35,203.49 L1535.35,205.47 L1537.06,205.47 L1537.06,205.92 L1538.4,205.92 L1538.4,203.88 L1539.8,203.88 L1539.8,204.46 L1540.92,204.46 L1540.92,205.4 L1542.25,205.4 L1542.25,206.86 L1543.69,206.86 L1543.69,205.12 L1544.73,205.12 L1544.73,204.56 L1546.1,204.56 L1546.1,204.75 L1547.83,204.75 L1547.83,202.98 L1549.2,202.98 L1549.2,205.48 L1550.67,205.48 L1550.67,205.48 L1552.17,205.48 L1552.17,205.08 L1553.89,205.08 L1553.89,202.99 L1555.3,202.99 L1555.3,204.56 L1556.44,204.56 L1556.44,206.69 L1557.42,206.69 L1557.42,205.06 L1558.94,205.06 L1558.94,206.02 L1560.62,206.02 L1560.62,204.15 L1561.87,204.15 L1561.87,205.58 L1563.65,205.58 L1563.65,203.4 L1565.11,203.4 L1565.11,202.87 L1566.29,202.87 L1566.29,203.81 L1567.37,203.81 L1567.37,203.78 L1568.45,203.78 L1568.45,205.29 L1569.56,205.29 L1569.56,204.65 L1570.76,204.65 L1570.76,205.15 L1572.34,205.15 L1572.34,205.62 L1573.6,205.62 L1573.6,205.13 L1575.06,205.13 L1575.06,205.78 L1576.73,205.78 L1576.73,204.2 L1577.91,204.2 L1577.91,204.03 L1579.7,204.03 L1579.7,206.44 L1581.21,206.44 L1581.21,206.22 L1582.24,206.22 L1582.24,205.13 L1583.83,205.13 L1583.83,201.77 L1585.22,201.77 L1585.22,204.16 L1586.43,204.16 L1586.43,206.4 L1588.24,206.4 L1588.24,206.38 L1589.89,206.38 L1589.89,205.1 L1591.08,205.1 L1591.08,201.7 L1592.18,201.7 L1592.18,204.79 L1593.47,204.79 L1593.47,205 L1594.71,205 L1594.71,204.1 L1595.86,204.1 L1595.86,203.95 L1597.17,203.95 L1597.17,206.15 L1598.67,206.15 L1598.67,205.69 L1600.49,205.69 L1600.49,205.32 L1601.62,205.32 L1601.62,203.65 L1602.9,203.65 L1602.9,202.77 L1604,202.77 L1604,208.4 Z" fill="#4e4a45" />
<path d="M1661.4,208.4 L1661.4,202.79 L1662.61,202.79 L1662.61,203.89 L1664.22,203.89 L1664.22,205.78 L1665.77,205.78 L1665.77,203.88 L1667.11,203.88 L1667.11,206.09 L1668.36,206.09 L1668.36,205.46 L1670.08,205.46 L1670.08,205.74 L1671.89,205.74 L1671.89,205.58 L1673.21,205.58 L1673.21,203.62 L1674.99,203.62 L1674.99,203.36 L1676.09,203.36 L1676.09,202.73 L1677.59,202.73 L1677.59,204.91 L1679,204.91 L1679,202.36 L1680.36,202.36 L1680.36,203.35 L1681.84,203.35 L1681.84,201.52 L1683.2,201.52 L1683.2,205.34 L1684.3,205.34 L1684.3,205.5 L1685.55,205.5 L1685.55,205.25 L1687.25,205.25 L1687.25,206.22 L1688.43,206.22 L1688.43,205.69 L1690.11,205.69 L1690.11,206.11 L1691.14,206.11 L1691.14,206.24 L1692.8,206.24 L1692.8,206.71 L1693.95,206.71 L1693.95,206.83 L1695.39,206.83 L1695.39,205.49 L1697.09,205.49 L1697.09,206.21 L1698.74,206.21 L1698.74,202.36 L1700.45,202.36 L1700.45,204.92 L1702.14,204.92 L1702.14,206.02 L1703.95,206.02 L1703.95,206.46 L1705.54,206.46 L1705.54,206.54 L1706.53,206.54 L1706.53,204.49 L1708.02,204.49 L1708.02,205.33 L1709.39,205.33 L1709.39,204.21 L1710.67,204.21 L1710.67,206.69 L1712.27,206.69 L1712.27,205.16 L1713.78,205.16 L1713.78,206.68 L1715.14,206.68 L1715.14,206.71 L1716.71,206.71 L1716.71,206.98 L1718.43,206.98 L1718.43,206.96 L1719.79,206.96 L1719.79,205.16 L1721,205.16 L1721,208.4 Z" fill="#4e4a45" />
<path d="M1344.6,208.7 L1344.6,196.4 L1346.4,196.4 L1346.4,208.7 Z M1348.1,208.7 L1348.1,199.4 L1349.9,199.4 L1349.9,208.7 Z M1354.1,208.7 L1354.1,198.4 L1355.9,198.4 L1355.9,208.7 Z M1384.1,208.7 L1384.1,201.4 L1385.9,201.4 L1385.9,208.7 Z M1499.1,208.7 L1499.1,202.4 L1500.9,202.4 L1500.9,208.7 Z M1559.1,208.7 L1559.1,201.4 L1560.9,201.4 L1560.9,208.7 Z" fill="#4e4a45"/>
<path d="M1067.5,208.4 L1067.5,205.45 L1069.11,205.45 L1069.11,202.94 L1070.3,202.94 L1070.3,202.17 L1071.97,202.17 L1071.97,203.74 L1073.39,203.74 L1073.39,203.85 L1074.61,203.85 L1074.61,199.54 L1075.63,199.54 L1075.63,204.43 L1077.05,204.43 L1077.05,203.84 L1078.53,203.84 L1078.53,201.09 L1080.17,201.09 L1080.17,201.31 L1081.17,201.31 L1081.17,200.77 L1082.18,200.77 L1082.18,203.5 L1083.28,203.5 L1083.28,201.35 L1084.55,201.35 L1084.55,198.98 L1085.87,198.98 L1085.87,201.6 L1087.1,201.6 L1087.1,199.24 L1088.43,199.24 L1088.43,200.21 L1089.37,200.21 L1089.37,199.47 L1090.67,199.47 L1090.67,202.02 L1092.28,202.02 L1092.28,200.66 L1093.56,200.66 L1093.56,200.36 L1094.88,200.36 L1094.88,201.68 L1096.17,201.68 L1096.17,203.8 L1097.84,203.8 L1097.84,202.98 L1099.03,202.98 L1099.03,202.85 L1100.35,202.85 L1100.35,200.6 L1101.59,200.6 L1101.59,199.95 L1103.15,199.95 L1103.15,201.36 L1104.65,201.36 L1104.65,203.69 L1105.58,203.69 L1105.58,202.88 L1106.82,202.88 L1106.82,203.6 L1108.07,203.6 L1108.07,202.79 L1109.23,202.79 L1109.23,203.09 L1110.57,203.09 L1110.57,202.65 L1112.2,202.65 L1112.2,201.88 L1113.79,201.88 L1113.79,201.71 L1115.42,201.71 L1115.42,204.47 L1116.41,204.47 L1116.41,201.3 L1117.59,201.3 L1117.59,201.49 L1118.81,201.49 L1118.81,204.72 L1120.17,204.72 L1120.17,205.04 L1121.63,205.04 L1121.63,202.03 L1122.7,202.03 L1122.7,208.4 Z" fill="#d2242b" />
<path d="M1069.55,208.7 L1069.55,202.4 L1071.45,202.4 L1071.45,208.7 Z M1073.55,208.7 L1073.55,200.4 L1075.45,200.4 L1075.45,208.7 Z M1076.05,208.7 L1076.05,198.4 L1077.95,198.4 L1077.95,208.7 Z M1079.05,208.7 L1079.05,201.4 L1080.95,201.4 L1080.95,208.7 Z M1086.45,208.7 L1086.45,190.1 L1088.35,190.1 L1088.35,208.7 Z M1088.55,208.7 L1088.55,192.4 L1090.45,192.4 L1090.45,208.7 Z M1090.55,208.7 L1090.55,189 L1092.45,189 L1092.45,208.7 Z M1093.05,208.7 L1093.05,196.4 L1094.95,196.4 L1094.95,208.7 Z M1095.65,208.7 L1095.65,194.4 L1097.55,194.4 L1097.55,208.7 Z M1097.55,208.7 L1097.55,198.4 L1099.45,198.4 L1099.45,208.7 Z M1099.75,208.7 L1099.75,181.9 L1101.65,181.9 L1101.65,208.7 Z M1102.05,208.7 L1102.05,196.4 L1103.95,196.4 L1103.95,208.7 Z M1105.05,208.7 L1105.05,200.4 L1106.95,200.4 L1106.95,208.7 Z M1108.05,208.7 L1108.05,201.4 L1109.95,201.4 L1109.95,208.7 Z M1112.05,208.7 L1112.05,197.4 L1113.95,197.4 L1113.95,208.7 Z M1115.05,208.7 L1115.05,202.4 L1116.95,202.4 L1116.95,208.7 Z" fill="#d2242b"/>
<path d="M1172.5,208.4 L1172.5,206.01 L1173.53,206.01 L1173.53,205.56 L1174.51,205.56 L1174.51,204.61 L1175.9,204.61 L1175.9,206.37 L1177.51,206.37 L1177.51,205.51 L1179.16,205.51 L1179.16,203.35 L1180.28,203.35 L1180.28,203.88 L1181.42,203.88 L1181.42,203.9 L1182.54,203.9 L1182.54,205.73 L1184.12,205.73 L1184.12,205.52 L1185.55,205.52 L1185.55,205.13 L1187.19,205.13 L1187.19,205.33 L1188.39,205.33 L1188.39,204.55 L1189.57,204.55 L1189.57,204.39 L1190.99,204.39 L1190.99,204.46 L1191.99,204.46 L1191.99,200.27 L1192.96,200.27 L1192.96,203.28 L1194.53,203.28 L1194.53,201.76 L1195.59,201.76 L1195.59,198.41 L1196.82,198.41 L1196.82,196.55 L1198.17,196.55 L1198.17,196.21 L1199.84,196.21 L1199.84,197.26 L1200.77,197.26 L1200.77,199.45 L1202.16,199.45 L1202.16,200.35 L1203.15,200.35 L1203.15,202.37 L1204.71,202.37 L1204.71,199.33 L1206.25,199.33 L1206.25,197.01 L1207.48,197.01 L1207.48,201.17 L1208.85,201.17 L1208.85,200.1 L1210.44,200.1 L1210.44,200.25 L1211.61,200.25 L1211.61,203.82 L1212.72,203.82 L1212.72,203.07 L1214.2,203.07 L1214.2,205.24 L1215.7,205.24 L1215.7,203.84 L1216.5,203.84 L1216.5,208.4 Z" fill="#56a772" />
<path d="M1175.05,208.7 L1175.05,202.4 L1176.95,202.4 L1176.95,208.7 Z M1185.05,208.7 L1185.05,202.4 L1186.95,202.4 L1186.95,208.7 Z M1189.05,208.7 L1189.05,199.4 L1190.95,199.4 L1190.95,208.7 Z M1192.35,208.7 L1192.35,194.2 L1194.25,194.2 L1194.25,208.7 Z M1195.05,208.7 L1195.05,192.4 L1196.95,192.4 L1196.95,208.7 Z M1197.45,208.7 L1197.45,185 L1199.35,185 L1199.35,208.7 Z M1199.55,208.7 L1199.55,182.4 L1201.45,182.4 L1201.45,208.7 Z M1201.55,208.7 L1201.55,171.6 L1203.45,171.6 L1203.45,208.7 Z M1203.05,208.7 L1203.05,178.4 L1204.95,178.4 L1204.95,208.7 Z M1204.65,208.7 L1204.65,172.6 L1206.55,172.6 L1206.55,208.7 Z M1206.25,208.7 L1206.25,180.4 L1208.15,180.4 L1208.15,208.7 Z M1207.75,208.7 L1207.75,173.6 L1209.65,173.6 L1209.65,208.7 Z M1209.75,208.7 L1209.75,187 L1211.65,187 L1211.65,208.7 Z M1212.05,208.7 L1212.05,196.4 L1213.95,196.4 L1213.95,208.7 Z M1214.95,208.7 L1214.95,199.4 L1216.85,199.4 L1216.85,208.7 Z" fill="#56a772"/>
<path d="M1282.93,208.4 L1282.93,205.7 L1284.13,205.7 L1284.13,205.61 L1285.33,205.61 L1285.33,205.91 L1286.53,205.91 L1286.53,205.91 L1287.73,205.91 L1287.73,204.65 L1288.93,204.65 L1288.93,204.19 L1290.13,204.19 L1290.13,204.37 L1291.33,204.37 L1291.33,202.82 L1292.53,202.82 L1292.53,203.16 L1293.73,203.16 L1293.73,202.94 L1294.93,202.94 L1294.93,201.67 L1296.13,201.67 L1296.13,200.77 L1297.33,200.77 L1297.33,201.17 L1298.53,201.17 L1298.53,199.86 L1299.73,199.86 L1299.73,202.42 L1300.93,202.42 L1300.93,200.63 L1302.13,200.63 L1302.13,200.88 L1303.33,200.88 L1303.33,201.78 L1304.53,201.78 L1304.53,198.37 L1305.73,198.37 L1305.73,201.05 L1306.93,201.05 L1306.93,200.7 L1308.13,200.7 L1308.13,198.02 L1309.33,198.02 L1309.33,197.67 L1310.53,197.67 L1310.53,197.76 L1311.73,197.76 L1311.73,200.12 L1312.93,200.12 L1312.93,197.82 L1314.13,197.82 L1314.13,200.96 L1315.33,200.96 L1315.33,198.73 L1316.53,198.73 L1316.53,197.8 L1317.73,197.8 L1317.73,200.75 L1318.93,200.75 L1318.93,200.96 L1320.13,200.96 L1320.13,198.9 L1321.33,198.9 L1321.33,198.29 L1322.53,198.29 L1322.53,199.08 L1323.73,199.08 L1323.73,198.45 L1324.93,198.45 L1324.93,200.81 L1326.13,200.81 L1326.13,201.69 L1327.33,201.69 L1327.33,203.02 L1328.53,203.02 L1328.53,203.11 L1329.73,203.11 L1329.73,201.77 L1330.93,201.77 L1330.93,204.18 L1332.13,204.18 L1332.13,204.2 L1333.33,204.2 L1333.33,204.25 L1334.53,204.25 L1334.53,205.28 L1335.73,205.28 L1335.73,205.34 L1336.93,205.34 L1336.93,206 L1338.13,206 L1338.13,206.19 L1338.47,206.19 L1338.47,208.4 Z" fill="#5488a8" />
<path d="M1285.74,208.7 L1285.74,204.69 L1287.04,204.69 L1287.04,208.7 Z M1290.16,208.7 L1290.16,202.55 L1291.46,202.55 L1291.46,208.7 Z M1294.58,208.7 L1294.58,198.72 L1295.88,198.72 L1295.88,208.7 Z M1299,208.7 L1299,194.28 L1300.3,194.28 L1300.3,208.7 Z M1303.42,208.7 L1303.42,195.62 L1304.72,195.62 L1304.72,208.7 Z M1307.84,208.7 L1307.84,189.32 L1309.14,189.32 L1309.14,208.7 Z M1312.26,208.7 L1312.26,199.08 L1313.56,199.08 L1313.56,208.7 Z M1316.68,208.7 L1316.68,197.5 L1317.98,197.5 L1317.98,208.7 Z M1321.1,208.7 L1321.1,199.72 L1322.4,199.72 L1322.4,208.7 Z M1325.52,208.7 L1325.52,200.43 L1326.82,200.43 L1326.82,208.7 Z M1329.94,208.7 L1329.94,199.4 L1331.24,199.4 L1331.24,208.7 Z M1334.36,208.7 L1334.36,202.75 L1335.66,202.75 L1335.66,208.7 Z" fill="#5488a8"/>
<path d="M1282.93,208.7 L1282.93,172.1 L1285.43,172.1 L1285.43,208.7 Z M1287.35,208.7 L1287.35,151.7 L1289.85,151.7 L1289.85,208.7 Z M1291.77,208.7 L1291.77,116.6 L1294.27,116.6 L1294.27,208.7 Z M1296.19,208.7 L1296.19,91.7 L1298.69,91.7 L1298.69,208.7 Z M1300.61,208.7 L1300.61,83.3 L1303.11,83.3 L1303.11,208.7 Z M1305.03,208.7 L1305.03,67.9 L1307.53,67.9 L1307.53,208.7 Z M1309.45,208.7 L1309.45,66.7 L1311.95,66.7 L1311.95,208.7 Z M1313.87,208.7 L1313.87,68.3 L1316.37,68.3 L1316.37,208.7 Z M1318.29,208.7 L1318.29,67.3 L1320.79,67.3 L1320.79,208.7 Z M1322.71,208.7 L1322.71,77.2 L1325.21,77.2 L1325.21,208.7 Z M1327.13,208.7 L1327.13,114.4 L1329.63,114.4 L1329.63,208.7 Z M1331.55,208.7 L1331.55,133.9 L1334.05,133.9 L1334.05,208.7 Z M1335.97,208.7 L1335.97,166.2 L1338.47,166.2 L1338.47,208.7 Z" fill="#5488a8"/>
<path d="M1603.65,208.7 L1603.65,204.4 L1605.35,204.4 L1605.35,208.7 Z M1606.15,208.7 L1606.15,201.4 L1607.85,201.4 L1607.85,208.7 Z M1609.15,208.7 L1609.15,198.4 L1610.85,198.4 L1610.85,208.7 Z M1612.65,208.7 L1612.65,196.4 L1614.35,196.4 L1614.35,208.7 Z M1615.35,208.7 L1615.35,161.4 L1617.05,161.4 L1617.05,208.7 Z M1618.15,208.7 L1618.15,142.4 L1619.85,142.4 L1619.85,208.7 Z M1620.75,208.7 L1620.75,126.4 L1622.45,126.4 L1622.45,208.7 Z M1622.75,208.7 L1622.75,118.4 L1624.45,118.4 L1624.45,208.7 Z M1624.75,208.7 L1624.75,106.4 L1626.45,106.4 L1626.45,208.7 Z M1626.75,208.7 L1626.75,100.4 L1628.45,100.4 L1628.45,208.7 Z M1628.85,208.7 L1628.85,96.9 L1630.55,96.9 L1630.55,208.7 Z M1630.85,208.7 L1630.85,108.4 L1632.55,108.4 L1632.55,208.7 Z M1632.85,208.7 L1632.85,102.4 L1634.55,102.4 L1634.55,208.7 Z M1634.95,208.7 L1634.95,96.4 L1636.65,96.4 L1636.65,208.7 Z M1636.95,208.7 L1636.95,91.4 L1638.65,91.4 L1638.65,208.7 Z M1638.95,208.7 L1638.95,95.4 L1640.65,95.4 L1640.65,208.7 Z M1640.95,208.7 L1640.95,94.4 L1642.65,94.4 L1642.65,208.7 Z M1642.35,208.7 L1642.35,108.4 L1644.05,108.4 L1644.05,208.7 Z M1643.65,208.7 L1643.65,122.4 L1645.35,122.4 L1645.35,208.7 Z M1645.65,208.7 L1645.65,128.4 L1647.35,128.4 L1647.35,208.7 Z M1647.65,208.7 L1647.65,131.9 L1649.35,131.9 L1649.35,208.7 Z M1649.65,208.7 L1649.65,138.4 L1651.35,138.4 L1651.35,208.7 Z M1651.75,208.7 L1651.75,146.4 L1653.45,146.4 L1653.45,208.7 Z M1653.75,208.7 L1653.75,158.4 L1655.45,158.4 L1655.45,208.7 Z M1655.75,208.7 L1655.75,172.4 L1657.45,172.4 L1657.45,208.7 Z M1658.45,208.7 L1658.45,188.4 L1660.15,188.4 L1660.15,208.7 Z M1660.15,208.7 L1660.15,202.4 L1661.85,202.4 L1661.85,208.7 Z" fill="#cbaac9"/>
<path d="M1604,208.4 L1604,205.4 L1612,205.4 L1612,200.4 L1620,200.4 L1620,194.4 L1630,194.4 L1630,190.4 L1640,190.4 L1640,192.4 L1650,192.4 L1650,196.4 L1656,196.4 L1656,202.4 L1661.5,202.4 L1661.5,208.4 Z" fill="#cbaac9" />
<line x1="1098.1" y1="42" x2="1098.1" y2="208.5" stroke="#878787" stroke-width="2.7" stroke-dasharray="5.4,4.1"/>
<line x1="1204.9" y1="42" x2="1204.9" y2="208.5" stroke="#878787" stroke-width="2.7" stroke-dasharray="5.4,4.1"/>
<line x1="1310" y1="42" x2="1310" y2="208.5" stroke="#878787" stroke-width="2.7" stroke-dasharray="5.4,4.1"/>
<line x1="1641" y1="42" x2="1641" y2="208.5" stroke="#878787" stroke-width="2.7" stroke-dasharray="5.4,4.1"/>
<rect x="1017.1" y="40.8" width="705.4" height="169" fill="none" stroke="#000" stroke-width="3" />
<line x1="1017.1" y1="91.2" x2="1022.5" y2="91.2" stroke="#000" stroke-width="2.6" />
<line x1="1722.5" y1="91.2" x2="1717.1" y2="91.2" stroke="#000" stroke-width="2.6" />
<line x1="1017.1" y1="140.7" x2="1022.5" y2="140.7" stroke="#000" stroke-width="2.6" />
<line x1="1722.5" y1="140.7" x2="1717.1" y2="140.7" stroke="#000" stroke-width="2.6" />
<line x1="1017.1" y1="190.3" x2="1022.5" y2="190.3" stroke="#000" stroke-width="2.6" />
<line x1="1722.5" y1="190.3" x2="1717.1" y2="190.3" stroke="#000" stroke-width="2.6" />
<line x1="1147.4" y1="40.8" x2="1147.4" y2="45.8" stroke="#000" stroke-width="2.6" />
<line x1="1147.4" y1="209.8" x2="1147.4" y2="204.8" stroke="#000" stroke-width="2.6" />
<line x1="1339.7" y1="40.8" x2="1339.7" y2="45.8" stroke="#000" stroke-width="2.6" />
<line x1="1339.7" y1="209.8" x2="1339.7" y2="204.8" stroke="#000" stroke-width="2.6" />
<line x1="1549.8" y1="40.8" x2="1549.8" y2="45.8" stroke="#000" stroke-width="2.6" />
<line x1="1549.8" y1="209.8" x2="1549.8" y2="204.8" stroke="#000" stroke-width="2.6" />
<rect x="1421" y="206" width="17" height="7" fill="#fff"/>
<path d="M1419.5,226 C1424.5,229 1423.5,222 1423.5,211 S1423.5,194 1428,197" fill="none" stroke="#000" stroke-width="2.6" stroke-linecap="round"/>
<path d="M1432,226 C1437,229 1436,222 1436,211 S1436,194 1440.5,197" fill="none" stroke="#000" stroke-width="2.6" stroke-linecap="round"/>
<text x="1012.3" y="49.2" font-size="25.8" text-anchor="end" textLength="13.1" lengthAdjust="spacingAndGlyphs">0</text>
<text x="1012.3" y="99.4" font-size="25.8" text-anchor="end" textLength="37.5" lengthAdjust="spacingAndGlyphs">-20</text>
<text x="1012.3" y="148.9" font-size="25.8" text-anchor="end" textLength="37.5" lengthAdjust="spacingAndGlyphs">-40</text>
<text x="1012.3" y="198" font-size="25.8" text-anchor="end" textLength="37.5" lengthAdjust="spacingAndGlyphs">-60</text>
<text x="1151.5" y="240" font-size="25.8" text-anchor="middle" textLength="84" lengthAdjust="spacingAndGlyphs">1536.8</text>
<text x="1343" y="239.4" font-size="25.8" text-anchor="middle" textLength="84" lengthAdjust="spacingAndGlyphs">1537.2</text>
<text x="1552.5" y="239.4" font-size="25.8" text-anchor="middle" textLength="84" lengthAdjust="spacingAndGlyphs">1547.4</text>
<text x="1321.7" y="273" font-size="26.3" textLength="211" lengthAdjust="spacingAndGlyphs">Wavelength [nm]</text>
<text x="951.4" y="194.6" font-size="27.8" font-style="italic" textLength="16.8" lengthAdjust="spacingAndGlyphs" transform="rotate(-90 951.4 194.6)">P</text>
<text x="959.9" y="177.3" font-size="16.5" textLength="48" lengthAdjust="spacingAndGlyphs" transform="rotate(-90 959.9 177.3)">Optical</text>
<text x="951.4" y="118.5" font-size="27.8" textLength="70.7" lengthAdjust="spacingAndGlyphs" transform="rotate(-90 951.4 118.5)">[dBm]</text>
<text x="1103.1" y="106.5" font-size="26" fill="#4d4d4d" font-style="italic">λ</text>
<text x="1116.7" y="106.5" font-size="26" fill="#4d4d4d">1</text>
<text x="1212.2" y="104.5" font-size="26" fill="#4d4d4d" font-style="italic">λ</text>
<text x="1226.4" y="104.5" font-size="26" fill="#4d4d4d">2</text>
<text x="1273.2" y="69.7" font-size="26" fill="#4d4d4d" font-style="italic">λ</text>
<text x="1286.8" y="69.7" font-size="26" fill="#4d4d4d">3</text>
<text x="1647" y="82.8" font-size="26" fill="#777" font-style="italic">λ</text>
<text x="1661" y="82.8" font-size="26" fill="#777">4</text>
<line x1="1311" y1="85.5" x2="1459" y2="85.5" stroke="#000" stroke-width="2.8" />
<line x1="1481" y1="85.5" x2="1639.5" y2="85.5" stroke="#000" stroke-width="2.8" />
<polyline points="1321.9,76.8 1310.4,85.5 1321.9,94.2" fill="none" stroke="#000" stroke-width="2.8" stroke-linecap="round" stroke-linejoin="miter"/>
<polyline points="1628.9,94.2 1640.4,85.5 1628.9,76.8" fill="none" stroke="#000" stroke-width="2.8" stroke-linecap="round" stroke-linejoin="miter"/>
<path d="M1459,96 C1463.5,98.5 1462.5,92 1462.5,85.5 S1462.5,73 1466.3,75" fill="none" stroke="#000" stroke-width="2.6" stroke-linecap="round"/>
<path d="M1474,96 C1478.5,98.5 1477.5,92 1477.5,85.5 S1477.5,73 1481.3,75" fill="none" stroke="#000" stroke-width="2.6" stroke-linecap="round"/>
<text x="1487" y="77.5" font-size="24.5" textLength="89" lengthAdjust="spacingAndGlyphs">1.3 THz</text>
</g>
<g id="pc">
<text x="947.8" y="285.5" font-size="27.5" textLength="30" lengthAdjust="spacingAndGlyphs">(c)</text>
<clipPath id="cc"><rect x="1022.5" y="319.4" width="305.3" height="245.1"/></clipPath>
<g clip-path="url(#cc)" stroke-linejoin="round">
<polyline points="1053.2,570.3 1055.25,494.19 1057.59,420.42 1063.44,423.06 1072.22,422.76 1081.01,422.47 1088.33,419.54 1095.64,421.59 1104.43,421.01 1113.21,419.54 1121.99,419.84 1129.31,419.54 1136.63,421.01 1143.95,422.47 1151.26,418.08 1157.12,418.08 1165.9,422.47 1171.76,421.01 1179.07,418.08 1186.39,422.47 1192.25,435.64 1198.1,459.06 1202.49,482.48 1205.71,570.3" fill="none" stroke="#e9a2dc" stroke-width="3" />
<polyline points="1022.46,419.54 1031.24,419.54 1037.1,418.96 1042.95,419.84 1050.27,419.54 1054.66,441.5 1057.59,464.92 1059.93,494.19 1062.27,570.3" fill="none" stroke="#e03222" stroke-width="3" />
<polyline points="1304.07,570.3 1306.42,494.19 1309.34,421.01 1313.74,422.47 1318.13,421.59 1326.91,421.01" fill="none" stroke="#e03222" stroke-width="3" />
<polyline points="1176.73,570.3 1179.07,508.83 1180.54,485.41 1184.93,464.92 1190.78,441.5 1195.18,422.47 1201.03,418.08 1209.81,417.49 1215.67,418.08 1222.99,419.54 1230.3,418.08 1239.09,417.2 1247.87,416.62 1253.72,417.2 1259.58,415.74 1265.43,418.08 1271.29,417.2 1278.61,418.08 1288.85,418.96 1296.17,417.2 1300.56,418.08 1302.9,418.96 1304.95,494.19 1307.3,570.3" fill="none" stroke="#128a45" stroke-width="3" />
<polyline points="1022.46,409.3 1028.31,409.88 1035.63,406.37 1042.95,405.78 1050.27,407.83 1057.59,402.86 1064.91,404.03 1072.22,404.91 1079.54,403.44 1086.86,404.61 1094.18,405.49 1110.28,405.49 1124.92,406.37 1133.7,406.96 1143.95,407.83 1151.26,405.49 1158.58,406.37 1165.9,404.03 1171.76,406.37 1179.07,405.78 1187.86,405.49 1195.18,404.03 1202.49,406.37 1209.81,407.83 1224.45,407.83 1236.16,408.71 1244.94,408.42 1256.65,409.3 1271.29,407.83 1283,406.96 1294.71,406.37 1303.49,407.83 1312.27,407.25 1326.91,407.25" fill="none" stroke="#3571b3" stroke-width="3" />
</g>
<rect x="1022.5" y="319.4" width="305.3" height="245.1" fill="none" stroke="#000" stroke-width="3" />
<line x1="1022.5" y1="380.6" x2="1027.5" y2="380.6" stroke="#000" stroke-width="2.6" />
<line x1="1327.8" y1="380.6" x2="1322.8" y2="380.6" stroke="#000" stroke-width="2.6" />
<line x1="1022.5" y1="442" x2="1027.5" y2="442" stroke="#000" stroke-width="2.6" />
<line x1="1327.8" y1="442" x2="1322.8" y2="442" stroke="#000" stroke-width="2.6" />
<line x1="1022.5" y1="503" x2="1027.5" y2="503" stroke="#000" stroke-width="2.6" />
<line x1="1327.8" y1="503" x2="1322.8" y2="503" stroke="#000" stroke-width="2.6" />
<line x1="1094.5" y1="564.5" x2="1094.5" y2="559.5" stroke="#000" stroke-width="2.6" />
<line x1="1094.5" y1="319.4" x2="1094.5" y2="324.4" stroke="#000" stroke-width="2.6" />
<line x1="1165.9" y1="564.5" x2="1165.9" y2="559.5" stroke="#000" stroke-width="2.6" />
<line x1="1165.9" y1="319.4" x2="1165.9" y2="324.4" stroke="#000" stroke-width="2.6" />
<line x1="1237.6" y1="564.5" x2="1237.6" y2="559.5" stroke="#000" stroke-width="2.6" />
<line x1="1237.6" y1="319.4" x2="1237.6" y2="324.4" stroke="#000" stroke-width="2.6" />
<line x1="1309.3" y1="564.5" x2="1309.3" y2="559.5" stroke="#000" stroke-width="2.6" />
<line x1="1309.3" y1="319.4" x2="1309.3" y2="324.4" stroke="#000" stroke-width="2.6" />
<text x="1009.6" y="327.3" font-size="26" text-anchor="end" textLength="27.8" lengthAdjust="spacingAndGlyphs">20</text>
<text x="1009.6" y="388.6" font-size="26" text-anchor="end" textLength="14.2" lengthAdjust="spacingAndGlyphs">0</text>
<text x="1009.6" y="450" font-size="26" text-anchor="end" textLength="36.6" lengthAdjust="spacingAndGlyphs">-20</text>
<text x="1009.6" y="511" font-size="26" text-anchor="end" textLength="36.6" lengthAdjust="spacingAndGlyphs">-40</text>
<text x="1009.6" y="572.5" font-size="26" text-anchor="end" textLength="36.6" lengthAdjust="spacingAndGlyphs">-60</text>
<text x="1022.5" y="591.5" font-size="26" text-anchor="middle" textLength="14.2" lengthAdjust="spacingAndGlyphs">0</text>
<text x="1094.5" y="591.5" font-size="26" text-anchor="middle" textLength="14.2" lengthAdjust="spacingAndGlyphs">2</text>
<text x="1165.9" y="591.5" font-size="26" text-anchor="middle" textLength="14.2" lengthAdjust="spacingAndGlyphs">4</text>
<text x="1237.6" y="591.5" font-size="26" text-anchor="middle" textLength="14.2" lengthAdjust="spacingAndGlyphs">6</text>
<text x="1309.3" y="591.5" font-size="26" text-anchor="middle" textLength="14.2" lengthAdjust="spacingAndGlyphs">8</text>
<text x="1122" y="621.5" font-size="26.5" font-style="italic" textLength="16.5" lengthAdjust="spacingAndGlyphs">V</text>
<text x="1138.5" y="629.5" font-size="16.5" textLength="42" lengthAdjust="spacingAndGlyphs">EOPM</text>
<text x="1190.8" y="621.5" font-size="26.5" textLength="30.7" lengthAdjust="spacingAndGlyphs">[V]</text>
<text x="950.8" y="513.4" font-size="27.8" font-style="italic" textLength="16.8" lengthAdjust="spacingAndGlyphs" transform="rotate(-90 950.8 513.4)">P</text>
<text x="960.3" y="496.2" font-size="16.5" textLength="43.5" lengthAdjust="spacingAndGlyphs" transform="rotate(-90 960.3 496.2)">Optical</text>
<text x="950.8" y="442.7" font-size="27.8" textLength="72" lengthAdjust="spacingAndGlyphs" transform="rotate(-90 950.8 442.7)">[dBm]</text>
<text x="1171.7" y="389.7" font-size="26" fill="#3571b3" font-style="italic">λ</text>
<text x="1185.9" y="389.7" font-size="26" fill="#3571b3">3</text>
<text x="1107" y="448.8" font-size="26" fill="#e38fd4" font-style="italic">λ</text>
<text x="1121.2" y="448.8" font-size="26" fill="#e38fd4">4</text>
<text x="1231.8" y="445" font-size="26" fill="#128a45" font-style="italic">λ</text>
<text x="1246" y="445" font-size="26" fill="#128a45">2</text>
<text x="1024.8" y="466.4" font-size="26" fill="#e03222" font-style="italic">λ</text>
<text x="1038.3" y="466.4" font-size="26" fill="#e03222">1</text>
</g>
<g id="pe">
<text x="1696.4" y="277.2" font-size="27.5" textLength="31.5" lengthAdjust="spacingAndGlyphs">(e)</text>
<path d="M1435.7,471.5 L1435.7,466.42 L1437.71,466.42 L1437.71,466.51 L1439,466.51 L1439,463.32 L1440.27,463.32 L1440.27,467.57 L1441.78,467.57 L1441.78,467.2 L1443.34,467.2 L1443.34,463.04 L1444.93,463.04 L1444.93,463.39 L1446.66,463.39 L1446.66,463.93 L1448.59,463.93 L1448.59,467.35 L1450.53,467.35 L1450.53,466.5 L1452.35,466.5 L1452.35,465.55 L1453.83,465.55 L1453.83,467.16 L1455.43,467.16 L1455.43,466 L1457.38,466 L1457.38,467.59 L1459.17,467.59 L1459.17,466.35 L1460.97,466.35 L1460.97,466.83 L1462.75,466.83 L1462.75,466.81 L1464.43,466.81 L1464.43,467.45 L1466.19,467.45 L1466.19,466.49 L1468.08,466.49 L1468.08,466.75 L1469.99,466.75 L1469.99,466.97 L1471.77,466.97 L1471.77,466.16 L1473.4,466.16 L1473.4,467.79 L1474.98,467.79 L1474.98,466.77 L1476.26,466.77 L1476.26,466.56 L1477.79,466.56 L1477.79,466.81 L1479.6,466.81 L1479.6,464.62 L1480.93,464.62 L1480.93,467.06 L1482.5,467.06 L1482.5,465.89 L1483.8,465.89 L1483.8,465.77 L1485.5,465.77 L1485.5,465.31 L1487.01,465.31 L1487.01,468.16 L1488.93,468.16 L1488.93,465.02 L1490.57,465.02 L1490.57,467.78 L1492.48,467.78 L1492.48,467.49 L1493.95,467.49 L1493.95,467.81 L1495.99,467.81 L1495.99,465.92 L1497.97,465.92 L1497.97,463.63 L1499.23,463.63 L1499.23,466.39 L1500.76,466.39 L1500.76,462.86 L1502.8,462.86 L1502.8,465.74 L1504.87,465.74 L1504.87,466.68 L1506.93,466.68 L1506.93,464.09 L1508.65,464.09 L1508.65,463.74 L1509.78,463.74 L1509.78,463.98 L1511.14,463.98 L1511.14,464.71 L1512.84,464.71 L1512.84,468.03 L1514.67,468.03 L1514.67,468.53 L1516.31,468.53 L1516.31,465.61 L1517.77,465.61 L1517.77,467.37 L1519.13,467.37 L1519.13,467.76 L1520.78,467.76 L1520.78,468.44 L1522.45,468.44 L1522.45,467.04 L1524.45,467.04 L1524.45,466.89 L1525.75,466.89 L1525.75,466.76 L1527.68,466.76 L1527.68,465.95 L1529.55,465.95 L1529.55,463.84 L1531.14,463.84 L1531.14,464.21 L1532.33,464.21 L1532.33,467.77 L1534.09,467.77 L1534.09,468.3 L1536.17,468.3 L1536.17,464.51 L1537.91,464.51 L1537.91,466.55 L1539.31,466.55 L1539.31,464.5 L1540.58,464.5 L1540.58,465.13 L1541.77,465.13 L1541.77,467.93 L1543.73,467.93 L1543.73,467.76 L1545.43,467.76 L1545.43,467.19 L1546.6,467.19 L1546.6,464.54 L1548.6,464.54 L1548.6,467.43 L1550.25,467.43 L1550.25,468.04 L1551.5,468.04 L1551.5,468.07 L1552.79,468.07 L1552.79,467.16 L1554.55,467.16 L1554.55,464.61 L1556.51,464.61 L1556.51,467.06 L1557.66,467.06 L1557.66,464.66 L1559.43,464.66 L1559.43,463.14 L1561.34,463.14 L1561.34,467.48 L1562.69,467.48 L1562.69,467.03 L1564.18,467.03 L1564.18,467.36 L1566.07,467.36 L1566.07,466.64 L1567.76,466.64 L1567.76,466.28 L1568.97,466.28 L1568.97,464.25 L1570.55,464.25 L1570.55,463.96 L1572.27,463.96 L1572.27,467.32 L1573.54,467.32 L1573.54,467.97 L1575.5,467.97 L1575.5,465.35 L1576.9,465.35 L1576.9,468.07 L1578.9,468.07 L1578.9,467.95 L1580.67,467.95 L1580.67,467.67 L1582.43,467.67 L1582.43,467.84 L1583.71,467.84 L1583.71,465.44 L1585.21,465.44 L1585.21,466.81 L1586.78,466.81 L1586.78,468.12 L1588.06,468.12 L1588.06,468.3 L1589.8,468.3 L1589.8,468.1 L1590.98,468.1 L1590.98,467.54 L1592.63,467.54 L1592.63,467.05 L1593.84,467.05 L1593.84,468.38 L1595.85,468.38 L1595.85,465.67 L1597.03,465.67 L1597.03,467.84 L1598.2,467.84 L1598.2,468.18 L1599.81,468.18 L1599.81,467.25 L1601.23,467.25 L1601.23,467.55 L1602.92,467.55 L1602.92,464.42 L1604.51,464.42 L1604.51,466.56 L1606.33,466.56 L1606.33,466.27 L1608.24,466.27 L1608.24,465.16 L1610.1,465.16 L1610.1,466.86 L1611.3,466.86 L1611.3,464.84 L1612.66,464.84 L1612.66,467.91 L1613.97,467.91 L1613.97,467.31 L1615.49,467.31 L1615.49,467.15 L1617.47,467.15 L1617.47,466.27 L1619.02,466.27 L1619.02,465.66 L1620.84,465.66 L1620.84,462.63 L1622.08,462.63 L1622.08,463.88 L1623.48,463.88 L1623.48,467.57 L1624.62,467.57 L1624.62,464.03 L1626.65,464.03 L1626.65,464.35 L1628.09,464.35 L1628.09,468.18 L1629.91,468.18 L1629.91,468.36 L1631.71,468.36 L1631.71,468.03 L1632.94,468.03 L1632.94,468.24 L1634.48,468.24 L1634.48,467.95 L1636.11,467.95 L1636.11,466.92 L1638.01,466.92 L1638.01,464.35 L1639.69,464.35 L1639.69,467.4 L1641.01,467.4 L1641.01,464.79 L1642.85,464.79 L1642.85,467.99 L1644.92,467.99 L1644.92,467.29 L1646.42,467.29 L1646.42,468.5 L1647.58,468.5 L1647.58,465.56 L1648.89,465.56 L1648.89,467.41 L1650.84,467.41 L1650.84,467.5 L1651.97,467.5 L1651.97,467.66 L1653.46,467.66 L1653.46,465.62 L1655.04,465.62 L1655.04,467.34 L1656.94,467.34 L1656.94,466.97 L1658.58,466.97 L1658.58,467.17 L1660.35,467.17 L1660.35,465.9 L1661.81,465.9 L1661.81,467.37 L1663.23,467.37 L1663.23,464.29 L1665.07,464.29 L1665.07,466.43 L1666.85,466.43 L1666.85,465.71 L1668.17,465.71 L1668.17,466.34 L1670.23,466.34 L1670.23,466.45 L1671.72,466.45 L1671.72,467.43 L1673.71,467.43 L1673.71,466.91 L1675.49,466.91 L1675.49,467.25 L1677.47,467.25 L1677.47,467.89 L1679.18,467.89 L1679.18,464.5 L1680.52,464.5 L1680.52,467.98 L1682.48,467.98 L1682.48,466.65 L1684.11,466.65 L1684.11,466.41 L1685.81,466.41 L1685.81,465.55 L1687.47,465.55 L1687.47,465.66 L1689.21,465.66 L1689.21,467.47 L1690.8,467.47 L1690.8,467.27 L1692.73,467.27 L1692.73,467.28 L1694.52,467.28 L1694.52,466.49 L1695.83,466.49 L1695.83,464.6 L1697.05,464.6 L1697.05,466.13 L1698.94,466.13 L1698.94,466.2 L1700.66,466.2 L1700.66,464.78 L1701.98,464.78 L1701.98,467.45 L1703.81,467.45 L1703.81,468.33 L1705.29,468.33 L1705.29,468.47 L1706.8,468.47 L1706.8,471.5 Z" fill="#cbaac9" />
<path d="M1444,471.8 L1444,456.42 L1447,456.42 L1447,471.8 Z M1446.2,471.8 L1446.2,461.75 L1449.2,461.75 L1449.2,471.8 Z M1448.22,471.8 L1448.22,456.6 L1451.22,456.6 L1451.22,471.8 Z M1461.34,471.8 L1461.34,459.8 L1464.34,459.8 L1464.34,471.8 Z M1464.11,471.8 L1464.11,460.6 L1467.11,460.6 L1467.11,471.8 Z M1466.31,471.8 L1466.31,463.78 L1469.31,463.78 L1469.31,471.8 Z M1467.04,471.8 L1467.04,454.62 L1470.04,454.62 L1470.04,471.8 Z M1472.81,471.8 L1472.81,459.65 L1475.81,459.65 L1475.81,471.8 Z M1475.01,471.8 L1475.01,460.76 L1478.01,460.76 L1478.01,471.8 Z M1476.64,471.8 L1476.64,460.49 L1479.64,460.49 L1479.64,471.8 Z M1481,471.8 L1481,460.75 L1484,460.75 L1484,471.8 Z M1485.2,471.8 L1485.2,460.27 L1488.2,460.27 L1488.2,471.8 Z M1489.53,471.8 L1489.53,459.36 L1492.53,459.36 L1492.53,471.8 Z M1501.66,471.8 L1501.66,456.34 L1504.66,456.34 L1504.66,471.8 Z M1529.25,471.8 L1529.25,449.33 L1532.25,449.33 L1532.25,471.8 Z M1531.45,471.8 L1531.45,452.29 L1534.45,452.29 L1534.45,471.8 Z M1532.27,471.8 L1532.27,450.31 L1535.27,450.31 L1535.27,471.8 Z M1537.88,471.8 L1537.88,462.35 L1540.88,462.35 L1540.88,471.8 Z M1542.51,471.8 L1542.51,460.61 L1545.51,460.61 L1545.51,471.8 Z M1545.22,471.8 L1545.22,446.21 L1548.22,446.21 L1548.22,471.8 Z M1550.45,471.8 L1550.45,458.35 L1553.45,458.35 L1553.45,471.8 Z M1553.36,471.8 L1553.36,457.35 L1556.36,457.35 L1556.36,471.8 Z M1557.58,471.8 L1557.58,448.24 L1560.58,448.24 L1560.58,471.8 Z M1559.78,471.8 L1559.78,452.47 L1562.78,452.47 L1562.78,471.8 Z M1562.67,471.8 L1562.67,458.65 L1565.67,458.65 L1565.67,471.8 Z M1564.87,471.8 L1564.87,459.83 L1567.87,459.83 L1567.87,471.8 Z M1566.69,471.8 L1566.69,457.62 L1569.69,457.62 L1569.69,471.8 Z M1568.89,471.8 L1568.89,460.39 L1571.89,460.39 L1571.89,471.8 Z M1569.42,471.8 L1569.42,451.22 L1572.42,451.22 L1572.42,471.8 Z M1578.11,471.8 L1578.11,456.79 L1581.11,456.79 L1581.11,471.8 Z M1584.07,471.8 L1584.07,461.17 L1587.07,461.17 L1587.07,471.8 Z M1586.27,471.8 L1586.27,463.45 L1589.27,463.45 L1589.27,471.8 Z M1589.17,471.8 L1589.17,459.39 L1592.17,459.39 L1592.17,471.8 Z M1591.37,471.8 L1591.37,461.56 L1594.37,461.56 L1594.37,471.8 Z M1594.59,471.8 L1594.59,459.69 L1597.59,459.69 L1597.59,471.8 Z M1597.9,471.8 L1597.9,450.74 L1600.9,450.74 L1600.9,471.8 Z M1600.1,471.8 L1600.1,451.01 L1603.1,451.01 L1603.1,471.8 Z M1601.39,471.8 L1601.39,456.23 L1604.39,456.23 L1604.39,471.8 Z M1603.59,471.8 L1603.59,457.27 L1606.59,457.27 L1606.59,471.8 Z M1606.12,471.8 L1606.12,451.6 L1609.12,451.6 L1609.12,471.8 Z M1613.41,471.8 L1613.41,462.08 L1616.41,462.08 L1616.41,471.8 Z M1616.05,471.8 L1616.05,455.91 L1619.05,455.91 L1619.05,471.8 Z M1618.78,471.8 L1618.78,461.56 L1621.78,461.56 L1621.78,471.8 Z M1623.46,471.8 L1623.46,453.8 L1626.46,453.8 L1626.46,471.8 Z M1626.38,471.8 L1626.38,458.82 L1629.38,458.82 L1629.38,471.8 Z M1631.43,471.8 L1631.43,457.36 L1634.43,457.36 L1634.43,471.8 Z M1633.63,471.8 L1633.63,458.74 L1636.63,458.74 L1636.63,471.8 Z M1634.91,471.8 L1634.91,462.49 L1637.91,462.49 L1637.91,471.8 Z M1640.58,471.8 L1640.58,451.6 L1643.58,451.6 L1643.58,471.8 Z M1643.87,471.8 L1643.87,449.82 L1646.87,449.82 L1646.87,471.8 Z M1648.69,471.8 L1648.69,461.39 L1651.69,461.39 L1651.69,471.8 Z M1658.51,471.8 L1658.51,460.36 L1661.51,460.36 L1661.51,471.8 Z M1669.02,471.8 L1669.02,456.23 L1672.02,456.23 L1672.02,471.8 Z M1671.22,471.8 L1671.22,461.68 L1674.22,461.68 L1674.22,471.8 Z M1672.5,471.8 L1672.5,447.58 L1675.5,447.58 L1675.5,471.8 Z M1678.35,471.8 L1678.35,456.34 L1681.35,456.34 L1681.35,471.8 Z M1680.55,471.8 L1680.55,458.57 L1683.55,458.57 L1683.55,471.8 Z M1695.56,471.8 L1695.56,453.44 L1698.56,453.44 L1698.56,471.8 Z M1697.76,471.8 L1697.76,455.49 L1700.76,455.49 L1700.76,471.8 Z M1702.37,471.8 L1702.37,461.06 L1705.37,461.06 L1705.37,471.8 Z" fill="#cbaac9"/>
<path d="M1568.7,471.5 L1568.7,312.8" fill="none" stroke="#cbaac9" stroke-width="3.8" stroke-linecap="round"/>
<path d="M1565,471.8 L1565,444.41 L1567.6,444.41 L1567.6,471.8 Z M1569.8,471.8 L1569.8,452.25 L1572.4,452.25 L1572.4,471.8 Z M1562.9,471.8 L1562.9,457.5 L1565.5,457.5 L1565.5,471.8 Z M1572,471.8 L1572,459.5 L1574.6,459.5 L1574.6,471.8 Z" fill="#cbaac9"/>
<path d="M1450.6,502.6 L1450.6,498.52 L1452.42,498.52 L1452.42,498.89 L1454.31,498.89 L1454.31,499.28 L1456.19,499.28 L1456.19,498.13 L1457.82,498.13 L1457.82,496.47 L1459.76,496.47 L1459.76,498.77 L1461.25,498.77 L1461.25,495.89 L1463,495.89 L1463,497.95 L1464.54,497.95 L1464.54,498.33 L1466.23,498.33 L1466.23,497.18 L1467.41,497.18 L1467.41,498.1 L1468.58,498.1 L1468.58,498.55 L1470.14,498.55 L1470.14,497.6 L1471.76,497.6 L1471.76,498.77 L1473.48,498.77 L1473.48,497.77 L1475.42,497.77 L1475.42,496.1 L1476.73,496.1 L1476.73,499.6 L1478.21,499.6 L1478.21,497.33 L1479.61,497.33 L1479.61,498.55 L1481.65,498.55 L1481.65,498.28 L1483.16,498.28 L1483.16,498.98 L1484.71,498.98 L1484.71,498.48 L1486.49,498.48 L1486.49,498.5 L1488.37,498.5 L1488.37,499.07 L1490.34,499.07 L1490.34,498.62 L1491.77,498.62 L1491.77,499.31 L1493.08,499.31 L1493.08,498.75 L1494.29,498.75 L1494.29,498.48 L1495.68,498.48 L1495.68,496.08 L1496.81,496.08 L1496.81,498.24 L1498.24,498.24 L1498.24,496.07 L1499.42,496.07 L1499.42,497.96 L1501.31,497.96 L1501.31,498.33 L1502.95,498.33 L1502.95,499.01 L1504.86,499.01 L1504.86,495.71 L1506.49,495.71 L1506.49,499.06 L1507.7,499.06 L1507.7,497.96 L1509.64,497.96 L1509.64,497.3 L1510.88,497.3 L1510.88,494.27 L1512.61,494.27 L1512.61,498.42 L1514.16,498.42 L1514.16,494.71 L1515.93,494.71 L1515.93,496.14 L1517.94,496.14 L1517.94,496.52 L1519.14,496.52 L1519.14,496.1 L1520.36,496.1 L1520.36,497.89 L1521.91,497.89 L1521.91,495.83 L1523.29,495.83 L1523.29,497.08 L1524.89,497.08 L1524.89,496.75 L1526.64,496.75 L1526.64,497.32 L1527.89,497.32 L1527.89,497.83 L1529.36,497.83 L1529.36,497.68 L1530.91,497.68 L1530.91,495.83 L1532.9,495.83 L1532.9,495.08 L1534.65,495.08 L1534.65,499.07 L1536.09,499.07 L1536.09,497.97 L1538.02,497.97 L1538.02,498.26 L1539.59,498.26 L1539.59,498.84 L1541.56,498.84 L1541.56,498.71 L1543.58,498.71 L1543.58,498.56 L1544.83,498.56 L1544.83,497.82 L1546.22,497.82 L1546.22,498.82 L1547.72,498.82 L1547.72,498.64 L1549.43,498.64 L1549.43,496.56 L1551.18,496.56 L1551.18,499.27 L1552.79,499.27 L1552.79,498.39 L1554.23,498.39 L1554.23,496.13 L1555.83,496.13 L1555.83,499.14 L1557.17,499.14 L1557.17,497.76 L1558.72,497.76 L1558.72,496.35 L1560.14,496.35 L1560.14,496.31 L1561.97,496.31 L1561.97,497.46 L1563.34,497.46 L1563.34,496.01 L1565.15,496.01 L1565.15,495.11 L1567.09,495.11 L1567.09,497 L1568.74,497 L1568.74,497.82 L1569.9,497.82 L1569.9,498.22 L1571.09,498.22 L1571.09,498.41 L1572.68,498.41 L1572.68,497.48 L1574.11,497.48 L1574.11,498.43 L1576.05,498.43 L1576.05,495.95 L1577.73,495.95 L1577.73,495.41 L1579.05,495.41 L1579.05,497.48 L1580.87,497.48 L1580.87,498.46 L1582.56,498.46 L1582.56,497.67 L1584.52,497.67 L1584.52,498.03 L1585.82,498.03 L1585.82,498.33 L1587.65,498.33 L1587.65,498.5 L1589.57,498.5 L1589.57,498.51 L1591.32,498.51 L1591.32,495.35 L1593.06,495.35 L1593.06,498.76 L1594.37,498.76 L1594.37,498.98 L1595.97,498.98 L1595.97,496.48 L1597.47,496.48 L1597.47,496.61 L1599.19,496.61 L1599.19,496.51 L1600.74,496.51 L1600.74,498.8 L1602,498.8 L1602,497.81 L1603.63,497.81 L1603.63,497.35 L1604.8,497.35 L1604.8,497.81 L1606.57,497.81 L1606.57,497.96 L1608.34,497.96 L1608.34,496.48 L1610.13,496.48 L1610.13,498.04 L1611.31,498.04 L1611.31,495.04 L1613.13,495.04 L1613.13,498.2 L1614.67,498.2 L1614.67,498.67 L1616.48,498.67 L1616.48,495.66 L1618.11,495.66 L1618.11,497.8 L1619.7,497.8 L1619.7,498.05 L1621.59,498.05 L1621.59,495.38 L1623.62,495.38 L1623.62,497.2 L1625.25,497.2 L1625.25,497.25 L1627.06,497.25 L1627.06,496.66 L1628.81,496.66 L1628.81,494.11 L1630.41,494.11 L1630.41,494.29 L1631.81,494.29 L1631.81,494.8 L1633.79,494.8 L1633.79,498.1 L1635.26,498.1 L1635.26,495.91 L1637.12,495.91 L1637.12,497.4 L1638.52,497.4 L1638.52,498.15 L1640.15,498.15 L1640.15,495.55 L1641.69,495.55 L1641.69,497.81 L1643.11,497.81 L1643.11,494.55 L1644.23,494.55 L1644.23,498.34 L1646.06,498.34 L1646.06,495.24 L1648.06,495.24 L1648.06,494 L1649.47,494 L1649.47,498.63 L1651.02,498.63 L1651.02,498.23 L1652.44,498.23 L1652.44,495.26 L1653.79,495.26 L1653.79,497.07 L1655.55,497.07 L1655.55,497.74 L1656.81,497.74 L1656.81,495.52 L1658.58,495.52 L1658.58,495.76 L1659.9,495.76 L1659.9,497.55 L1661.11,497.55 L1661.11,497.51 L1662.91,497.51 L1662.91,499.07 L1664.67,499.07 L1664.67,498.93 L1666.36,498.93 L1666.36,495.69 L1667.65,495.69 L1667.65,497.79 L1669.24,497.79 L1669.24,493.63 L1670.83,493.63 L1670.83,493.55 L1672.83,493.55 L1672.83,497.27 L1674.03,497.27 L1674.03,498.68 L1675.8,498.68 L1675.8,499.32 L1677.08,499.32 L1677.08,499.02 L1678.46,499.02 L1678.46,498.75 L1680.3,498.75 L1680.3,495.83 L1681.61,495.83 L1681.61,498.4 L1683.19,498.4 L1683.19,498.5 L1684.52,498.5 L1684.52,495.99 L1685.97,495.99 L1685.97,496.04 L1687.26,496.04 L1687.26,497.96 L1688.82,497.96 L1688.82,498.94 L1690.22,498.94 L1690.22,498.73 L1691.81,498.73 L1691.81,498.09 L1693.35,498.09 L1693.35,498.01 L1695.04,498.01 L1695.04,498.17 L1696.56,498.17 L1696.56,496.2 L1697.92,496.2 L1697.92,496.34 L1699.46,496.34 L1699.46,498.59 L1700.79,498.59 L1700.79,496.26 L1702.19,496.26 L1702.19,497.76 L1703.44,497.76 L1703.44,495.3 L1704.87,495.3 L1704.87,498.37 L1706.62,498.37 L1706.62,497.84 L1707.99,497.84 L1707.99,494.95 L1710.05,494.95 L1710.05,498.18 L1711.65,498.18 L1711.65,498.92 L1713.5,498.92 L1713.5,496.37 L1715.34,496.37 L1715.34,498.99 L1716.57,498.99 L1716.57,499.56 L1717.81,499.56 L1717.81,498.38 L1719.3,498.38 L1719.3,499.35 L1720.8,499.35 L1720.8,502.6 Z" fill="#5488a8" />
<path d="M1453.89,502.9 L1453.89,493.58 L1456.89,493.58 L1456.89,502.9 Z M1469.57,502.9 L1469.57,489.21 L1472.57,489.21 L1472.57,502.9 Z M1474.22,502.9 L1474.22,488.39 L1477.22,488.39 L1477.22,502.9 Z M1481.65,502.9 L1481.65,492.24 L1484.65,492.24 L1484.65,502.9 Z M1486.48,502.9 L1486.48,481.74 L1489.48,481.74 L1489.48,502.9 Z M1491.39,502.9 L1491.39,479.7 L1494.39,479.7 L1494.39,502.9 Z M1496.98,502.9 L1496.98,487.14 L1499.98,487.14 L1499.98,502.9 Z M1509.23,502.9 L1509.23,492.6 L1512.23,492.6 L1512.23,502.9 Z M1511.43,502.9 L1511.43,493.21 L1514.43,493.21 L1514.43,502.9 Z M1512.32,502.9 L1512.32,486 L1515.32,486 L1515.32,502.9 Z M1516.1,502.9 L1516.1,490.65 L1519.1,490.65 L1519.1,502.9 Z M1518.3,502.9 L1518.3,491.11 L1521.3,491.11 L1521.3,502.9 Z M1530.88,502.9 L1530.88,491.84 L1533.88,491.84 L1533.88,502.9 Z M1535.49,502.9 L1535.49,491.98 L1538.49,491.98 L1538.49,502.9 Z M1537.69,502.9 L1537.69,496.22 L1540.69,496.22 L1540.69,502.9 Z M1539.36,502.9 L1539.36,479.44 L1542.36,479.44 L1542.36,502.9 Z M1543.04,502.9 L1543.04,489.38 L1546.04,489.38 L1546.04,502.9 Z M1547.81,502.9 L1547.81,484.35 L1550.81,484.35 L1550.81,502.9 Z M1553.24,502.9 L1553.24,486.45 L1556.24,486.45 L1556.24,502.9 Z M1558.23,502.9 L1558.23,492.69 L1561.23,492.69 L1561.23,502.9 Z M1562.43,502.9 L1562.43,490.69 L1565.43,490.69 L1565.43,502.9 Z M1571.67,502.9 L1571.67,492.02 L1574.67,492.02 L1574.67,502.9 Z M1575.88,502.9 L1575.88,491.41 L1578.88,491.41 L1578.88,502.9 Z M1578.08,502.9 L1578.08,494.9 L1581.08,494.9 L1581.08,502.9 Z M1580.33,502.9 L1580.33,475.52 L1583.33,475.52 L1583.33,502.9 Z M1582.53,502.9 L1582.53,482.64 L1585.53,482.64 L1585.53,502.9 Z M1583.3,502.9 L1583.3,485.75 L1586.3,485.75 L1586.3,502.9 Z M1589.22,502.9 L1589.22,492.13 L1592.22,492.13 L1592.22,502.9 Z M1591.42,502.9 L1591.42,495.27 L1594.42,495.27 L1594.42,502.9 Z M1592.95,502.9 L1592.95,488.16 L1595.95,488.16 L1595.95,502.9 Z M1595.15,502.9 L1595.15,492.47 L1598.15,492.47 L1598.15,502.9 Z M1596.04,502.9 L1596.04,479.85 L1599.04,479.85 L1599.04,502.9 Z M1598.24,502.9 L1598.24,481.92 L1601.24,481.92 L1601.24,502.9 Z M1599.55,502.9 L1599.55,486.04 L1602.55,486.04 L1602.55,502.9 Z M1601.75,502.9 L1601.75,486.51 L1604.75,486.51 L1604.75,502.9 Z M1607.93,502.9 L1607.93,491.53 L1610.93,491.53 L1610.93,502.9 Z M1613.53,502.9 L1613.53,482.65 L1616.53,482.65 L1616.53,502.9 Z M1617.39,502.9 L1617.39,493.56 L1620.39,493.56 L1620.39,502.9 Z M1623.23,502.9 L1623.23,488.11 L1626.23,488.11 L1626.23,502.9 Z M1628.52,502.9 L1628.52,489.64 L1631.52,489.64 L1631.52,502.9 Z M1633.15,502.9 L1633.15,488.29 L1636.15,488.29 L1636.15,502.9 Z M1644.98,502.9 L1644.98,493.02 L1647.98,493.02 L1647.98,502.9 Z M1649.48,502.9 L1649.48,484.2 L1652.48,484.2 L1652.48,502.9 Z M1651.68,502.9 L1651.68,486.08 L1654.68,486.08 L1654.68,502.9 Z M1652.74,502.9 L1652.74,476.43 L1655.74,476.43 L1655.74,502.9 Z M1663.41,502.9 L1663.41,490.22 L1666.41,490.22 L1666.41,502.9 Z M1669.11,502.9 L1669.11,487.21 L1672.11,487.21 L1672.11,502.9 Z M1671.31,502.9 L1671.31,492.07 L1674.31,492.07 L1674.31,502.9 Z M1677.07,502.9 L1677.07,490.58 L1680.07,490.58 L1680.07,502.9 Z M1686.36,502.9 L1686.36,481.29 L1689.36,481.29 L1689.36,502.9 Z M1688.56,502.9 L1688.56,484.22 L1691.56,484.22 L1691.56,502.9 Z M1696.54,502.9 L1696.54,489.12 L1699.54,489.12 L1699.54,502.9 Z M1698.74,502.9 L1698.74,491.6 L1701.74,491.6 L1701.74,502.9 Z M1700.83,502.9 L1700.83,490.06 L1703.83,490.06 L1703.83,502.9 Z M1704.55,502.9 L1704.55,488.56 L1707.55,488.56 L1707.55,502.9 Z M1706.75,502.9 L1706.75,491.53 L1709.75,491.53 L1709.75,502.9 Z M1714.12,502.9 L1714.12,489.3 L1717.12,489.3 L1717.12,502.9 Z" fill="#5488a8"/>
<path d="M1584,502.6 L1584,333.6" fill="none" stroke="#5488a8" stroke-width="3.8" stroke-linecap="round"/>
<path d="M1580.3,502.9 L1580.3,479.14 L1582.9,479.14 L1582.9,502.9 Z M1585.1,502.9 L1585.1,473.53 L1587.7,473.53 L1587.7,502.9 Z M1578.2,502.9 L1578.2,488.6 L1580.8,488.6 L1580.8,502.9 Z M1587.3,502.9 L1587.3,490.6 L1589.9,490.6 L1589.9,502.9 Z" fill="#5488a8"/>
<path d="M1464,532 L1464,525.63 L1465.79,525.63 L1465.79,528.44 L1467.26,528.44 L1467.26,527.68 L1468.76,527.68 L1468.76,525.84 L1470,525.84 L1470,527.1 L1471.35,527.1 L1471.35,527.01 L1472.76,527.01 L1472.76,525.61 L1473.99,525.61 L1473.99,528.51 L1475.99,528.51 L1475.99,527.38 L1477.84,527.38 L1477.84,528.46 L1479.63,528.46 L1479.63,527.84 L1481.08,527.84 L1481.08,528.85 L1482.23,528.85 L1482.23,528.69 L1484.19,528.69 L1484.19,526.85 L1486,526.85 L1486,528.5 L1487.47,528.5 L1487.47,525.09 L1488.68,525.09 L1488.68,528.19 L1490.52,528.19 L1490.52,523.75 L1491.78,523.75 L1491.78,526.82 L1493.27,526.82 L1493.27,525.06 L1494.51,525.06 L1494.51,527.15 L1495.87,527.15 L1495.87,528.64 L1497.87,528.64 L1497.87,527.91 L1499.47,527.91 L1499.47,525.51 L1501.16,525.51 L1501.16,526.69 L1502.86,526.69 L1502.86,526.35 L1504.3,526.35 L1504.3,525.83 L1506.03,525.83 L1506.03,525.84 L1507.59,525.84 L1507.59,526.86 L1509.58,526.86 L1509.58,526.47 L1511.39,526.47 L1511.39,527.76 L1512.7,527.76 L1512.7,523.33 L1514.21,523.33 L1514.21,523.37 L1515.67,523.37 L1515.67,523.28 L1517.54,523.28 L1517.54,526.66 L1518.92,526.66 L1518.92,524.51 L1520.7,524.51 L1520.7,526.77 L1522.42,526.77 L1522.42,527.09 L1524.46,527.09 L1524.46,527.93 L1525.91,527.93 L1525.91,524.52 L1527.59,524.52 L1527.59,528.78 L1529.44,528.78 L1529.44,528.6 L1531.09,528.6 L1531.09,528.38 L1532.28,528.38 L1532.28,525.85 L1533.51,525.85 L1533.51,528.48 L1535.49,528.48 L1535.49,524.52 L1536.67,524.52 L1536.67,524.87 L1538.6,524.87 L1538.6,528.5 L1540.02,528.5 L1540.02,525.58 L1541.78,525.58 L1541.78,527.58 L1543.36,527.58 L1543.36,528.31 L1545.42,528.31 L1545.42,527.17 L1547.02,527.17 L1547.02,527.8 L1548.35,527.8 L1548.35,527.2 L1549.81,527.2 L1549.81,525.88 L1551.37,525.88 L1551.37,526.71 L1553.05,526.71 L1553.05,528.02 L1554.85,528.02 L1554.85,528.37 L1556.43,528.37 L1556.43,526.66 L1558.29,526.66 L1558.29,527.72 L1560.33,527.72 L1560.33,525.57 L1561.64,525.57 L1561.64,523.65 L1562.98,523.65 L1562.98,526.7 L1564.66,526.7 L1564.66,526.71 L1566.55,526.71 L1566.55,526.15 L1567.71,526.15 L1567.71,523.65 L1569.54,523.65 L1569.54,526.42 L1570.98,526.42 L1570.98,526.75 L1572.94,526.75 L1572.94,527.31 L1574.85,527.31 L1574.85,527.36 L1576.47,527.36 L1576.47,527.19 L1578.36,527.19 L1578.36,525.37 L1579.56,525.37 L1579.56,527.53 L1581.42,527.53 L1581.42,527.3 L1582.91,527.3 L1582.91,527.29 L1584.2,527.29 L1584.2,527.78 L1585.95,527.78 L1585.95,526.97 L1587.56,526.97 L1587.56,527.03 L1588.86,527.03 L1588.86,525.69 L1590.64,525.69 L1590.64,527.95 L1592.22,527.95 L1592.22,525.81 L1593.66,525.81 L1593.66,526.37 L1595.18,526.37 L1595.18,527.29 L1596.59,527.29 L1596.59,525.7 L1598.04,525.7 L1598.04,527.5 L1599.26,527.5 L1599.26,528.03 L1600.9,528.03 L1600.9,527.67 L1602.56,527.67 L1602.56,528.23 L1604.23,528.23 L1604.23,528.11 L1605.74,528.11 L1605.74,527.39 L1607.02,527.39 L1607.02,527.77 L1608.88,527.77 L1608.88,525.77 L1610.05,525.77 L1610.05,528.34 L1611.56,528.34 L1611.56,524.85 L1613.32,524.85 L1613.32,526.36 L1614.76,526.36 L1614.76,525.23 L1616.74,525.23 L1616.74,524.04 L1618.15,524.04 L1618.15,525.72 L1620.02,525.72 L1620.02,528.47 L1621.89,528.47 L1621.89,526.67 L1623.15,526.67 L1623.15,523.94 L1625.13,523.94 L1625.13,527.61 L1626.48,527.61 L1626.48,527.19 L1628.12,527.19 L1628.12,527.12 L1629.83,527.12 L1629.83,527.83 L1631.7,527.83 L1631.7,525.06 L1633.34,525.06 L1633.34,523.69 L1634.67,523.69 L1634.67,527.54 L1636.66,527.54 L1636.66,527.44 L1637.83,527.44 L1637.83,527.27 L1639.75,527.27 L1639.75,527.37 L1641.41,527.37 L1641.41,528.29 L1642.7,528.29 L1642.7,526.78 L1644.63,526.78 L1644.63,527.45 L1646.06,527.45 L1646.06,528.1 L1647.85,528.1 L1647.85,525.64 L1649.52,525.64 L1649.52,526.91 L1651.18,526.91 L1651.18,527.11 L1653.17,527.11 L1653.17,528 L1654.34,528 L1654.34,527.3 L1655.86,527.3 L1655.86,523.73 L1657.76,523.73 L1657.76,527.25 L1659.1,527.25 L1659.1,527.76 L1660.43,527.76 L1660.43,527.04 L1662.36,527.04 L1662.36,527.71 L1663.62,527.71 L1663.62,525.15 L1665.08,525.15 L1665.08,523.82 L1666.89,523.82 L1666.89,525.57 L1668.92,525.57 L1668.92,525.81 L1670.35,525.81 L1670.35,528.41 L1671.79,528.41 L1671.79,525.32 L1673.8,525.32 L1673.8,526.99 L1675.3,526.99 L1675.3,527.06 L1676.85,527.06 L1676.85,527.45 L1678.3,527.45 L1678.3,523.34 L1680.12,523.34 L1680.12,527.85 L1681.96,527.85 L1681.96,527.86 L1683.35,527.86 L1683.35,528.1 L1685.21,528.1 L1685.21,528.27 L1686.6,528.27 L1686.6,528.27 L1688.15,528.27 L1688.15,527.2 L1689.45,527.2 L1689.45,527.23 L1691.07,527.23 L1691.07,527.87 L1692.97,527.87 L1692.97,527.48 L1694.57,527.48 L1694.57,528 L1696.01,528 L1696.01,526.92 L1697.92,526.92 L1697.92,526.03 L1699.35,526.03 L1699.35,527.31 L1700.96,527.31 L1700.96,526.33 L1702.67,526.33 L1702.67,524.57 L1704.33,524.57 L1704.33,527.12 L1705.58,527.12 L1705.58,527.29 L1707.18,527.29 L1707.18,528.07 L1708.57,528.07 L1708.57,526.47 L1710.05,526.47 L1710.05,526.6 L1711.93,526.6 L1711.93,527.32 L1713.79,527.32 L1713.79,525.24 L1715.75,525.24 L1715.75,528.68 L1717.34,528.68 L1717.34,525.69 L1718.6,525.69 L1718.6,526.1 L1720.64,526.1 L1720.64,524.61 L1721.96,524.61 L1721.96,524.67 L1723.75,524.67 L1723.75,524.54 L1725.45,524.54 L1725.45,524.15 L1726.96,524.15 L1726.96,526.95 L1728.29,526.95 L1728.29,527.82 L1729.96,527.82 L1729.96,527.6 L1731.45,527.6 L1731.45,523.34 L1732.82,523.34 L1732.82,523.77 L1734.51,523.77 L1734.51,526.34 L1735,526.34 L1735,532 Z" fill="#56a772" />
<path d="M1468.2,532.3 L1468.2,504.54 L1471.2,504.54 L1471.2,532.3 Z M1470.4,532.3 L1470.4,509.14 L1473.4,509.14 L1473.4,532.3 Z M1472.85,532.3 L1472.85,514.9 L1475.85,514.9 L1475.85,532.3 Z M1487.29,532.3 L1487.29,518.11 L1490.29,518.11 L1490.29,532.3 Z M1490.37,532.3 L1490.37,504.93 L1493.37,504.93 L1493.37,532.3 Z M1495.37,532.3 L1495.37,515.82 L1498.37,515.82 L1498.37,532.3 Z M1505.08,532.3 L1505.08,522.41 L1508.08,522.41 L1508.08,532.3 Z M1512.62,532.3 L1512.62,521.86 L1515.62,521.86 L1515.62,532.3 Z M1521.02,532.3 L1521.02,518.03 L1524.02,518.03 L1524.02,532.3 Z M1529.75,532.3 L1529.75,521.77 L1532.75,521.77 L1532.75,532.3 Z M1531.95,532.3 L1531.95,522.47 L1534.95,522.47 L1534.95,532.3 Z M1545.34,532.3 L1545.34,518.63 L1548.34,518.63 L1548.34,532.3 Z M1547.54,532.3 L1547.54,522.93 L1550.54,522.93 L1550.54,532.3 Z M1550.28,532.3 L1550.28,519.39 L1553.28,519.39 L1553.28,532.3 Z M1560.79,532.3 L1560.79,518.14 L1563.79,518.14 L1563.79,532.3 Z M1563.68,532.3 L1563.68,521.04 L1566.68,521.04 L1566.68,532.3 Z M1567.58,532.3 L1567.58,519.48 L1570.58,519.48 L1570.58,532.3 Z M1569.78,532.3 L1569.78,522.76 L1572.78,522.76 L1572.78,532.3 Z M1576.45,532.3 L1576.45,516.08 L1579.45,516.08 L1579.45,532.3 Z M1581.1,532.3 L1581.1,505.53 L1584.1,505.53 L1584.1,532.3 Z M1583.3,532.3 L1583.3,515.32 L1586.3,515.32 L1586.3,532.3 Z M1584.71,532.3 L1584.71,516.58 L1587.71,516.58 L1587.71,532.3 Z M1587.95,532.3 L1587.95,518.41 L1590.95,518.41 L1590.95,532.3 Z M1592.28,532.3 L1592.28,516.74 L1595.28,516.74 L1595.28,532.3 Z M1594.48,532.3 L1594.48,517.88 L1597.48,517.88 L1597.48,532.3 Z M1594.9,532.3 L1594.9,514.01 L1597.9,514.01 L1597.9,532.3 Z M1597.1,532.3 L1597.1,516.71 L1600.1,516.71 L1600.1,532.3 Z M1599.31,532.3 L1599.31,521.63 L1602.31,521.63 L1602.31,532.3 Z M1601.51,532.3 L1601.51,525.6 L1604.51,525.6 L1604.51,532.3 Z M1602.55,532.3 L1602.55,504.27 L1605.55,504.27 L1605.55,532.3 Z M1607.72,532.3 L1607.72,504.61 L1610.72,504.61 L1610.72,532.3 Z M1609.92,532.3 L1609.92,505.05 L1612.92,505.05 L1612.92,532.3 Z M1620.72,532.3 L1620.72,518.46 L1623.72,518.46 L1623.72,532.3 Z M1629.74,532.3 L1629.74,505.2 L1632.74,505.2 L1632.74,532.3 Z M1632.75,532.3 L1632.75,517.55 L1635.75,517.55 L1635.75,532.3 Z M1640.88,532.3 L1640.88,514.62 L1643.88,514.62 L1643.88,532.3 Z M1643.89,532.3 L1643.89,512.78 L1646.89,512.78 L1646.89,532.3 Z M1646.09,532.3 L1646.09,512.97 L1649.09,512.97 L1649.09,532.3 Z M1647.93,532.3 L1647.93,518.67 L1650.93,518.67 L1650.93,532.3 Z M1673.16,532.3 L1673.16,517.06 L1676.16,517.06 L1676.16,532.3 Z M1675.36,532.3 L1675.36,522.28 L1678.36,522.28 L1678.36,532.3 Z M1678.74,532.3 L1678.74,518.92 L1681.74,518.92 L1681.74,532.3 Z M1682.96,532.3 L1682.96,515.51 L1685.96,515.51 L1685.96,532.3 Z M1690.79,532.3 L1690.79,520.15 L1693.79,520.15 L1693.79,532.3 Z M1706.83,532.3 L1706.83,516.02 L1709.83,516.02 L1709.83,532.3 Z M1711.45,532.3 L1711.45,505.2 L1714.45,505.2 L1714.45,532.3 Z M1716.09,532.3 L1716.09,515.97 L1719.09,515.97 L1719.09,532.3 Z M1720.86,532.3 L1720.86,504.97 L1723.86,504.97 L1723.86,532.3 Z M1730.73,532.3 L1730.73,516.67 L1733.73,516.67 L1733.73,532.3 Z" fill="#56a772"/>
<path d="M1597.5,532 L1597.5,374.8" fill="none" stroke="#56a772" stroke-width="3.8" stroke-linecap="round"/>
<path d="M1593.8,532.3 L1593.8,503.01 L1596.4,503.01 L1596.4,532.3 Z M1598.6,532.3 L1598.6,512.11 L1601.2,512.11 L1601.2,532.3 Z M1591.7,532.3 L1591.7,518 L1594.3,518 L1594.3,532.3 Z M1600.8,532.3 L1600.8,520 L1603.4,520 L1603.4,532.3 Z" fill="#56a772"/>
<path d="M1478,563 L1478,558.73 L1479.27,558.73 L1479.27,557.95 L1480.55,557.95 L1480.55,559.52 L1482.36,559.52 L1482.36,559.4 L1483.94,559.4 L1483.94,556.05 L1485.66,556.05 L1485.66,556.74 L1487.2,556.74 L1487.2,558.05 L1488.33,558.05 L1488.33,556.37 L1489.72,556.37 L1489.72,558.89 L1490.9,558.89 L1490.9,558.57 L1492.12,558.57 L1492.12,559.08 L1494.17,559.08 L1494.17,558.54 L1496.19,558.54 L1496.19,558.76 L1497.41,558.76 L1497.41,558.18 L1499.09,558.18 L1499.09,557.59 L1501.06,557.59 L1501.06,558.32 L1503.09,558.32 L1503.09,559.88 L1505.05,559.88 L1505.05,559.03 L1506.45,559.03 L1506.45,557.14 L1508.35,557.14 L1508.35,558.48 L1509.89,558.48 L1509.89,558.98 L1511.51,558.98 L1511.51,555.93 L1512.72,555.93 L1512.72,557.73 L1514.59,557.73 L1514.59,559.28 L1516.08,559.28 L1516.08,558.13 L1517.87,558.13 L1517.87,559.61 L1519.38,559.61 L1519.38,558.83 L1520.84,558.83 L1520.84,559.03 L1522.52,559.03 L1522.52,557.96 L1523.72,557.96 L1523.72,558.15 L1525.78,558.15 L1525.78,558.14 L1527.13,558.14 L1527.13,559.32 L1528.8,559.32 L1528.8,555.83 L1530.59,555.83 L1530.59,558.12 L1531.8,558.12 L1531.8,558.55 L1533.28,558.55 L1533.28,556.78 L1534.8,556.78 L1534.8,558.29 L1536.78,558.29 L1536.78,557.98 L1537.92,557.98 L1537.92,558.47 L1539.63,558.47 L1539.63,559.63 L1541.19,559.63 L1541.19,559.56 L1542.7,559.56 L1542.7,556.77 L1544.64,556.77 L1544.64,560.18 L1545.78,560.18 L1545.78,559.23 L1547.19,559.23 L1547.19,557.1 L1548.41,557.1 L1548.41,559.98 L1549.57,559.98 L1549.57,558.6 L1550.92,558.6 L1550.92,556.16 L1552.92,556.16 L1552.92,559.11 L1554.46,559.11 L1554.46,559.5 L1555.7,559.5 L1555.7,558.36 L1557.04,558.36 L1557.04,559.3 L1558.97,559.3 L1558.97,557.25 L1560.86,557.25 L1560.86,554.38 L1562.69,554.38 L1562.69,557.31 L1564.67,557.31 L1564.67,558.31 L1566.22,558.31 L1566.22,559.49 L1567.47,559.49 L1567.47,556.16 L1568.67,556.16 L1568.67,558.83 L1570.61,558.83 L1570.61,558.19 L1572.47,558.19 L1572.47,557.27 L1573.76,557.27 L1573.76,558.34 L1575.38,558.34 L1575.38,555.77 L1576.75,555.77 L1576.75,555.58 L1577.92,555.58 L1577.92,557.85 L1579.59,557.85 L1579.59,558.55 L1581.23,558.55 L1581.23,558.69 L1582.55,558.69 L1582.55,558.54 L1584,558.54 L1584,558.54 L1585.55,558.54 L1585.55,556.67 L1587.15,556.67 L1587.15,557.86 L1589.22,557.86 L1589.22,559.52 L1590.99,559.52 L1590.99,559.19 L1592.77,559.19 L1592.77,556.79 L1594.37,556.79 L1594.37,559.24 L1596.37,559.24 L1596.37,559.88 L1597.97,559.88 L1597.97,556.95 L1599.55,556.95 L1599.55,556.64 L1601.12,556.64 L1601.12,556.87 L1603.14,556.87 L1603.14,558.98 L1605.06,558.98 L1605.06,559.28 L1606.89,559.28 L1606.89,557.99 L1608.89,557.99 L1608.89,559.58 L1610.88,559.58 L1610.88,559.4 L1612.3,559.4 L1612.3,559.43 L1613.97,559.43 L1613.97,559.02 L1615.76,559.02 L1615.76,558.79 L1617.04,558.79 L1617.04,558.46 L1619.01,558.46 L1619.01,558.89 L1620.98,558.89 L1620.98,557.88 L1622.53,557.88 L1622.53,554.81 L1624.04,554.81 L1624.04,558.36 L1626.08,558.36 L1626.08,555.99 L1627.97,555.99 L1627.97,558.01 L1629.31,558.01 L1629.31,557.58 L1630.84,557.58 L1630.84,555.21 L1632.62,555.21 L1632.62,558.67 L1634.48,558.67 L1634.48,557.7 L1636.27,557.7 L1636.27,557.73 L1638.26,557.73 L1638.26,556.41 L1639.47,556.41 L1639.47,558.31 L1641.44,558.31 L1641.44,557.19 L1643.16,557.19 L1643.16,559.14 L1645.1,559.14 L1645.1,558.58 L1646.46,558.58 L1646.46,559.31 L1647.66,559.31 L1647.66,557.36 L1649.3,557.36 L1649.3,558.31 L1650.9,558.31 L1650.9,557.65 L1652.17,557.65 L1652.17,557.87 L1653.77,557.87 L1653.77,555.39 L1655.07,555.39 L1655.07,555.96 L1656.25,555.96 L1656.25,559.41 L1657.89,559.41 L1657.89,558.68 L1659.08,558.68 L1659.08,556.55 L1660.22,556.55 L1660.22,556.53 L1661.76,556.53 L1661.76,559.27 L1663.59,559.27 L1663.59,558.71 L1665.29,558.71 L1665.29,556.42 L1666.67,556.42 L1666.67,557.85 L1668.12,557.85 L1668.12,557.28 L1670.2,557.28 L1670.2,556.91 L1671.8,556.91 L1671.8,554.1 L1673.7,554.1 L1673.7,557.24 L1674.93,557.24 L1674.93,555 L1676.89,555 L1676.89,556.11 L1678.85,556.11 L1678.85,558.87 L1680.72,558.87 L1680.72,558.81 L1682.39,558.81 L1682.39,557.13 L1683.61,557.13 L1683.61,558.57 L1685.41,558.57 L1685.41,556.26 L1687.39,556.26 L1687.39,558.3 L1688.69,558.3 L1688.69,558.56 L1690.25,558.56 L1690.25,559.32 L1692,559.32 L1692,558.35 L1693.4,558.35 L1693.4,558.39 L1694.68,558.39 L1694.68,558.97 L1696.46,558.97 L1696.46,555.15 L1698.45,555.15 L1698.45,556.54 L1699.6,556.54 L1699.6,559.36 L1700.76,559.36 L1700.76,558.8 L1702.24,558.8 L1702.24,558.83 L1703.92,558.83 L1703.92,557.61 L1705.14,557.61 L1705.14,557.44 L1707.09,557.44 L1707.09,558.63 L1708.89,558.63 L1708.89,554.54 L1710.39,554.54 L1710.39,557.33 L1711.77,557.33 L1711.77,558.31 L1713.52,558.31 L1713.52,559.19 L1715.04,559.19 L1715.04,559.28 L1717.07,559.28 L1717.07,557.17 L1718.28,557.17 L1718.28,558.15 L1719.87,558.15 L1719.87,558.74 L1721,558.74 L1721,558.01 L1722.61,558.01 L1722.61,559.05 L1724.36,559.05 L1724.36,558.66 L1726.25,558.66 L1726.25,559.28 L1727.85,559.28 L1727.85,559.87 L1729.86,559.87 L1729.86,556.27 L1731.52,556.27 L1731.52,558.6 L1732.68,558.6 L1732.68,556.5 L1734.01,556.5 L1734.01,555.8 L1735.43,555.8 L1735.43,558.06 L1736.84,558.06 L1736.84,558.58 L1738.39,558.58 L1738.39,556.08 L1739.55,556.08 L1739.55,559.55 L1740.81,559.55 L1740.81,559.81 L1742.8,559.81 L1742.8,559.7 L1744.28,559.7 L1744.28,558.87 L1744.5,558.87 L1744.5,563 Z" fill="#d2242b" />
<path d="M1478.63,563.3 L1478.63,550.62 L1481.63,550.62 L1481.63,563.3 Z M1490.15,563.3 L1490.15,549.87 L1493.15,549.87 L1493.15,563.3 Z M1493.34,563.3 L1493.34,550.35 L1496.34,550.35 L1496.34,563.3 Z M1501.33,563.3 L1501.33,546.03 L1504.33,546.03 L1504.33,563.3 Z M1503.53,563.3 L1503.53,547.2 L1506.53,547.2 L1506.53,563.3 Z M1506.6,563.3 L1506.6,545.81 L1509.6,545.81 L1509.6,563.3 Z M1508.8,563.3 L1508.8,546.43 L1511.8,546.43 L1511.8,563.3 Z M1518.41,563.3 L1518.41,549.62 L1521.41,549.62 L1521.41,563.3 Z M1520.61,563.3 L1520.61,554.85 L1523.61,554.85 L1523.61,563.3 Z M1529.96,563.3 L1529.96,547.35 L1532.96,547.35 L1532.96,563.3 Z M1533.63,563.3 L1533.63,548.93 L1536.63,548.93 L1536.63,563.3 Z M1535.83,563.3 L1535.83,553.69 L1538.83,553.69 L1538.83,563.3 Z M1536.54,563.3 L1536.54,543.9 L1539.54,543.9 L1539.54,563.3 Z M1539.97,563.3 L1539.97,552.5 L1542.97,552.5 L1542.97,563.3 Z M1542.88,563.3 L1542.88,544.56 L1545.88,544.56 L1545.88,563.3 Z M1545.55,563.3 L1545.55,537.03 L1548.55,537.03 L1548.55,563.3 Z M1558.25,563.3 L1558.25,546.83 L1561.25,546.83 L1561.25,563.3 Z M1560.45,563.3 L1560.45,547.9 L1563.45,547.9 L1563.45,563.3 Z M1563.47,563.3 L1563.47,545.92 L1566.47,545.92 L1566.47,563.3 Z M1568.1,563.3 L1568.1,547.32 L1571.1,547.32 L1571.1,563.3 Z M1570.3,563.3 L1570.3,549.92 L1573.3,549.92 L1573.3,563.3 Z M1571.6,563.3 L1571.6,552.31 L1574.6,552.31 L1574.6,563.3 Z M1573.8,563.3 L1573.8,555.58 L1576.8,555.58 L1576.8,563.3 Z M1574.67,563.3 L1574.67,548.58 L1577.67,548.58 L1577.67,563.3 Z M1576.87,563.3 L1576.87,554.23 L1579.87,554.23 L1579.87,563.3 Z M1580.43,563.3 L1580.43,553.52 L1583.43,553.52 L1583.43,563.3 Z M1586.89,563.3 L1586.89,550.5 L1589.89,550.5 L1589.89,563.3 Z M1592,563.3 L1592,551.74 L1595,551.74 L1595,563.3 Z M1595.73,563.3 L1595.73,552.69 L1598.73,552.69 L1598.73,563.3 Z M1602.63,563.3 L1602.63,550.26 L1605.63,550.26 L1605.63,563.3 Z M1605.35,563.3 L1605.35,551.97 L1608.35,551.97 L1608.35,563.3 Z M1608.9,563.3 L1608.9,549.34 L1611.9,549.34 L1611.9,563.3 Z M1613.98,563.3 L1613.98,547.06 L1616.98,547.06 L1616.98,563.3 Z M1619.11,563.3 L1619.11,546.15 L1622.11,546.15 L1622.11,563.3 Z M1622.68,563.3 L1622.68,546.95 L1625.68,546.95 L1625.68,563.3 Z M1625.78,563.3 L1625.78,542.29 L1628.78,542.29 L1628.78,563.3 Z M1631.53,563.3 L1631.53,536.41 L1634.53,536.41 L1634.53,563.3 Z M1633.73,563.3 L1633.73,544.37 L1636.73,544.37 L1636.73,563.3 Z M1636.37,563.3 L1636.37,553.9 L1639.37,553.9 L1639.37,563.3 Z M1638.57,563.3 L1638.57,555.21 L1641.57,555.21 L1641.57,563.3 Z M1639.32,563.3 L1639.32,546.81 L1642.32,546.81 L1642.32,563.3 Z M1641.52,563.3 L1641.52,547.51 L1644.52,547.51 L1644.52,563.3 Z M1645.04,563.3 L1645.04,545.78 L1648.04,545.78 L1648.04,563.3 Z M1647.24,563.3 L1647.24,548.56 L1650.24,548.56 L1650.24,563.3 Z M1650.31,563.3 L1650.31,543.14 L1653.31,543.14 L1653.31,563.3 Z M1655.45,563.3 L1655.45,548.05 L1658.45,548.05 L1658.45,563.3 Z M1663.93,563.3 L1663.93,542.13 L1666.93,542.13 L1666.93,563.3 Z M1669.59,563.3 L1669.59,539.77 L1672.59,539.77 L1672.59,563.3 Z M1679.39,563.3 L1679.39,550.28 L1682.39,550.28 L1682.39,563.3 Z M1681.59,563.3 L1681.59,551.28 L1684.59,551.28 L1684.59,563.3 Z M1682.96,563.3 L1682.96,542.49 L1685.96,542.49 L1685.96,563.3 Z M1685.16,563.3 L1685.16,545.5 L1688.16,545.5 L1688.16,563.3 Z M1685.97,563.3 L1685.97,549.66 L1688.97,549.66 L1688.97,563.3 Z M1689.16,563.3 L1689.16,547.84 L1692.16,547.84 L1692.16,563.3 Z M1691.36,563.3 L1691.36,553.39 L1694.36,553.39 L1694.36,563.3 Z M1706.09,563.3 L1706.09,547.29 L1709.09,547.29 L1709.09,563.3 Z M1708.29,563.3 L1708.29,548.71 L1711.29,548.71 L1711.29,563.3 Z M1708.69,563.3 L1708.69,548.06 L1711.69,548.06 L1711.69,563.3 Z M1716.85,563.3 L1716.85,537.31 L1719.85,537.31 L1719.85,563.3 Z M1721.58,563.3 L1721.58,551.73 L1724.58,551.73 L1724.58,563.3 Z M1725.52,563.3 L1725.52,550.88 L1728.52,550.88 L1728.52,563.3 Z M1727.72,563.3 L1727.72,550.95 L1730.72,550.95 L1730.72,563.3 Z M1739.24,563.3 L1739.24,549.24 L1742.24,549.24 L1742.24,563.3 Z" fill="#d2242b"/>
<path d="M1612.4,563 L1612.4,406.4" fill="none" stroke="#d2242b" stroke-width="3.8" stroke-linecap="round"/>
<path d="M1608.7,563.3 L1608.7,539.46 L1611.3,539.46 L1611.3,563.3 Z M1613.5,563.3 L1613.5,541.82 L1616.1,541.82 L1616.1,563.3 Z M1606.6,563.3 L1606.6,549 L1609.2,549 L1609.2,563.3 Z M1615.7,563.3 L1615.7,551 L1618.3,551 L1618.3,563.3 Z" fill="#d2242b"/>
<line x1="1434.4" y1="316.8" x2="1434.4" y2="470.2" stroke="#000" stroke-width="2.8" />
<line x1="1434.4" y1="318.3" x2="1438.5" y2="318.3" stroke="#000" stroke-width="2.6" />
<line x1="1434.4" y1="340.4" x2="1442.5" y2="340.4" stroke="#000" stroke-width="2.6" />
<line x1="1434.4" y1="387.9" x2="1442.5" y2="387.9" stroke="#000" stroke-width="2.6" />
<line x1="1434.4" y1="432.9" x2="1442.5" y2="432.9" stroke="#000" stroke-width="2.6" />
<polyline points="1434.4,470.2 1477.5,563.7 1751,563.7" fill="none" stroke="#000" stroke-width="2.8" stroke-linejoin="miter"/>
<line x1="1542" y1="563.7" x2="1542" y2="557" stroke="#000" stroke-width="2.8" />
<line x1="1611" y1="563.7" x2="1611" y2="557" stroke="#000" stroke-width="2.8" />
<line x1="1680.4" y1="563.7" x2="1680.4" y2="557" stroke="#000" stroke-width="2.8" />
<text x="1421.3" y="349.6" font-size="26" text-anchor="end" textLength="33.5" lengthAdjust="spacingAndGlyphs">-10</text>
<text x="1421.3" y="397.4" font-size="26" text-anchor="end" textLength="33.5" lengthAdjust="spacingAndGlyphs">-30</text>
<text x="1421.3" y="442.2" font-size="26" text-anchor="end" textLength="33.5" lengthAdjust="spacingAndGlyphs">-50</text>
<text x="1484.3" y="589.4" font-size="26" text-anchor="middle" textLength="22.5" lengthAdjust="spacingAndGlyphs">-8</text>
<text x="1539.6" y="589.4" font-size="26" text-anchor="middle" textLength="22.5" lengthAdjust="spacingAndGlyphs">-4</text>
<text x="1612.4" y="589.4" font-size="26" text-anchor="middle" textLength="14.2" lengthAdjust="spacingAndGlyphs">0</text>
<text x="1681.2" y="589.4" font-size="26" text-anchor="middle" textLength="14.2" lengthAdjust="spacingAndGlyphs">4</text>
<text x="1741.8" y="589.4" font-size="26" text-anchor="middle" textLength="14.2" lengthAdjust="spacingAndGlyphs">8</text>
<text x="1571" y="620.4" font-size="26.5" font-style="italic">f</text>
<text x="1584" y="628.5" font-size="16.5" textLength="40.5" lengthAdjust="spacingAndGlyphs">offset</text>
<text x="1632.6" y="620.4" font-size="26.5" textLength="46" lengthAdjust="spacingAndGlyphs">[Hz]</text>
<text x="1372" y="431.6" font-size="27.6" font-style="italic" textLength="16.5" lengthAdjust="spacingAndGlyphs" transform="rotate(-90 1372 431.6)">P</text>
<text x="1380" y="414.7" font-size="15.5" textLength="14.5" lengthAdjust="spacingAndGlyphs" transform="rotate(-90 1380 414.7)">RF</text>
<text x="1372" y="390.2" font-size="27.6" textLength="72.5" lengthAdjust="spacingAndGlyphs" transform="rotate(-90 1372 390.2)">[dBm]</text>
<text x="1395" y="476" font-size="26" fill="#e38fd4" font-style="italic">λ</text>
<text x="1409.2" y="476" font-size="26" fill="#e38fd4">4</text>
<text x="1409.6" y="505.7" font-size="26" fill="#3571b3" font-style="italic">λ</text>
<text x="1423.8" y="505.7" font-size="26" fill="#3571b3">3</text>
<text x="1425" y="536" font-size="26" fill="#56c17a" font-style="italic">λ</text>
<text x="1439.2" y="536" font-size="26" fill="#56c17a">2</text>
<text x="1440" y="570.5" font-size="26" fill="#e03222" font-style="italic">λ</text>
<text x="1453.5" y="570.5" font-size="26" fill="#e03222">1</text>
</g>
</svg>
</body></html>
